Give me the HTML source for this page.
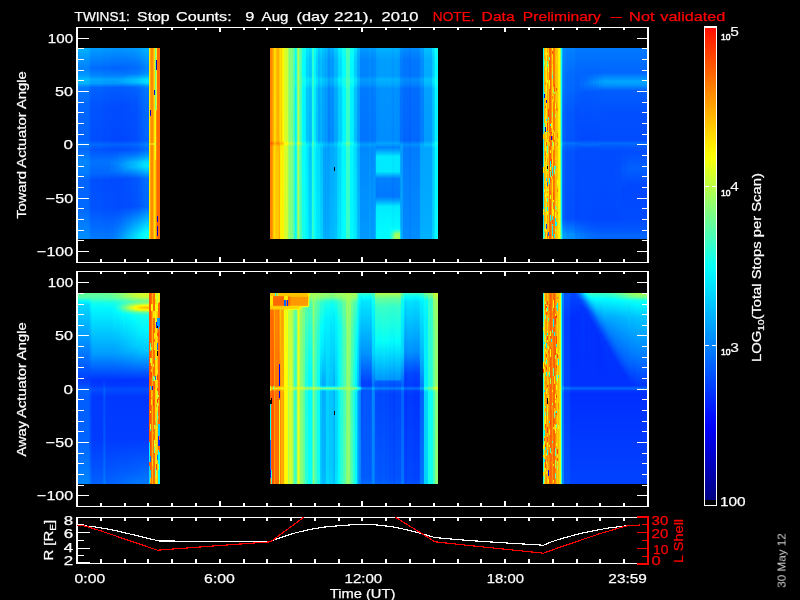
<!DOCTYPE html>
<html><head><meta charset="utf-8"><title>TWINS1 Stop Counts</title>
<style>
html,body{margin:0;padding:0;background:#000;}
body{width:800px;height:600px;position:relative;overflow:hidden;font-family:"Liberation Sans",sans-serif;}
svg{position:absolute;left:0;top:0;display:block;}
text{font-family:"Liberation Sans",sans-serif;font-weight:400;white-space:pre;stroke-width:.25px;}
</style></head><body>
<svg width="800" height="600" viewBox="0 0 800 600" shape-rendering="crispEdges">
<rect width="800" height="600" fill="#000"/>
<defs><linearGradient id="a0" gradientUnits="userSpaceOnUse" x1="0" y1="48" x2="0" y2="239"><stop offset="0.002618" stop-color="#00b1ff"/><stop offset="0.1073" stop-color="#007fff"/><stop offset="0.144" stop-color="#009aff"/><stop offset="0.1649" stop-color="#0bf"/><stop offset="0.1859" stop-color="#00b1ff"/><stop offset="0.2068" stop-color="#07f"/><stop offset="0.3063" stop-color="#0067ff"/><stop offset="0.4843" stop-color="#0062ff"/><stop offset="0.5052" stop-color="#007dff"/><stop offset="0.5314" stop-color="#0068ff"/><stop offset="0.5942" stop-color="#0086ff"/><stop offset="0.6571" stop-color="#007bff"/><stop offset="0.6937" stop-color="#0064ff"/><stop offset="0.8403" stop-color="#0068ff"/><stop offset="0.9764" stop-color="#008aff"/><stop offset="0.9974" stop-color="#008eff"/></linearGradient>
<linearGradient id="a1" gradientUnits="userSpaceOnUse" x1="0" y1="48" x2="0" y2="239"><stop offset="0.002618" stop-color="#00a5ff"/><stop offset="0.1073" stop-color="#0074ff"/><stop offset="0.144" stop-color="#008eff"/><stop offset="0.1649" stop-color="#00b0ff"/><stop offset="0.1859" stop-color="#00a5ff"/><stop offset="0.2068" stop-color="#006bff"/><stop offset="0.3063" stop-color="#005cff"/><stop offset="0.4843" stop-color="#0057ff"/><stop offset="0.5052" stop-color="#0072ff"/><stop offset="0.5314" stop-color="#005dff"/><stop offset="0.5942" stop-color="#007bff"/><stop offset="0.6571" stop-color="#0070ff"/><stop offset="0.6937" stop-color="#0058ff"/><stop offset="0.8403" stop-color="#005cff"/><stop offset="0.9764" stop-color="#007eff"/><stop offset="0.9974" stop-color="#0083ff"/></linearGradient>
<linearGradient id="a2" gradientUnits="userSpaceOnUse" x1="0" y1="48" x2="0" y2="239"><stop offset="0.002618" stop-color="#009cff"/><stop offset="0.1073" stop-color="#006bff"/><stop offset="0.144" stop-color="#0085ff"/><stop offset="0.1649" stop-color="#00a7ff"/><stop offset="0.1859" stop-color="#009cff"/><stop offset="0.2068" stop-color="#0062ff"/><stop offset="0.3063" stop-color="#0053ff"/><stop offset="0.4843" stop-color="#004eff"/><stop offset="0.5052" stop-color="#0069ff"/><stop offset="0.5314" stop-color="#0054ff"/><stop offset="0.5942" stop-color="#0072ff"/><stop offset="0.6571" stop-color="#0067ff"/><stop offset="0.6937" stop-color="#004fff"/><stop offset="0.8403" stop-color="#0053ff"/><stop offset="0.9764" stop-color="#0075ff"/><stop offset="0.9974" stop-color="#007aff"/></linearGradient>
<linearGradient id="a3" gradientUnits="userSpaceOnUse" x1="0" y1="48" x2="0" y2="239"><stop offset="0.002618" stop-color="#0098ff"/><stop offset="0.1073" stop-color="#0067ff"/><stop offset="0.144" stop-color="#0081ff"/><stop offset="0.1649" stop-color="#00a3ff"/><stop offset="0.1859" stop-color="#0098ff"/><stop offset="0.2068" stop-color="#005eff"/><stop offset="0.3063" stop-color="#004fff"/><stop offset="0.4843" stop-color="#004aff"/><stop offset="0.5052" stop-color="#0065ff"/><stop offset="0.5314" stop-color="#0050ff"/><stop offset="0.5942" stop-color="#0073ff"/><stop offset="0.6518" stop-color="#0069ff"/><stop offset="0.6937" stop-color="#004bff"/><stop offset="0.8403" stop-color="#004fff"/><stop offset="0.9764" stop-color="#0073ff"/><stop offset="0.9974" stop-color="#07f"/></linearGradient>
<linearGradient id="a4" gradientUnits="userSpaceOnUse" x1="0" y1="48" x2="0" y2="239"><stop offset="0.002618" stop-color="#0096ff"/><stop offset="0.1073" stop-color="#0065ff"/><stop offset="0.144" stop-color="#007fff"/><stop offset="0.1649" stop-color="#00a1ff"/><stop offset="0.1859" stop-color="#0096ff"/><stop offset="0.2068" stop-color="#005cff"/><stop offset="0.3063" stop-color="#004dff"/><stop offset="0.4843" stop-color="#0048ff"/><stop offset="0.5052" stop-color="#0063ff"/><stop offset="0.5314" stop-color="#004eff"/><stop offset="0.5995" stop-color="#007aff"/><stop offset="0.6466" stop-color="#0070ff"/><stop offset="0.6885" stop-color="#004aff"/><stop offset="0.8403" stop-color="#004eff"/><stop offset="0.9974" stop-color="#007cff"/></linearGradient>
<linearGradient id="a5" gradientUnits="userSpaceOnUse" x1="0" y1="48" x2="0" y2="239"><stop offset="0.002618" stop-color="#0095ff"/><stop offset="0.1073" stop-color="#0064ff"/><stop offset="0.144" stop-color="#007fff"/><stop offset="0.1649" stop-color="#00a2ff"/><stop offset="0.1859" stop-color="#0097ff"/><stop offset="0.2068" stop-color="#005bff"/><stop offset="0.3063" stop-color="#004cff"/><stop offset="0.4843" stop-color="#0047ff"/><stop offset="0.5052" stop-color="#0062ff"/><stop offset="0.5314" stop-color="#004eff"/><stop offset="0.5995" stop-color="#0081ff"/><stop offset="0.6414" stop-color="#0079ff"/><stop offset="0.6885" stop-color="#004aff"/><stop offset="0.8403" stop-color="#004dff"/><stop offset="0.9974" stop-color="#0085ff"/></linearGradient>
<linearGradient id="a6" gradientUnits="userSpaceOnUse" x1="0" y1="48" x2="0" y2="239"><stop offset="0.002618" stop-color="#0095ff"/><stop offset="0.1073" stop-color="#0063ff"/><stop offset="0.144" stop-color="#007fff"/><stop offset="0.1649" stop-color="#00a4ff"/><stop offset="0.1859" stop-color="#0098ff"/><stop offset="0.2068" stop-color="#005bff"/><stop offset="0.3063" stop-color="#004cff"/><stop offset="0.4843" stop-color="#0047ff"/><stop offset="0.5052" stop-color="#0062ff"/><stop offset="0.5314" stop-color="#004eff"/><stop offset="0.5995" stop-color="#08f"/><stop offset="0.6414" stop-color="#007dff"/><stop offset="0.6885" stop-color="#004aff"/><stop offset="0.8351" stop-color="#004bff"/><stop offset="0.9974" stop-color="#008dff"/></linearGradient>
<linearGradient id="a7" gradientUnits="userSpaceOnUse" x1="0" y1="48" x2="0" y2="239"><stop offset="0.002618" stop-color="#0095ff"/><stop offset="0.1073" stop-color="#0064ff"/><stop offset="0.144" stop-color="#007fff"/><stop offset="0.1649" stop-color="#00a6ff"/><stop offset="0.1806" stop-color="#00a3ff"/><stop offset="0.2068" stop-color="#005cff"/><stop offset="0.3063" stop-color="#004cff"/><stop offset="0.4843" stop-color="#0047ff"/><stop offset="0.5052" stop-color="#0062ff"/><stop offset="0.5314" stop-color="#004eff"/><stop offset="0.5733" stop-color="#0079ff"/><stop offset="0.6152" stop-color="#0090ff"/><stop offset="0.6518" stop-color="#0074ff"/><stop offset="0.6885" stop-color="#004aff"/><stop offset="0.8351" stop-color="#004bff"/><stop offset="0.9974" stop-color="#0095ff"/></linearGradient>
<linearGradient id="a8" gradientUnits="userSpaceOnUse" x1="0" y1="48" x2="0" y2="239"><stop offset="0.002618" stop-color="#0095ff"/><stop offset="0.1073" stop-color="#0064ff"/><stop offset="0.144" stop-color="#0080ff"/><stop offset="0.1649" stop-color="#00a8ff"/><stop offset="0.1806" stop-color="#00a6ff"/><stop offset="0.2068" stop-color="#005cff"/><stop offset="0.301" stop-color="#004cff"/><stop offset="0.4843" stop-color="#0047ff"/><stop offset="0.5052" stop-color="#0062ff"/><stop offset="0.5314" stop-color="#004eff"/><stop offset="0.5681" stop-color="#0074ff"/><stop offset="0.6099" stop-color="#0096ff"/><stop offset="0.6466" stop-color="#007fff"/><stop offset="0.6885" stop-color="#004bff"/><stop offset="0.8351" stop-color="#004cff"/><stop offset="0.9974" stop-color="#009eff"/></linearGradient>
<linearGradient id="a9" gradientUnits="userSpaceOnUse" x1="0" y1="48" x2="0" y2="239"><stop offset="0.002618" stop-color="#0096ff"/><stop offset="0.1073" stop-color="#0065ff"/><stop offset="0.1387" stop-color="#0078ff"/><stop offset="0.1649" stop-color="#00abff"/><stop offset="0.1806" stop-color="#00a9ff"/><stop offset="0.2068" stop-color="#005dff"/><stop offset="0.301" stop-color="#004dff"/><stop offset="0.4843" stop-color="#0048ff"/><stop offset="0.5052" stop-color="#0063ff"/><stop offset="0.5314" stop-color="#004fff"/><stop offset="0.5681" stop-color="#07f"/><stop offset="0.6047" stop-color="#009cff"/><stop offset="0.6361" stop-color="#0090ff"/><stop offset="0.6832" stop-color="#004eff"/><stop offset="0.8351" stop-color="#004dff"/><stop offset="0.9921" stop-color="#00a6ff"/><stop offset="0.9974" stop-color="#00a7ff"/></linearGradient>
<linearGradient id="a10" gradientUnits="userSpaceOnUse" x1="0" y1="48" x2="0" y2="239"><stop offset="0.002618" stop-color="#0097ff"/><stop offset="0.1021" stop-color="#06f"/><stop offset="0.1387" stop-color="#0079ff"/><stop offset="0.1649" stop-color="#00afff"/><stop offset="0.1806" stop-color="#00acff"/><stop offset="0.2068" stop-color="#005eff"/><stop offset="0.301" stop-color="#004eff"/><stop offset="0.4843" stop-color="#0048ff"/><stop offset="0.5052" stop-color="#0063ff"/><stop offset="0.5314" stop-color="#0050ff"/><stop offset="0.5681" stop-color="#007aff"/><stop offset="0.6047" stop-color="#00a2ff"/><stop offset="0.6361" stop-color="#0096ff"/><stop offset="0.6832" stop-color="#004fff"/><stop offset="0.8351" stop-color="#004eff"/><stop offset="0.9921" stop-color="#00b0ff"/><stop offset="0.9974" stop-color="#00b0ff"/></linearGradient>
<linearGradient id="a11" gradientUnits="userSpaceOnUse" x1="0" y1="48" x2="0" y2="239"><stop offset="0.002618" stop-color="#0098ff"/><stop offset="0.1021" stop-color="#0067ff"/><stop offset="0.1335" stop-color="#0074ff"/><stop offset="0.1649" stop-color="#00b2ff"/><stop offset="0.1806" stop-color="#00b0ff"/><stop offset="0.2068" stop-color="#005fff"/><stop offset="0.301" stop-color="#004eff"/><stop offset="0.4843" stop-color="#0049ff"/><stop offset="0.5052" stop-color="#0064ff"/><stop offset="0.5314" stop-color="#0051ff"/><stop offset="0.5628" stop-color="#0073ff"/><stop offset="0.5995" stop-color="#00a6ff"/><stop offset="0.6257" stop-color="#00a5ff"/><stop offset="0.6832" stop-color="#0051ff"/><stop offset="0.8298" stop-color="#004cff"/><stop offset="0.9869" stop-color="#00b9ff"/><stop offset="0.9974" stop-color="#00b9ff"/></linearGradient>
<linearGradient id="a12" gradientUnits="userSpaceOnUse" x1="0" y1="48" x2="0" y2="239"><stop offset="0.002618" stop-color="#09f"/><stop offset="0.1021" stop-color="#0068ff"/><stop offset="0.1335" stop-color="#0076ff"/><stop offset="0.1649" stop-color="#00b6ff"/><stop offset="0.1806" stop-color="#00b3ff"/><stop offset="0.2068" stop-color="#0061ff"/><stop offset="0.2958" stop-color="#004fff"/><stop offset="0.4843" stop-color="#004aff"/><stop offset="0.5052" stop-color="#0065ff"/><stop offset="0.5314" stop-color="#0052ff"/><stop offset="0.5628" stop-color="#0075ff"/><stop offset="0.5995" stop-color="#00acff"/><stop offset="0.6257" stop-color="#00acff"/><stop offset="0.6832" stop-color="#0052ff"/><stop offset="0.8298" stop-color="#004dff"/><stop offset="0.9869" stop-color="#00c2ff"/><stop offset="0.9974" stop-color="#00c3ff"/></linearGradient>
<linearGradient id="a13" gradientUnits="userSpaceOnUse" x1="0" y1="48" x2="0" y2="239"><stop offset="0.002618" stop-color="#09f"/><stop offset="0.1021" stop-color="#0069ff"/><stop offset="0.1335" stop-color="#07f"/><stop offset="0.1545" stop-color="#00a6ff"/><stop offset="0.1702" stop-color="#00bdff"/><stop offset="0.1859" stop-color="#0af"/><stop offset="0.2016" stop-color="#006cff"/><stop offset="0.2225" stop-color="#005cff"/><stop offset="0.322" stop-color="#0050ff"/><stop offset="0.4843" stop-color="#004bff"/><stop offset="0.5052" stop-color="#06f"/><stop offset="0.5314" stop-color="#0054ff"/><stop offset="0.5628" stop-color="#0078ff"/><stop offset="0.5995" stop-color="#00b1ff"/><stop offset="0.6257" stop-color="#00b1ff"/><stop offset="0.6832" stop-color="#0053ff"/><stop offset="0.8298" stop-color="#004eff"/><stop offset="0.9817" stop-color="#00caff"/><stop offset="0.9974" stop-color="#0cf"/></linearGradient>
<linearGradient id="a14" gradientUnits="userSpaceOnUse" x1="0" y1="48" x2="0" y2="239"><stop offset="0.002618" stop-color="#009aff"/><stop offset="0.1021" stop-color="#006aff"/><stop offset="0.1335" stop-color="#0078ff"/><stop offset="0.1492" stop-color="#0098ff"/><stop offset="0.1649" stop-color="#00bdff"/><stop offset="0.1806" stop-color="#00baff"/><stop offset="0.2068" stop-color="#0063ff"/><stop offset="0.2958" stop-color="#0051ff"/><stop offset="0.4843" stop-color="#004cff"/><stop offset="0.5052" stop-color="#0067ff"/><stop offset="0.5314" stop-color="#05f"/><stop offset="0.5628" stop-color="#007aff"/><stop offset="0.5995" stop-color="#00b7ff"/><stop offset="0.6257" stop-color="#00b7ff"/><stop offset="0.6832" stop-color="#05f"/><stop offset="0.8298" stop-color="#0050ff"/><stop offset="0.8979" stop-color="#008dff"/><stop offset="0.9869" stop-color="#00d4ff"/><stop offset="0.9974" stop-color="#00d5ff"/></linearGradient>
<linearGradient id="a15" gradientUnits="userSpaceOnUse" x1="0" y1="48" x2="0" y2="239"><stop offset="0.002618" stop-color="#009cff"/><stop offset="0.1021" stop-color="#006bff"/><stop offset="0.1335" stop-color="#0079ff"/><stop offset="0.1492" stop-color="#009aff"/><stop offset="0.1649" stop-color="#00c0ff"/><stop offset="0.1806" stop-color="#00beff"/><stop offset="0.2068" stop-color="#0064ff"/><stop offset="0.2958" stop-color="#0052ff"/><stop offset="0.4843" stop-color="#004dff"/><stop offset="0.5052" stop-color="#0068ff"/><stop offset="0.5314" stop-color="#0056ff"/><stop offset="0.5628" stop-color="#007cff"/><stop offset="0.5995" stop-color="#00bcff"/><stop offset="0.6257" stop-color="#00bcff"/><stop offset="0.6832" stop-color="#0056ff"/><stop offset="0.8298" stop-color="#0051ff"/><stop offset="0.8979" stop-color="#0092ff"/><stop offset="0.9817" stop-color="#00dbff"/><stop offset="0.9974" stop-color="#0df"/></linearGradient>
<linearGradient id="a16" gradientUnits="userSpaceOnUse" x1="0" y1="48" x2="0" y2="239"><stop offset="0.002618" stop-color="#009fff"/><stop offset="0.1021" stop-color="#006eff"/><stop offset="0.1335" stop-color="#007cff"/><stop offset="0.1492" stop-color="#009eff"/><stop offset="0.1649" stop-color="#00c6ff"/><stop offset="0.1806" stop-color="#00c3ff"/><stop offset="0.2016" stop-color="#0073ff"/><stop offset="0.2225" stop-color="#0061ff"/><stop offset="0.322" stop-color="#05f"/><stop offset="0.4843" stop-color="#0050ff"/><stop offset="0.5052" stop-color="#006bff"/><stop offset="0.5314" stop-color="#0059ff"/><stop offset="0.5628" stop-color="#0080ff"/><stop offset="0.5995" stop-color="#00c3ff"/><stop offset="0.6257" stop-color="#00c3ff"/><stop offset="0.6832" stop-color="#005aff"/><stop offset="0.8298" stop-color="#0054ff"/><stop offset="0.8927" stop-color="#0091ff"/><stop offset="0.9764" stop-color="#00e2ff"/><stop offset="0.9974" stop-color="#00e7ff"/></linearGradient>
<linearGradient id="a17" gradientUnits="userSpaceOnUse" x1="0" y1="48" x2="0" y2="239"><stop offset="0.002618" stop-color="#00a3ff"/><stop offset="0.1021" stop-color="#0072ff"/><stop offset="0.1335" stop-color="#0081ff"/><stop offset="0.1492" stop-color="#00a3ff"/><stop offset="0.1649" stop-color="#0cf"/><stop offset="0.1806" stop-color="#00caff"/><stop offset="0.2016" stop-color="#0078ff"/><stop offset="0.2173" stop-color="#06f"/><stop offset="0.322" stop-color="#005aff"/><stop offset="0.4843" stop-color="#05f"/><stop offset="0.5052" stop-color="#0070ff"/><stop offset="0.5314" stop-color="#005eff"/><stop offset="0.5628" stop-color="#0086ff"/><stop offset="0.5995" stop-color="#00caff"/><stop offset="0.6204" stop-color="#00cfff"/><stop offset="0.6518" stop-color="#009aff"/><stop offset="0.6832" stop-color="#005eff"/><stop offset="0.8298" stop-color="#0059ff"/><stop offset="0.8927" stop-color="#0098ff"/><stop offset="0.9764" stop-color="#00ecff"/><stop offset="0.9974" stop-color="#00f1ff"/></linearGradient>
<linearGradient id="a18" gradientUnits="userSpaceOnUse" x1="0" y1="48" x2="0" y2="239"><stop offset="0.002618" stop-color="#00a9ff"/><stop offset="0.1021" stop-color="#0078ff"/><stop offset="0.1335" stop-color="#0086ff"/><stop offset="0.1492" stop-color="#00a9ff"/><stop offset="0.1649" stop-color="#00d3ff"/><stop offset="0.1806" stop-color="#00d0ff"/><stop offset="0.2016" stop-color="#007eff"/><stop offset="0.2173" stop-color="#006cff"/><stop offset="0.322" stop-color="#005fff"/><stop offset="0.4843" stop-color="#005aff"/><stop offset="0.5052" stop-color="#0075ff"/><stop offset="0.5314" stop-color="#0063ff"/><stop offset="0.5628" stop-color="#008cff"/><stop offset="0.5995" stop-color="#00d1ff"/><stop offset="0.6204" stop-color="#00d6ff"/><stop offset="0.6518" stop-color="#00a0ff"/><stop offset="0.6832" stop-color="#0064ff"/><stop offset="0.8298" stop-color="#005eff"/><stop offset="0.8927" stop-color="#00a0ff"/><stop offset="0.9764" stop-color="#00f6ff"/><stop offset="0.9974" stop-color="#00fbff"/></linearGradient>
<linearGradient id="a19" gradientUnits="userSpaceOnUse" x1="0" y1="48" x2="0" y2="239"><stop offset="0.002618" stop-color="#00aeff"/><stop offset="0.1021" stop-color="#007dff"/><stop offset="0.1335" stop-color="#008bff"/><stop offset="0.1492" stop-color="#00aeff"/><stop offset="0.1649" stop-color="#00d9ff"/><stop offset="0.1806" stop-color="#00d7ff"/><stop offset="0.2016" stop-color="#0083ff"/><stop offset="0.2173" stop-color="#0071ff"/><stop offset="0.322" stop-color="#0065ff"/><stop offset="0.4843" stop-color="#005fff"/><stop offset="0.5052" stop-color="#007bff"/><stop offset="0.5314" stop-color="#0068ff"/><stop offset="0.5628" stop-color="#0091ff"/><stop offset="0.5995" stop-color="#00d8ff"/><stop offset="0.6204" stop-color="#0df"/><stop offset="0.6518" stop-color="#00a6ff"/><stop offset="0.6832" stop-color="#0069ff"/><stop offset="0.8298" stop-color="#0064ff"/><stop offset="0.8927" stop-color="#00a6ff"/><stop offset="0.9712" stop-color="#00faff"/><stop offset="0.9974" stop-color="#06fff9"/></linearGradient>
<linearGradient id="a20" gradientUnits="userSpaceOnUse" x1="0" y1="48" x2="0" y2="239"><stop offset="0.002618" stop-color="#00b3ff"/><stop offset="0.1021" stop-color="#0083ff"/><stop offset="0.1335" stop-color="#0091ff"/><stop offset="0.1492" stop-color="#00b4ff"/><stop offset="0.1649" stop-color="#00e0ff"/><stop offset="0.1806" stop-color="#0df"/><stop offset="0.2016" stop-color="#0089ff"/><stop offset="0.2173" stop-color="#0076ff"/><stop offset="0.322" stop-color="#006aff"/><stop offset="0.4843" stop-color="#0065ff"/><stop offset="0.5052" stop-color="#0080ff"/><stop offset="0.5314" stop-color="#006eff"/><stop offset="0.5628" stop-color="#0097ff"/><stop offset="0.5995" stop-color="#00deff"/><stop offset="0.6204" stop-color="#00e3ff"/><stop offset="0.6466" stop-color="#00b8ff"/><stop offset="0.6832" stop-color="#006fff"/><stop offset="0.8298" stop-color="#0069ff"/><stop offset="0.8927" stop-color="#00adff"/><stop offset="0.966" stop-color="#01fefe"/><stop offset="0.9974" stop-color="#12ffed"/></linearGradient>
<linearGradient id="a21" gradientUnits="userSpaceOnUse" x1="0" y1="48" x2="0" y2="239"><stop offset="0.002618" stop-color="#fff200"/><stop offset="0.9974" stop-color="#fff200"/></linearGradient>
<linearGradient id="a22" gradientUnits="userSpaceOnUse" x1="0" y1="48" x2="0" y2="239"><stop offset="0.002618" stop-color="#ffa700"/><stop offset="0.322" stop-color="#ffa700"/><stop offset="0.3272" stop-color="#0000c0"/><stop offset="0.3534" stop-color="#0000c0"/><stop offset="0.3586" stop-color="#ffa700"/><stop offset="0.4948" stop-color="#ffa700"/><stop offset="0.5" stop-color="#ffdc00"/><stop offset="0.5052" stop-color="#ffdc00"/><stop offset="0.5105" stop-color="#ffa700"/><stop offset="0.9974" stop-color="#ffa700"/></linearGradient>
<linearGradient id="a23" gradientUnits="userSpaceOnUse" x1="0" y1="48" x2="0" y2="239"><stop offset="0.002618" stop-color="#ff8c00"/><stop offset="0.4948" stop-color="#ff8c00"/><stop offset="0.5" stop-color="#ffc100"/><stop offset="0.5052" stop-color="#ffc100"/><stop offset="0.5105" stop-color="#ff8c00"/><stop offset="0.9974" stop-color="#ff8c00"/></linearGradient>
<linearGradient id="a24" gradientUnits="userSpaceOnUse" x1="0" y1="48" x2="0" y2="239"><stop offset="0.002618" stop-color="#ffb300"/><stop offset="0.4948" stop-color="#ffb300"/><stop offset="0.5" stop-color="#ffe900"/><stop offset="0.5052" stop-color="#ffe900"/><stop offset="0.5105" stop-color="#ffb300"/><stop offset="0.9974" stop-color="#ffb300"/></linearGradient>
<linearGradient id="a25" gradientUnits="userSpaceOnUse" x1="0" y1="48" x2="0" y2="239"><stop offset="0.002618" stop-color="#ffe200"/><stop offset="0.2173" stop-color="#ffe200"/><stop offset="0.2225" stop-color="#0000c0"/><stop offset="0.2435" stop-color="#0000c0"/><stop offset="0.2487" stop-color="#ffe200"/><stop offset="0.4948" stop-color="#ffe200"/><stop offset="0.5" stop-color="#e2ff1d"/><stop offset="0.5052" stop-color="#e2ff1d"/><stop offset="0.5105" stop-color="#ffe200"/><stop offset="0.9974" stop-color="#ffe200"/></linearGradient>
<linearGradient id="a26" gradientUnits="userSpaceOnUse" x1="0" y1="48" x2="0" y2="239"><stop offset="0.002618" stop-color="#75ff8a"/><stop offset="0.322" stop-color="#75ff8a"/><stop offset="0.3272" stop-color="#f4ff0b"/><stop offset="0.4948" stop-color="#f4ff0b"/><stop offset="0.5" stop-color="#b5ff4a"/><stop offset="0.5052" stop-color="#b5ff4a"/><stop offset="0.5105" stop-color="#f4ff0b"/><stop offset="0.5838" stop-color="#f4ff0b"/><stop offset="0.589" stop-color="#ffc100"/><stop offset="0.9974" stop-color="#ffc100"/></linearGradient>
<linearGradient id="a27" gradientUnits="userSpaceOnUse" x1="0" y1="48" x2="0" y2="239"><stop offset="0.002618" stop-color="#dfff20"/><stop offset="0.06021" stop-color="#dfff20"/><stop offset="0.06545" stop-color="#0000c0"/><stop offset="0.1126" stop-color="#0000c0"/><stop offset="0.1178" stop-color="#dfff20"/><stop offset="0.322" stop-color="#dfff20"/><stop offset="0.3272" stop-color="#ff8b00"/><stop offset="0.9974" stop-color="#ff8b00"/></linearGradient>
<linearGradient id="a28" gradientUnits="userSpaceOnUse" x1="0" y1="48" x2="0" y2="239"><stop offset="0.002618" stop-color="#ff6900"/><stop offset="0.877" stop-color="#ff6900"/><stop offset="0.8822" stop-color="#0000c0"/><stop offset="0.9084" stop-color="#0000c0"/><stop offset="0.9136" stop-color="#ff6900"/><stop offset="0.9293" stop-color="#ff6900"/><stop offset="0.9346" stop-color="#0000c0"/><stop offset="0.9817" stop-color="#0000c0"/><stop offset="0.9869" stop-color="#ff6900"/><stop offset="0.9974" stop-color="#ff6900"/></linearGradient>
<linearGradient id="a29" gradientUnits="userSpaceOnUse" x1="0" y1="48" x2="0" y2="239"><stop offset="0.002618" stop-color="#ff6800"/><stop offset="0.9974" stop-color="#ff6800"/></linearGradient>
<linearGradient id="a30" gradientUnits="userSpaceOnUse" x1="0" y1="48" x2="0" y2="239"><stop offset="0.002618" stop-color="#ff8500"/><stop offset="0.4843" stop-color="#ff8300"/><stop offset="0.5" stop-color="#ff5800"/><stop offset="0.5157" stop-color="#ff8200"/><stop offset="0.9974" stop-color="#ff8400"/></linearGradient>
<linearGradient id="a31" gradientUnits="userSpaceOnUse" x1="0" y1="48" x2="0" y2="239"><stop offset="0.002618" stop-color="#ffa200"/><stop offset="0.4843" stop-color="#ffa100"/><stop offset="0.5" stop-color="#ff7500"/><stop offset="0.5157" stop-color="#ff9d00"/><stop offset="0.9974" stop-color="#ff9e00"/></linearGradient>
<linearGradient id="a32" gradientUnits="userSpaceOnUse" x1="0" y1="48" x2="0" y2="239"><stop offset="0.002618" stop-color="#ffae00"/><stop offset="0.4843" stop-color="#ffac00"/><stop offset="0.5" stop-color="#ff8700"/><stop offset="0.5157" stop-color="#fb0"/><stop offset="0.6152" stop-color="#ffc300"/><stop offset="0.9974" stop-color="#ffc300"/></linearGradient>
<linearGradient id="a33" gradientUnits="userSpaceOnUse" x1="0" y1="48" x2="0" y2="239"><stop offset="0.002618" stop-color="#ffe100"/><stop offset="0.4843" stop-color="#ffe000"/><stop offset="0.5" stop-color="#ffb500"/><stop offset="0.5157" stop-color="#ffdf00"/><stop offset="0.9974" stop-color="#ffe100"/></linearGradient>
<linearGradient id="a34" gradientUnits="userSpaceOnUse" x1="0" y1="48" x2="0" y2="239"><stop offset="0.002618" stop-color="#ffd500"/><stop offset="0.4843" stop-color="#ffd300"/><stop offset="0.5" stop-color="#ffa600"/><stop offset="0.5157" stop-color="#ffcd00"/><stop offset="0.9974" stop-color="#ffcd00"/></linearGradient>
<linearGradient id="a35" gradientUnits="userSpaceOnUse" x1="0" y1="48" x2="0" y2="239"><stop offset="0.002618" stop-color="#ffbf00"/><stop offset="0.4843" stop-color="#ffbd00"/><stop offset="0.5" stop-color="#ff9600"/><stop offset="0.5157" stop-color="#ffc400"/><stop offset="0.9974" stop-color="#ffca00"/></linearGradient>
<linearGradient id="a36" gradientUnits="userSpaceOnUse" x1="0" y1="48" x2="0" y2="239"><stop offset="0.002618" stop-color="#ffb000"/><stop offset="0.4843" stop-color="#ffaf00"/><stop offset="0.5" stop-color="#ff8a00"/><stop offset="0.5157" stop-color="#ffbe00"/><stop offset="0.5942" stop-color="#ffc700"/><stop offset="0.9974" stop-color="#ffc700"/></linearGradient>
<linearGradient id="a37" gradientUnits="userSpaceOnUse" x1="0" y1="48" x2="0" y2="239"><stop offset="0.002618" stop-color="#ffca00"/><stop offset="0.4843" stop-color="#ffc800"/><stop offset="0.4948" stop-color="#ffa800"/><stop offset="0.5" stop-color="#ff9500"/><stop offset="0.5157" stop-color="#ffb200"/><stop offset="0.9974" stop-color="#ffad00"/></linearGradient>
<linearGradient id="a38" gradientUnits="userSpaceOnUse" x1="0" y1="48" x2="0" y2="239"><stop offset="0.002618" stop-color="#ffe100"/><stop offset="0.4843" stop-color="#ffe000"/><stop offset="0.5" stop-color="#ffb900"/><stop offset="0.5157" stop-color="#ffe900"/><stop offset="0.9974" stop-color="#fff000"/></linearGradient>
<linearGradient id="a39" gradientUnits="userSpaceOnUse" x1="0" y1="48" x2="0" y2="239"><stop offset="0.002618" stop-color="#ffd100"/><stop offset="0.4895" stop-color="#ffca00"/><stop offset="0.5" stop-color="#ffb000"/><stop offset="0.5157" stop-color="#ffec00"/><stop offset="0.5471" stop-color="#fff900"/><stop offset="0.9974" stop-color="#fff900"/></linearGradient>
<linearGradient id="a40" gradientUnits="userSpaceOnUse" x1="0" y1="48" x2="0" y2="239"><stop offset="0.002618" stop-color="#fff000"/><stop offset="0.4843" stop-color="#fe0"/><stop offset="0.5" stop-color="#ffc300"/><stop offset="0.5157" stop-color="#ffed00"/><stop offset="0.9974" stop-color="#ffef00"/></linearGradient>
<linearGradient id="a41" gradientUnits="userSpaceOnUse" x1="0" y1="48" x2="0" y2="239"><stop offset="0.002618" stop-color="#fffa00"/><stop offset="0.4843" stop-color="#fff800"/><stop offset="0.5" stop-color="#fc0"/><stop offset="0.5157" stop-color="#fff300"/><stop offset="0.9974" stop-color="#fff400"/></linearGradient>
<linearGradient id="a42" gradientUnits="userSpaceOnUse" x1="0" y1="48" x2="0" y2="239"><stop offset="0.002618" stop-color="#d9ff26"/><stop offset="0.4843" stop-color="#dbff24"/><stop offset="0.4948" stop-color="#fbff04"/><stop offset="0.5" stop-color="#fff300"/><stop offset="0.5052" stop-color="#fffe00"/><stop offset="0.5157" stop-color="#daff25"/><stop offset="0.9974" stop-color="#d7ff28"/></linearGradient>
<linearGradient id="a43" gradientUnits="userSpaceOnUse" x1="0" y1="48" x2="0" y2="239"><stop offset="0.002618" stop-color="#d2ff2d"/><stop offset="0.4843" stop-color="#d4ff2b"/><stop offset="0.5" stop-color="#fff900"/><stop offset="0.5052" stop-color="#f9ff06"/><stop offset="0.5157" stop-color="#d3ff2c"/><stop offset="0.9974" stop-color="#cfff30"/></linearGradient>
<linearGradient id="a44" gradientUnits="userSpaceOnUse" x1="0" y1="48" x2="0" y2="239"><stop offset="0.002618" stop-color="#cbff34"/><stop offset="0.4843" stop-color="#cdff32"/><stop offset="0.4948" stop-color="#ef1"/><stop offset="0.5" stop-color="#ff0"/><stop offset="0.5157" stop-color="#cf3"/><stop offset="0.9974" stop-color="#c8ff37"/></linearGradient>
<linearGradient id="a45" gradientUnits="userSpaceOnUse" x1="0" y1="48" x2="0" y2="239"><stop offset="0.002618" stop-color="#9aff65"/><stop offset="0.4843" stop-color="#9bff64"/><stop offset="0.4948" stop-color="#bcff43"/><stop offset="0.5" stop-color="#cdff32"/><stop offset="0.5157" stop-color="#9f6"/><stop offset="0.9974" stop-color="#95ff6a"/></linearGradient>
<linearGradient id="a46" gradientUnits="userSpaceOnUse" x1="0" y1="48" x2="0" y2="239"><stop offset="0.002618" stop-color="#84ff7b"/><stop offset="0.4843" stop-color="#84ff7b"/><stop offset="0.4948" stop-color="#a4ff5b"/><stop offset="0.5" stop-color="#b6ff49"/><stop offset="0.5157" stop-color="#84ff7b"/><stop offset="0.9974" stop-color="#81ff7e"/></linearGradient>
<linearGradient id="a47" gradientUnits="userSpaceOnUse" x1="0" y1="48" x2="0" y2="239"><stop offset="0.002618" stop-color="#7fff80"/><stop offset="0.4843" stop-color="#7dff82"/><stop offset="0.4948" stop-color="#9dff62"/><stop offset="0.5" stop-color="#afff50"/><stop offset="0.5157" stop-color="#7dff82"/><stop offset="0.9974" stop-color="#7bff84"/></linearGradient>
<linearGradient id="a48" gradientUnits="userSpaceOnUse" x1="0" y1="48" x2="0" y2="239"><stop offset="0.002618" stop-color="#5bffa4"/><stop offset="0.144" stop-color="#52ffad"/><stop offset="0.1911" stop-color="#57ffa8"/><stop offset="0.3482" stop-color="#4cffb3"/><stop offset="0.4843" stop-color="#4effb1"/><stop offset="0.5" stop-color="#7cff83"/><stop offset="0.5157" stop-color="#4fffb0"/><stop offset="0.9346" stop-color="#4effb1"/><stop offset="0.9974" stop-color="#4effb1"/></linearGradient>
<linearGradient id="a49" gradientUnits="userSpaceOnUse" x1="0" y1="48" x2="0" y2="239"><stop offset="0.002618" stop-color="#4bffb4"/><stop offset="0.144" stop-color="#3fffc0"/><stop offset="0.1806" stop-color="#4affb5"/><stop offset="0.2225" stop-color="#3affc5"/><stop offset="0.4843" stop-color="#39ffc6"/><stop offset="0.5" stop-color="#67ff98"/><stop offset="0.5209" stop-color="#35ffca"/><stop offset="0.9974" stop-color="#3cffc3"/></linearGradient>
<linearGradient id="a50" gradientUnits="userSpaceOnUse" x1="0" y1="48" x2="0" y2="239"><stop offset="0.002618" stop-color="#10ffef"/><stop offset="0.04974" stop-color="#00fdff"/><stop offset="0.144" stop-color="#00faff"/><stop offset="0.1754" stop-color="#10ffef"/><stop offset="0.212" stop-color="#00f4ff"/><stop offset="0.4843" stop-color="#00f0ff"/><stop offset="0.4948" stop-color="#08fff7"/><stop offset="0.5" stop-color="#17ffe8"/><stop offset="0.5157" stop-color="#00f7ff"/><stop offset="0.9241" stop-color="#00f7ff"/><stop offset="0.9974" stop-color="#00fcff"/></linearGradient>
<linearGradient id="a51" gradientUnits="userSpaceOnUse" x1="0" y1="48" x2="0" y2="239"><stop offset="0.002618" stop-color="#3fc"/><stop offset="0.1126" stop-color="#1effe1"/><stop offset="0.1492" stop-color="#29ffd6"/><stop offset="0.1806" stop-color="#3fc"/><stop offset="0.212" stop-color="#1cffe3"/><stop offset="0.4843" stop-color="#19ffe6"/><stop offset="0.5" stop-color="#47ffb8"/><stop offset="0.5105" stop-color="#2fffd0"/><stop offset="0.5262" stop-color="#1affe5"/><stop offset="0.9346" stop-color="#24ffdb"/><stop offset="0.9974" stop-color="#25ffda"/></linearGradient>
<linearGradient id="a52" gradientUnits="userSpaceOnUse" x1="0" y1="48" x2="0" y2="239"><stop offset="0.002618" stop-color="#7fff80"/><stop offset="0.4843" stop-color="#7eff81"/><stop offset="0.5" stop-color="#afff50"/><stop offset="0.5157" stop-color="#7cff83"/><stop offset="0.9974" stop-color="#79ff86"/></linearGradient>
<linearGradient id="a53" gradientUnits="userSpaceOnUse" x1="0" y1="48" x2="0" y2="239"><stop offset="0.002618" stop-color="#aeff51"/><stop offset="0.4843" stop-color="#b0ff4f"/><stop offset="0.4948" stop-color="#d0ff2f"/><stop offset="0.5" stop-color="#e0ff1f"/><stop offset="0.5157" stop-color="#af5"/><stop offset="0.9974" stop-color="#a4ff5b"/></linearGradient>
<linearGradient id="a54" gradientUnits="userSpaceOnUse" x1="0" y1="48" x2="0" y2="239"><stop offset="0.002618" stop-color="#7eff81"/><stop offset="0.4843" stop-color="#7cff83"/><stop offset="0.5" stop-color="#acff53"/><stop offset="0.5157" stop-color="#78ff87"/><stop offset="0.9974" stop-color="#74ff8b"/></linearGradient>
<linearGradient id="a55" gradientUnits="userSpaceOnUse" x1="0" y1="48" x2="0" y2="239"><stop offset="0.002618" stop-color="#58ffa7"/><stop offset="0.144" stop-color="#4effb1"/><stop offset="0.1859" stop-color="#56ffa9"/><stop offset="0.233" stop-color="#4affb5"/><stop offset="0.4843" stop-color="#49ffb6"/><stop offset="0.5" stop-color="#7f8"/><stop offset="0.5157" stop-color="#4affb5"/><stop offset="0.7984" stop-color="#4fb"/><stop offset="0.9974" stop-color="#4affb5"/></linearGradient>
<linearGradient id="a56" gradientUnits="userSpaceOnUse" x1="0" y1="48" x2="0" y2="239"><stop offset="0.002618" stop-color="#53ffac"/><stop offset="0.144" stop-color="#47ffb8"/><stop offset="0.1859" stop-color="#51ffae"/><stop offset="0.2277" stop-color="#43ffbc"/><stop offset="0.4843" stop-color="#41ffbe"/><stop offset="0.5" stop-color="#70ff8f"/><stop offset="0.5209" stop-color="#3fffc0"/><stop offset="0.9974" stop-color="#46ffb9"/></linearGradient>
<linearGradient id="a57" gradientUnits="userSpaceOnUse" x1="0" y1="48" x2="0" y2="239"><stop offset="0.002618" stop-color="#1effe1"/><stop offset="0.07068" stop-color="#0cfff3"/><stop offset="0.144" stop-color="#0afff5"/><stop offset="0.1702" stop-color="#1effe1"/><stop offset="0.1911" stop-color="#15ffea"/><stop offset="0.212" stop-color="#03fffc"/><stop offset="0.4843" stop-color="#00feff"/><stop offset="0.4948" stop-color="#1effe1"/><stop offset="0.5" stop-color="#30ffcf"/><stop offset="0.5105" stop-color="#1effe1"/><stop offset="0.5262" stop-color="#0dfff2"/><stop offset="0.9293" stop-color="#17ffe8"/><stop offset="0.9974" stop-color="#1affe5"/></linearGradient>
<linearGradient id="a58" gradientUnits="userSpaceOnUse" x1="0" y1="48" x2="0" y2="239"><stop offset="0.002618" stop-color="#16ffe9"/><stop offset="0.06545" stop-color="#02fffd"/><stop offset="0.144" stop-color="#01fffe"/><stop offset="0.1649" stop-color="#16ffe9"/><stop offset="0.1911" stop-color="#0cfff3"/><stop offset="0.212" stop-color="#00f9ff"/><stop offset="0.4843" stop-color="#00f6ff"/><stop offset="0.4895" stop-color="#00feff"/><stop offset="0.5" stop-color="#25ffda"/><stop offset="0.5105" stop-color="#15ffea"/><stop offset="0.5262" stop-color="#05fffa"/><stop offset="0.9293" stop-color="#10ffef"/><stop offset="0.9974" stop-color="#13ffec"/></linearGradient>
<linearGradient id="a59" gradientUnits="userSpaceOnUse" x1="0" y1="48" x2="0" y2="239"><stop offset="0.002618" stop-color="#09fff6"/><stop offset="0.08115" stop-color="#00f7ff"/><stop offset="0.144" stop-color="#00f6ff"/><stop offset="0.1859" stop-color="#06fff9"/><stop offset="0.2225" stop-color="#00efff"/><stop offset="0.4843" stop-color="#00ecff"/><stop offset="0.4948" stop-color="#05fffa"/><stop offset="0.5" stop-color="#18ffe7"/><stop offset="0.5105" stop-color="#0afff5"/><stop offset="0.5262" stop-color="#00fcff"/><stop offset="0.9293" stop-color="#07fff8"/><stop offset="0.9974" stop-color="#0afff5"/></linearGradient>
<linearGradient id="a60" gradientUnits="userSpaceOnUse" x1="0" y1="48" x2="0" y2="239"><stop offset="0.002618" stop-color="#00e8ff"/><stop offset="0.06021" stop-color="#00d4ff"/><stop offset="0.144" stop-color="#00d2ff"/><stop offset="0.1649" stop-color="#00e8ff"/><stop offset="0.1911" stop-color="#00deff"/><stop offset="0.212" stop-color="#00c9ff"/><stop offset="0.4843" stop-color="#00c4ff"/><stop offset="0.5052" stop-color="#00f2ff"/><stop offset="0.5262" stop-color="#00e9ff"/><stop offset="0.9346" stop-color="#00f6ff"/><stop offset="0.9974" stop-color="#00f7ff"/></linearGradient>
<linearGradient id="a61" gradientUnits="userSpaceOnUse" x1="0" y1="48" x2="0" y2="239"><stop offset="0.002618" stop-color="#00edff"/><stop offset="0.06021" stop-color="#00d9ff"/><stop offset="0.144" stop-color="#00d7ff"/><stop offset="0.1649" stop-color="#00edff"/><stop offset="0.1911" stop-color="#00e3ff"/><stop offset="0.212" stop-color="#00ceff"/><stop offset="0.4843" stop-color="#00c8ff"/><stop offset="0.5052" stop-color="#00efff"/><stop offset="0.5262" stop-color="#00dbff"/><stop offset="0.9293" stop-color="#00e7ff"/><stop offset="0.9974" stop-color="#00eaff"/></linearGradient>
<linearGradient id="a62" gradientUnits="userSpaceOnUse" x1="0" y1="48" x2="0" y2="239"><stop offset="0.002618" stop-color="#00d9ff"/><stop offset="0.06021" stop-color="#00c5ff"/><stop offset="0.144" stop-color="#00c3ff"/><stop offset="0.1649" stop-color="#00d9ff"/><stop offset="0.1911" stop-color="#00cfff"/><stop offset="0.212" stop-color="#00baff"/><stop offset="0.4843" stop-color="#00b4ff"/><stop offset="0.5052" stop-color="#00daff"/><stop offset="0.5262" stop-color="#00c5ff"/><stop offset="0.9293" stop-color="#00d2ff"/><stop offset="0.9974" stop-color="#00d6ff"/></linearGradient>
<linearGradient id="a63" gradientUnits="userSpaceOnUse" x1="0" y1="48" x2="0" y2="239"><stop offset="0.002618" stop-color="#00e9ff"/><stop offset="0.06021" stop-color="#00d4ff"/><stop offset="0.144" stop-color="#00d2ff"/><stop offset="0.1649" stop-color="#00e8ff"/><stop offset="0.1911" stop-color="#00deff"/><stop offset="0.212" stop-color="#00c9ff"/><stop offset="0.4843" stop-color="#00c3ff"/><stop offset="0.5052" stop-color="#00e8ff"/><stop offset="0.5262" stop-color="#00d3ff"/><stop offset="0.9293" stop-color="#00dfff"/><stop offset="0.9974" stop-color="#00e2ff"/></linearGradient>
<linearGradient id="a64" gradientUnits="userSpaceOnUse" x1="0" y1="48" x2="0" y2="239"><stop offset="0.002618" stop-color="#37ffc8"/><stop offset="0.1283" stop-color="#24ffdb"/><stop offset="0.1806" stop-color="#37ffc8"/><stop offset="0.2173" stop-color="#2fd"/><stop offset="0.4843" stop-color="#1fffe0"/><stop offset="0.5" stop-color="#50ffaf"/><stop offset="0.5209" stop-color="#27ffd8"/><stop offset="0.9974" stop-color="#31ffce"/></linearGradient>
<linearGradient id="a65" gradientUnits="userSpaceOnUse" x1="0" y1="48" x2="0" y2="239"><stop offset="0.002618" stop-color="#0cfff3"/><stop offset="0.05497" stop-color="#00f9ff"/><stop offset="0.144" stop-color="#00f7ff"/><stop offset="0.1806" stop-color="#0bfff4"/><stop offset="0.212" stop-color="#00f0ff"/><stop offset="0.4843" stop-color="#00edff"/><stop offset="0.4948" stop-color="#06fff9"/><stop offset="0.5" stop-color="#17ffe8"/><stop offset="0.5105" stop-color="#08fff7"/><stop offset="0.5366" stop-color="#00f9ff"/><stop offset="0.9974" stop-color="#06fff9"/></linearGradient>
<linearGradient id="a66" gradientUnits="userSpaceOnUse" x1="0" y1="48" x2="0" y2="239"><stop offset="0.002618" stop-color="#02fffd"/><stop offset="0.123" stop-color="#00eaff"/><stop offset="0.1492" stop-color="#00f5ff"/><stop offset="0.1806" stop-color="#01fffe"/><stop offset="0.212" stop-color="#00e7ff"/><stop offset="0.4843" stop-color="#00e3ff"/><stop offset="0.5" stop-color="#0afff5"/><stop offset="0.5314" stop-color="#00f2ff"/><stop offset="0.9346" stop-color="#00fcff"/><stop offset="0.9974" stop-color="#00fdff"/></linearGradient>
<linearGradient id="a67" gradientUnits="userSpaceOnUse" x1="0" y1="48" x2="0" y2="239"><stop offset="0.002618" stop-color="#00e8ff"/><stop offset="0.06021" stop-color="#00d4ff"/><stop offset="0.144" stop-color="#00d2ff"/><stop offset="0.1649" stop-color="#00e8ff"/><stop offset="0.1911" stop-color="#0df"/><stop offset="0.212" stop-color="#00c9ff"/><stop offset="0.4843" stop-color="#00c4ff"/><stop offset="0.5052" stop-color="#00edff"/><stop offset="0.5262" stop-color="#0df"/><stop offset="0.9293" stop-color="#00e8ff"/><stop offset="0.9974" stop-color="#00ebff"/></linearGradient>
<linearGradient id="a68" gradientUnits="userSpaceOnUse" x1="0" y1="48" x2="0" y2="239"><stop offset="0.002618" stop-color="#0cf"/><stop offset="0.06021" stop-color="#00b8ff"/><stop offset="0.144" stop-color="#00b6ff"/><stop offset="0.1649" stop-color="#0cf"/><stop offset="0.1911" stop-color="#00c1ff"/><stop offset="0.212" stop-color="#00adff"/><stop offset="0.4843" stop-color="#00a7ff"/><stop offset="0.5052" stop-color="#00daff"/><stop offset="0.9293" stop-color="#00e3ff"/><stop offset="0.9974" stop-color="#00e6ff"/></linearGradient>
<linearGradient id="a69" gradientUnits="userSpaceOnUse" x1="0" y1="48" x2="0" y2="239"><stop offset="0.002618" stop-color="#00d5ff"/><stop offset="0.06021" stop-color="#00c0ff"/><stop offset="0.144" stop-color="#00beff"/><stop offset="0.1649" stop-color="#00d5ff"/><stop offset="0.1911" stop-color="#00caff"/><stop offset="0.212" stop-color="#00b5ff"/><stop offset="0.4843" stop-color="#00b0ff"/><stop offset="0.5052" stop-color="#00d6ff"/><stop offset="0.5262" stop-color="#00c4ff"/><stop offset="0.9293" stop-color="#00d0ff"/><stop offset="0.9974" stop-color="#00d4ff"/></linearGradient>
<linearGradient id="a70" gradientUnits="userSpaceOnUse" x1="0" y1="48" x2="0" y2="239"><stop offset="0.002618" stop-color="#00c6ff"/><stop offset="0.06021" stop-color="#00b2ff"/><stop offset="0.144" stop-color="#00afff"/><stop offset="0.1649" stop-color="#00c6ff"/><stop offset="0.1911" stop-color="#0bf"/><stop offset="0.212" stop-color="#00a6ff"/><stop offset="0.4843" stop-color="#00a1ff"/><stop offset="0.5052" stop-color="#0cf"/><stop offset="0.5262" stop-color="#00bfff"/><stop offset="0.9293" stop-color="#0cf"/><stop offset="0.9974" stop-color="#00cfff"/></linearGradient>
<linearGradient id="a71" gradientUnits="userSpaceOnUse" x1="0" y1="48" x2="0" y2="239"><stop offset="0.002618" stop-color="#00c4ff"/><stop offset="0.06021" stop-color="#00afff"/><stop offset="0.144" stop-color="#00adff"/><stop offset="0.1649" stop-color="#00c4ff"/><stop offset="0.1911" stop-color="#00b9ff"/><stop offset="0.212" stop-color="#00a4ff"/><stop offset="0.4843" stop-color="#009fff"/><stop offset="0.5052" stop-color="#00beff"/><stop offset="0.5262" stop-color="#00a3ff"/><stop offset="0.9241" stop-color="#00abff"/><stop offset="0.9974" stop-color="#00b3ff"/></linearGradient>
<linearGradient id="a72" gradientUnits="userSpaceOnUse" x1="0" y1="48" x2="0" y2="239"><stop offset="0.002618" stop-color="#0bf"/><stop offset="0.06021" stop-color="#00a7ff"/><stop offset="0.144" stop-color="#00a4ff"/><stop offset="0.1649" stop-color="#0bf"/><stop offset="0.1911" stop-color="#00b0ff"/><stop offset="0.212" stop-color="#009bff"/><stop offset="0.4843" stop-color="#0096ff"/><stop offset="0.5052" stop-color="#00b5ff"/><stop offset="0.5262" stop-color="#009aff"/><stop offset="0.9241" stop-color="#00a1ff"/><stop offset="0.9974" stop-color="#00a9ff"/></linearGradient>
<linearGradient id="a73" gradientUnits="userSpaceOnUse" x1="0" y1="48" x2="0" y2="239"><stop offset="0.002618" stop-color="#00beff"/><stop offset="0.06021" stop-color="#00a9ff"/><stop offset="0.144" stop-color="#00a7ff"/><stop offset="0.1649" stop-color="#00beff"/><stop offset="0.1911" stop-color="#00b3ff"/><stop offset="0.212" stop-color="#009eff"/><stop offset="0.4843" stop-color="#09f"/><stop offset="0.5052" stop-color="#0bf"/><stop offset="0.5262" stop-color="#00a4ff"/><stop offset="0.9241" stop-color="#00acff"/><stop offset="0.9974" stop-color="#00b4ff"/></linearGradient>
<linearGradient id="a74" gradientUnits="userSpaceOnUse" x1="0" y1="48" x2="0" y2="239"><stop offset="0.002618" stop-color="#00b4ff"/><stop offset="0.06021" stop-color="#009fff"/><stop offset="0.144" stop-color="#009dff"/><stop offset="0.1649" stop-color="#00b4ff"/><stop offset="0.1911" stop-color="#00a9ff"/><stop offset="0.212" stop-color="#0094ff"/><stop offset="0.4843" stop-color="#008fff"/><stop offset="0.5052" stop-color="#00b3ff"/><stop offset="0.5262" stop-color="#009dff"/><stop offset="0.9241" stop-color="#00a6ff"/><stop offset="0.9974" stop-color="#00adff"/></linearGradient>
<linearGradient id="a75" gradientUnits="userSpaceOnUse" x1="0" y1="48" x2="0" y2="239"><stop offset="0.002618" stop-color="#00a4ff"/><stop offset="0.06021" stop-color="#0090ff"/><stop offset="0.144" stop-color="#008eff"/><stop offset="0.1649" stop-color="#00a4ff"/><stop offset="0.1911" stop-color="#09f"/><stop offset="0.212" stop-color="#0085ff"/><stop offset="0.4843" stop-color="#007fff"/><stop offset="0.5052" stop-color="#0af"/><stop offset="0.5262" stop-color="#009dff"/><stop offset="0.9293" stop-color="#0af"/><stop offset="0.9974" stop-color="#00aeff"/></linearGradient>
<linearGradient id="a76" gradientUnits="userSpaceOnUse" x1="0" y1="48" x2="0" y2="239"><stop offset="0.002618" stop-color="#00b0ff"/><stop offset="0.06021" stop-color="#009bff"/><stop offset="0.144" stop-color="#09f"/><stop offset="0.1649" stop-color="#00b0ff"/><stop offset="0.1911" stop-color="#00a5ff"/><stop offset="0.212" stop-color="#0090ff"/><stop offset="0.4843" stop-color="#008bff"/><stop offset="0.5052" stop-color="#00b6ff"/><stop offset="0.5262" stop-color="#00a9ff"/><stop offset="0.9293" stop-color="#00b6ff"/><stop offset="0.9974" stop-color="#00baff"/></linearGradient>
<linearGradient id="a77" gradientUnits="userSpaceOnUse" x1="0" y1="48" x2="0" y2="239"><stop offset="0.002618" stop-color="#00c8ff"/><stop offset="0.06021" stop-color="#00b4ff"/><stop offset="0.144" stop-color="#00b1ff"/><stop offset="0.1649" stop-color="#00c8ff"/><stop offset="0.1911" stop-color="#00bdff"/><stop offset="0.212" stop-color="#00a8ff"/><stop offset="0.4843" stop-color="#00a3ff"/><stop offset="0.5052" stop-color="#00c7ff"/><stop offset="0.5262" stop-color="#00b1ff"/><stop offset="0.6204" stop-color="#00b2ff"/><stop offset="0.6257" stop-color="#000"/><stop offset="0.6414" stop-color="#000"/><stop offset="0.6466" stop-color="#00b2ff"/><stop offset="0.9293" stop-color="#00bdff"/><stop offset="0.9974" stop-color="#00c1ff"/></linearGradient>
<linearGradient id="a78" gradientUnits="userSpaceOnUse" x1="0" y1="48" x2="0" y2="239"><stop offset="0.002618" stop-color="#00cdff"/><stop offset="0.06021" stop-color="#00b8ff"/><stop offset="0.144" stop-color="#00b6ff"/><stop offset="0.1649" stop-color="#0cf"/><stop offset="0.1911" stop-color="#00c2ff"/><stop offset="0.212" stop-color="#00adff"/><stop offset="0.4843" stop-color="#00a8ff"/><stop offset="0.5052" stop-color="#00cbff"/><stop offset="0.5262" stop-color="#00b5ff"/><stop offset="0.9241" stop-color="#00bdff"/><stop offset="0.9974" stop-color="#00c5ff"/></linearGradient>
<linearGradient id="a79" gradientUnits="userSpaceOnUse" x1="0" y1="48" x2="0" y2="239"><stop offset="0.002618" stop-color="#00cdff"/><stop offset="0.06021" stop-color="#00b8ff"/><stop offset="0.144" stop-color="#00b6ff"/><stop offset="0.1649" stop-color="#00cdff"/><stop offset="0.1911" stop-color="#00c2ff"/><stop offset="0.212" stop-color="#00adff"/><stop offset="0.4843" stop-color="#00a8ff"/><stop offset="0.5052" stop-color="#00d4ff"/><stop offset="0.5262" stop-color="#00c8ff"/><stop offset="0.9293" stop-color="#00d5ff"/><stop offset="0.9974" stop-color="#00d9ff"/></linearGradient>
<linearGradient id="a80" gradientUnits="userSpaceOnUse" x1="0" y1="48" x2="0" y2="239"><stop offset="0.002618" stop-color="#0ef"/><stop offset="0.06021" stop-color="#00daff"/><stop offset="0.144" stop-color="#00d8ff"/><stop offset="0.1649" stop-color="#0ef"/><stop offset="0.1911" stop-color="#00e3ff"/><stop offset="0.212" stop-color="#00cfff"/><stop offset="0.4843" stop-color="#00c9ff"/><stop offset="0.5052" stop-color="#00ebff"/><stop offset="0.5262" stop-color="#00d3ff"/><stop offset="0.9293" stop-color="#00deff"/><stop offset="0.9974" stop-color="#00e2ff"/></linearGradient>
<linearGradient id="a81" gradientUnits="userSpaceOnUse" x1="0" y1="48" x2="0" y2="239"><stop offset="0.002618" stop-color="#00f6ff"/><stop offset="0.06545" stop-color="#00e2ff"/><stop offset="0.144" stop-color="#00e0ff"/><stop offset="0.1649" stop-color="#00f6ff"/><stop offset="0.1911" stop-color="#00ebff"/><stop offset="0.212" stop-color="#00d7ff"/><stop offset="0.4843" stop-color="#00d2ff"/><stop offset="0.5" stop-color="#00f1ff"/><stop offset="0.5105" stop-color="#00e9ff"/><stop offset="0.5262" stop-color="#00d8ff"/><stop offset="0.9293" stop-color="#00e3ff"/><stop offset="0.9974" stop-color="#00e6ff"/></linearGradient>
<linearGradient id="a82" gradientUnits="userSpaceOnUse" x1="0" y1="48" x2="0" y2="239"><stop offset="0.002618" stop-color="#00edff"/><stop offset="0.06545" stop-color="#00d9ff"/><stop offset="0.144" stop-color="#00d7ff"/><stop offset="0.1649" stop-color="#00edff"/><stop offset="0.1911" stop-color="#00e3ff"/><stop offset="0.212" stop-color="#00cfff"/><stop offset="0.4843" stop-color="#00c9ff"/><stop offset="0.5" stop-color="#00eaff"/><stop offset="0.5105" stop-color="#00e2ff"/><stop offset="0.5262" stop-color="#00d3ff"/><stop offset="0.9293" stop-color="#00deff"/><stop offset="0.9974" stop-color="#00e1ff"/></linearGradient>
<linearGradient id="a83" gradientUnits="userSpaceOnUse" x1="0" y1="48" x2="0" y2="239"><stop offset="0.002618" stop-color="#00f4ff"/><stop offset="0.06545" stop-color="#00e1ff"/><stop offset="0.144" stop-color="#00dfff"/><stop offset="0.1649" stop-color="#00f4ff"/><stop offset="0.1911" stop-color="#00eaff"/><stop offset="0.212" stop-color="#00d6ff"/><stop offset="0.4843" stop-color="#00d1ff"/><stop offset="0.5052" stop-color="#00fbff"/><stop offset="0.5262" stop-color="#00edff"/><stop offset="0.9293" stop-color="#00f7ff"/><stop offset="0.9974" stop-color="#00faff"/></linearGradient>
<linearGradient id="a84" gradientUnits="userSpaceOnUse" x1="0" y1="48" x2="0" y2="239"><stop offset="0.002618" stop-color="#10ffef"/><stop offset="0.0445" stop-color="#00fdff"/><stop offset="0.144" stop-color="#00faff"/><stop offset="0.1754" stop-color="#10ffef"/><stop offset="0.212" stop-color="#00f3ff"/><stop offset="0.4843" stop-color="#00efff"/><stop offset="0.4948" stop-color="#06fff9"/><stop offset="0.5" stop-color="#16ffe9"/><stop offset="0.5157" stop-color="#00f8ff"/><stop offset="0.9241" stop-color="#00f7ff"/><stop offset="0.9974" stop-color="#00fdff"/></linearGradient>
<linearGradient id="a85" gradientUnits="userSpaceOnUse" x1="0" y1="48" x2="0" y2="239"><stop offset="0.002618" stop-color="#1affe5"/><stop offset="0.06545" stop-color="#06fff9"/><stop offset="0.144" stop-color="#04fffb"/><stop offset="0.1649" stop-color="#1affe5"/><stop offset="0.1911" stop-color="#10ffef"/><stop offset="0.212" stop-color="#00fbff"/><stop offset="0.4843" stop-color="#00f8ff"/><stop offset="0.4895" stop-color="#01fefe"/><stop offset="0.5" stop-color="#21ffde"/><stop offset="0.5105" stop-color="#0cfff3"/><stop offset="0.5209" stop-color="#00f8ff"/><stop offset="0.9974" stop-color="#03fffc"/></linearGradient>
<linearGradient id="a86" gradientUnits="userSpaceOnUse" x1="0" y1="48" x2="0" y2="239"><stop offset="0.002618" stop-color="#48ffb7"/><stop offset="0.1387" stop-color="#38ffc7"/><stop offset="0.1754" stop-color="#48ffb7"/><stop offset="0.2225" stop-color="#36ffc9"/><stop offset="0.4843" stop-color="#34ffcb"/><stop offset="0.5" stop-color="#61ff9e"/><stop offset="0.5209" stop-color="#31ffce"/><stop offset="0.9974" stop-color="#38ffc7"/></linearGradient>
<linearGradient id="a87" gradientUnits="userSpaceOnUse" x1="0" y1="48" x2="0" y2="239"><stop offset="0.002618" stop-color="#4bffb4"/><stop offset="0.144" stop-color="#40ffbf"/><stop offset="0.1806" stop-color="#4bffb4"/><stop offset="0.2225" stop-color="#3bffc4"/><stop offset="0.4843" stop-color="#39ffc6"/><stop offset="0.5" stop-color="#67ff98"/><stop offset="0.5209" stop-color="#36ffc9"/><stop offset="0.9974" stop-color="#3dffc2"/></linearGradient>
<linearGradient id="a88" gradientUnits="userSpaceOnUse" x1="0" y1="48" x2="0" y2="239"><stop offset="0.002618" stop-color="#47ffb8"/><stop offset="0.1387" stop-color="#38ffc7"/><stop offset="0.1754" stop-color="#47ffb8"/><stop offset="0.2225" stop-color="#35ffca"/><stop offset="0.4843" stop-color="#3fc"/><stop offset="0.5" stop-color="#60ff9f"/><stop offset="0.5209" stop-color="#31ffce"/><stop offset="0.9974" stop-color="#38ffc7"/></linearGradient>
<linearGradient id="a89" gradientUnits="userSpaceOnUse" x1="0" y1="48" x2="0" y2="239"><stop offset="0.002618" stop-color="#10ffef"/><stop offset="0.04974" stop-color="#00fdff"/><stop offset="0.144" stop-color="#00faff"/><stop offset="0.1754" stop-color="#10ffef"/><stop offset="0.212" stop-color="#00f4ff"/><stop offset="0.4843" stop-color="#00f0ff"/><stop offset="0.4948" stop-color="#07fff8"/><stop offset="0.5" stop-color="#17ffe8"/><stop offset="0.5157" stop-color="#00f8ff"/><stop offset="0.9241" stop-color="#00f7ff"/><stop offset="0.9974" stop-color="#00fdff"/></linearGradient>
<linearGradient id="a90" gradientUnits="userSpaceOnUse" x1="0" y1="48" x2="0" y2="239"><stop offset="0.002618" stop-color="#06fff9"/><stop offset="0.1387" stop-color="#0ef"/><stop offset="0.1649" stop-color="#06fff9"/><stop offset="0.1911" stop-color="#00fbff"/><stop offset="0.212" stop-color="#00eaff"/><stop offset="0.4843" stop-color="#00e6ff"/><stop offset="0.4948" stop-color="#00fbff"/><stop offset="0.5052" stop-color="#09fff6"/><stop offset="0.5262" stop-color="#00ebff"/><stop offset="0.9293" stop-color="#00f4ff"/><stop offset="0.9974" stop-color="#00f7ff"/></linearGradient>
<linearGradient id="a91" gradientUnits="userSpaceOnUse" x1="0" y1="48" x2="0" y2="239"><stop offset="0.002618" stop-color="#00e6ff"/><stop offset="0.06021" stop-color="#00d1ff"/><stop offset="0.144" stop-color="#00cfff"/><stop offset="0.1649" stop-color="#00e6ff"/><stop offset="0.1911" stop-color="#00dbff"/><stop offset="0.212" stop-color="#00c6ff"/><stop offset="0.4843" stop-color="#00c1ff"/><stop offset="0.5052" stop-color="#00eaff"/><stop offset="0.5262" stop-color="#00dbff"/><stop offset="0.9293" stop-color="#00e7ff"/><stop offset="0.9974" stop-color="#00eaff"/></linearGradient>
<linearGradient id="a92" gradientUnits="userSpaceOnUse" x1="0" y1="48" x2="0" y2="239"><stop offset="0.002618" stop-color="#0df"/><stop offset="0.06021" stop-color="#00c9ff"/><stop offset="0.144" stop-color="#00c7ff"/><stop offset="0.1649" stop-color="#0df"/><stop offset="0.1911" stop-color="#00d3ff"/><stop offset="0.212" stop-color="#00beff"/><stop offset="0.4843" stop-color="#00b8ff"/><stop offset="0.5052" stop-color="#00e2ff"/><stop offset="0.5262" stop-color="#00d4ff"/><stop offset="0.9293" stop-color="#00e0ff"/><stop offset="0.9974" stop-color="#00e3ff"/></linearGradient>
<linearGradient id="a93" gradientUnits="userSpaceOnUse" x1="0" y1="48" x2="0" y2="239"><stop offset="0.002618" stop-color="#00c3ff"/><stop offset="0.06021" stop-color="#00afff"/><stop offset="0.144" stop-color="#00adff"/><stop offset="0.1649" stop-color="#00c3ff"/><stop offset="0.1911" stop-color="#00b9ff"/><stop offset="0.212" stop-color="#00a4ff"/><stop offset="0.4843" stop-color="#009eff"/><stop offset="0.5052" stop-color="#00c6ff"/><stop offset="0.5262" stop-color="#00b5ff"/><stop offset="0.9293" stop-color="#00c2ff"/><stop offset="0.9974" stop-color="#00c6ff"/></linearGradient>
<linearGradient id="a94" gradientUnits="userSpaceOnUse" x1="0" y1="48" x2="0" y2="239"><stop offset="0.002618" stop-color="#00baff"/><stop offset="0.06021" stop-color="#00a6ff"/><stop offset="0.144" stop-color="#00a3ff"/><stop offset="0.1649" stop-color="#00baff"/><stop offset="0.1911" stop-color="#00afff"/><stop offset="0.212" stop-color="#009aff"/><stop offset="0.4843" stop-color="#0095ff"/><stop offset="0.5052" stop-color="#00bdff"/><stop offset="0.5262" stop-color="#00abff"/><stop offset="0.9293" stop-color="#00b8ff"/><stop offset="0.9974" stop-color="#00bcff"/></linearGradient>
<linearGradient id="a95" gradientUnits="userSpaceOnUse" x1="0" y1="48" x2="0" y2="239"><stop offset="0.002618" stop-color="#09f"/><stop offset="0.06021" stop-color="#0085ff"/><stop offset="0.144" stop-color="#0083ff"/><stop offset="0.1649" stop-color="#09f"/><stop offset="0.1911" stop-color="#008fff"/><stop offset="0.212" stop-color="#007aff"/><stop offset="0.4843" stop-color="#0074ff"/><stop offset="0.5052" stop-color="#009bff"/><stop offset="0.5262" stop-color="#0089ff"/><stop offset="0.9293" stop-color="#0095ff"/><stop offset="0.9974" stop-color="#09f"/></linearGradient>
<linearGradient id="a96" gradientUnits="userSpaceOnUse" x1="0" y1="48" x2="0" y2="239"><stop offset="0.002618" stop-color="#00a1ff"/><stop offset="0.06021" stop-color="#008dff"/><stop offset="0.144" stop-color="#008bff"/><stop offset="0.1649" stop-color="#00a1ff"/><stop offset="0.1911" stop-color="#0097ff"/><stop offset="0.212" stop-color="#0082ff"/><stop offset="0.4843" stop-color="#007cff"/><stop offset="0.5052" stop-color="#00a3ff"/><stop offset="0.5262" stop-color="#0091ff"/><stop offset="0.9293" stop-color="#009eff"/><stop offset="0.9974" stop-color="#00a1ff"/></linearGradient>
<linearGradient id="a97" gradientUnits="userSpaceOnUse" x1="0" y1="48" x2="0" y2="239"><stop offset="0.002618" stop-color="#0098ff"/><stop offset="0.06021" stop-color="#0083ff"/><stop offset="0.144" stop-color="#0081ff"/><stop offset="0.1649" stop-color="#0098ff"/><stop offset="0.1911" stop-color="#008dff"/><stop offset="0.212" stop-color="#0078ff"/><stop offset="0.4843" stop-color="#0073ff"/><stop offset="0.5052" stop-color="#009aff"/><stop offset="0.5262" stop-color="#0087ff"/><stop offset="0.9293" stop-color="#0094ff"/><stop offset="0.9974" stop-color="#0098ff"/></linearGradient>
<linearGradient id="a98" gradientUnits="userSpaceOnUse" x1="0" y1="48" x2="0" y2="239"><stop offset="0.002618" stop-color="#009fff"/><stop offset="0.06021" stop-color="#008bff"/><stop offset="0.144" stop-color="#0089ff"/><stop offset="0.1649" stop-color="#009fff"/><stop offset="0.1911" stop-color="#0094ff"/><stop offset="0.212" stop-color="#0080ff"/><stop offset="0.4843" stop-color="#007aff"/><stop offset="0.5052" stop-color="#00a1ff"/><stop offset="0.5262" stop-color="#008fff"/><stop offset="0.9293" stop-color="#009bff"/><stop offset="0.9974" stop-color="#009fff"/></linearGradient>
<linearGradient id="a99" gradientUnits="userSpaceOnUse" x1="0" y1="48" x2="0" y2="239"><stop offset="0.002618" stop-color="#009eff"/><stop offset="0.06021" stop-color="#008aff"/><stop offset="0.144" stop-color="#08f"/><stop offset="0.1649" stop-color="#009eff"/><stop offset="0.1911" stop-color="#0094ff"/><stop offset="0.212" stop-color="#007fff"/><stop offset="0.4843" stop-color="#0079ff"/><stop offset="0.5052" stop-color="#009eff"/><stop offset="0.5209" stop-color="#008bff"/><stop offset="0.5838" stop-color="#00a6ff"/><stop offset="0.6571" stop-color="#009eff"/><stop offset="0.699" stop-color="#008aff"/><stop offset="0.7932" stop-color="#0091ff"/><stop offset="0.8455" stop-color="#00a9ff"/><stop offset="0.9293" stop-color="#00b1ff"/><stop offset="0.9974" stop-color="#00b5ff"/></linearGradient>
<linearGradient id="a100" gradientUnits="userSpaceOnUse" x1="0" y1="48" x2="0" y2="239"><stop offset="0.002618" stop-color="#00aeff"/><stop offset="0.06021" stop-color="#09f"/><stop offset="0.144" stop-color="#0097ff"/><stop offset="0.1649" stop-color="#00adff"/><stop offset="0.1911" stop-color="#00a3ff"/><stop offset="0.212" stop-color="#008eff"/><stop offset="0.4843" stop-color="#08f"/><stop offset="0.5" stop-color="#00a1ff"/><stop offset="0.5105" stop-color="#0092ff"/><stop offset="0.5209" stop-color="#0080ff"/><stop offset="0.5419" stop-color="#0af"/><stop offset="0.5681" stop-color="#00e8ff"/><stop offset="0.6466" stop-color="#00e6ff"/><stop offset="0.6832" stop-color="#007dff"/><stop offset="0.7775" stop-color="#07f"/><stop offset="0.7984" stop-color="#009dff"/><stop offset="0.8298" stop-color="#00e8ff"/><stop offset="0.9293" stop-color="#00f5ff"/><stop offset="0.9974" stop-color="#00f9ff"/></linearGradient>
<linearGradient id="a101" gradientUnits="userSpaceOnUse" x1="0" y1="48" x2="0" y2="239"><stop offset="0.002618" stop-color="#00b2ff"/><stop offset="0.06021" stop-color="#009eff"/><stop offset="0.144" stop-color="#009cff"/><stop offset="0.1649" stop-color="#00b2ff"/><stop offset="0.1911" stop-color="#00a7ff"/><stop offset="0.212" stop-color="#0093ff"/><stop offset="0.4843" stop-color="#008dff"/><stop offset="0.5" stop-color="#00a5ff"/><stop offset="0.5105" stop-color="#0095ff"/><stop offset="0.5209" stop-color="#0083ff"/><stop offset="0.5419" stop-color="#00adff"/><stop offset="0.5681" stop-color="#00ebff"/><stop offset="0.6466" stop-color="#00e9ff"/><stop offset="0.6832" stop-color="#0080ff"/><stop offset="0.7775" stop-color="#0079ff"/><stop offset="0.7984" stop-color="#00a0ff"/><stop offset="0.8298" stop-color="#00ebff"/><stop offset="0.9293" stop-color="#00f8ff"/><stop offset="0.9974" stop-color="#00fcff"/></linearGradient>
<linearGradient id="a102" gradientUnits="userSpaceOnUse" x1="0" y1="48" x2="0" y2="239"><stop offset="0.002618" stop-color="#00b6ff"/><stop offset="0.06021" stop-color="#00a1ff"/><stop offset="0.144" stop-color="#009fff"/><stop offset="0.1649" stop-color="#00b6ff"/><stop offset="0.1911" stop-color="#00abff"/><stop offset="0.212" stop-color="#0096ff"/><stop offset="0.4843" stop-color="#0090ff"/><stop offset="0.5" stop-color="#00a8ff"/><stop offset="0.5105" stop-color="#09f"/><stop offset="0.5209" stop-color="#0086ff"/><stop offset="0.5419" stop-color="#00b0ff"/><stop offset="0.5681" stop-color="#0ef"/><stop offset="0.6466" stop-color="#00ecff"/><stop offset="0.6832" stop-color="#0083ff"/><stop offset="0.7775" stop-color="#007cff"/><stop offset="0.7984" stop-color="#00a3ff"/><stop offset="0.8298" stop-color="#00efff"/><stop offset="0.9293" stop-color="#00fbff"/><stop offset="0.9974" stop-color="#0dfff2"/></linearGradient>
<linearGradient id="a103" gradientUnits="userSpaceOnUse" x1="0" y1="48" x2="0" y2="239"><stop offset="0.002618" stop-color="#00b1ff"/><stop offset="0.06021" stop-color="#009cff"/><stop offset="0.144" stop-color="#009aff"/><stop offset="0.1649" stop-color="#00b1ff"/><stop offset="0.1911" stop-color="#00a6ff"/><stop offset="0.212" stop-color="#0091ff"/><stop offset="0.4843" stop-color="#008bff"/><stop offset="0.5" stop-color="#00a3ff"/><stop offset="0.5105" stop-color="#0094ff"/><stop offset="0.5209" stop-color="#0082ff"/><stop offset="0.5419" stop-color="#00abff"/><stop offset="0.5681" stop-color="#00e9ff"/><stop offset="0.6466" stop-color="#00e7ff"/><stop offset="0.6832" stop-color="#007eff"/><stop offset="0.7775" stop-color="#07f"/><stop offset="0.7984" stop-color="#009eff"/><stop offset="0.8298" stop-color="#00eaff"/><stop offset="0.9293" stop-color="#00f6ff"/><stop offset="0.9607" stop-color="#09fff6"/><stop offset="0.9869" stop-color="#19ffe6"/><stop offset="0.9974" stop-color="#19ffe6"/></linearGradient>
<linearGradient id="a104" gradientUnits="userSpaceOnUse" x1="0" y1="48" x2="0" y2="239"><stop offset="0.002618" stop-color="#00b2ff"/><stop offset="0.06021" stop-color="#009dff"/><stop offset="0.144" stop-color="#009bff"/><stop offset="0.1649" stop-color="#00b2ff"/><stop offset="0.1911" stop-color="#00a7ff"/><stop offset="0.212" stop-color="#0092ff"/><stop offset="0.4843" stop-color="#008dff"/><stop offset="0.5" stop-color="#00a4ff"/><stop offset="0.5105" stop-color="#0095ff"/><stop offset="0.5209" stop-color="#0083ff"/><stop offset="0.5419" stop-color="#00acff"/><stop offset="0.5681" stop-color="#00ebff"/><stop offset="0.6466" stop-color="#00e9ff"/><stop offset="0.6832" stop-color="#007fff"/><stop offset="0.7775" stop-color="#0079ff"/><stop offset="0.7984" stop-color="#009fff"/><stop offset="0.8298" stop-color="#00ebff"/><stop offset="0.9293" stop-color="#00f7ff"/><stop offset="0.9503" stop-color="#02fffd"/><stop offset="0.9764" stop-color="#3fc"/><stop offset="0.9974" stop-color="#34ffcb"/></linearGradient>
<linearGradient id="a105" gradientUnits="userSpaceOnUse" x1="0" y1="48" x2="0" y2="239"><stop offset="0.002618" stop-color="#00adff"/><stop offset="0.06021" stop-color="#09f"/><stop offset="0.144" stop-color="#0097ff"/><stop offset="0.1649" stop-color="#00adff"/><stop offset="0.1911" stop-color="#00a2ff"/><stop offset="0.212" stop-color="#008eff"/><stop offset="0.4843" stop-color="#08f"/><stop offset="0.5" stop-color="#00a0ff"/><stop offset="0.5105" stop-color="#0090ff"/><stop offset="0.5209" stop-color="#007eff"/><stop offset="0.5419" stop-color="#00a8ff"/><stop offset="0.5681" stop-color="#00e6ff"/><stop offset="0.6466" stop-color="#00e4ff"/><stop offset="0.6832" stop-color="#007bff"/><stop offset="0.7775" stop-color="#0074ff"/><stop offset="0.7984" stop-color="#009bff"/><stop offset="0.8298" stop-color="#00e6ff"/><stop offset="0.9293" stop-color="#00f3ff"/><stop offset="0.9503" stop-color="#00feff"/><stop offset="0.9764" stop-color="#48ffb7"/><stop offset="0.9974" stop-color="#4affb5"/></linearGradient>
<linearGradient id="a106" gradientUnits="userSpaceOnUse" x1="0" y1="48" x2="0" y2="239"><stop offset="0.002618" stop-color="#0af"/><stop offset="0.06021" stop-color="#0096ff"/><stop offset="0.144" stop-color="#0093ff"/><stop offset="0.1649" stop-color="#0af"/><stop offset="0.1911" stop-color="#009fff"/><stop offset="0.212" stop-color="#008aff"/><stop offset="0.4843" stop-color="#0085ff"/><stop offset="0.5" stop-color="#009cff"/><stop offset="0.5105" stop-color="#008dff"/><stop offset="0.5209" stop-color="#007bff"/><stop offset="0.5419" stop-color="#00a5ff"/><stop offset="0.5681" stop-color="#00e3ff"/><stop offset="0.6466" stop-color="#00e1ff"/><stop offset="0.6832" stop-color="#07f"/><stop offset="0.7775" stop-color="#0071ff"/><stop offset="0.7984" stop-color="#0097ff"/><stop offset="0.8298" stop-color="#00e3ff"/><stop offset="0.9293" stop-color="#00efff"/><stop offset="0.9503" stop-color="#00fdff"/><stop offset="0.9712" stop-color="#54ffab"/><stop offset="0.9817" stop-color="#61ff9e"/><stop offset="0.9974" stop-color="#61ff9e"/></linearGradient>
<linearGradient id="a107" gradientUnits="userSpaceOnUse" x1="0" y1="48" x2="0" y2="239"><stop offset="0.002618" stop-color="#00b1ff"/><stop offset="0.06021" stop-color="#009dff"/><stop offset="0.144" stop-color="#009aff"/><stop offset="0.1649" stop-color="#00b1ff"/><stop offset="0.1911" stop-color="#00a6ff"/><stop offset="0.212" stop-color="#0092ff"/><stop offset="0.4843" stop-color="#008cff"/><stop offset="0.5" stop-color="#00a4ff"/><stop offset="0.5105" stop-color="#0094ff"/><stop offset="0.5209" stop-color="#0082ff"/><stop offset="0.5419" stop-color="#00acff"/><stop offset="0.5681" stop-color="#00eaff"/><stop offset="0.6466" stop-color="#00e8ff"/><stop offset="0.6832" stop-color="#007eff"/><stop offset="0.7775" stop-color="#0078ff"/><stop offset="0.7984" stop-color="#009eff"/><stop offset="0.8298" stop-color="#00eaff"/><stop offset="0.9293" stop-color="#00f7ff"/><stop offset="0.945" stop-color="#00fcff"/><stop offset="0.9555" stop-color="#2fd"/><stop offset="0.9712" stop-color="#74ff8b"/><stop offset="0.9817" stop-color="#84ff7b"/><stop offset="0.9974" stop-color="#84ff7b"/></linearGradient>
<linearGradient id="a108" gradientUnits="userSpaceOnUse" x1="0" y1="48" x2="0" y2="239"><stop offset="0.002618" stop-color="#00b3ff"/><stop offset="0.06021" stop-color="#009fff"/><stop offset="0.144" stop-color="#009cff"/><stop offset="0.1649" stop-color="#00b3ff"/><stop offset="0.1911" stop-color="#00a8ff"/><stop offset="0.212" stop-color="#0093ff"/><stop offset="0.4843" stop-color="#008eff"/><stop offset="0.5" stop-color="#00a5ff"/><stop offset="0.5105" stop-color="#0096ff"/><stop offset="0.5209" stop-color="#0084ff"/><stop offset="0.5419" stop-color="#00adff"/><stop offset="0.5681" stop-color="#00ecff"/><stop offset="0.6466" stop-color="#00eaff"/><stop offset="0.6832" stop-color="#0080ff"/><stop offset="0.7775" stop-color="#007aff"/><stop offset="0.7984" stop-color="#00a0ff"/><stop offset="0.8298" stop-color="#00ecff"/><stop offset="0.9293" stop-color="#00f8ff"/><stop offset="0.945" stop-color="#00feff"/><stop offset="0.9555" stop-color="#2affd5"/><stop offset="0.9712" stop-color="#87ff78"/><stop offset="0.9817" stop-color="#9aff65"/><stop offset="0.9974" stop-color="#9aff65"/></linearGradient>
<linearGradient id="a109" gradientUnits="userSpaceOnUse" x1="0" y1="48" x2="0" y2="239"><stop offset="0.002618" stop-color="#00b1ff"/><stop offset="0.06021" stop-color="#009cff"/><stop offset="0.144" stop-color="#009aff"/><stop offset="0.1649" stop-color="#00b1ff"/><stop offset="0.1911" stop-color="#00a6ff"/><stop offset="0.212" stop-color="#0091ff"/><stop offset="0.4843" stop-color="#008cff"/><stop offset="0.5" stop-color="#00a3ff"/><stop offset="0.5105" stop-color="#0094ff"/><stop offset="0.5209" stop-color="#0082ff"/><stop offset="0.5419" stop-color="#00abff"/><stop offset="0.5681" stop-color="#00eaff"/><stop offset="0.6466" stop-color="#00e7ff"/><stop offset="0.6832" stop-color="#007eff"/><stop offset="0.7775" stop-color="#0078ff"/><stop offset="0.7984" stop-color="#009eff"/><stop offset="0.8298" stop-color="#00eaff"/><stop offset="0.9293" stop-color="#00f6ff"/><stop offset="0.945" stop-color="#00fcff"/><stop offset="0.9503" stop-color="#0efff1"/><stop offset="0.9712" stop-color="#8fff70"/><stop offset="0.9764" stop-color="#a1ff5e"/><stop offset="0.9974" stop-color="#a3ff5c"/></linearGradient>
<linearGradient id="a110" gradientUnits="userSpaceOnUse" x1="0" y1="48" x2="0" y2="239"><stop offset="0.002618" stop-color="#0af"/><stop offset="0.06021" stop-color="#0095ff"/><stop offset="0.144" stop-color="#0093ff"/><stop offset="0.1649" stop-color="#0af"/><stop offset="0.1911" stop-color="#009fff"/><stop offset="0.212" stop-color="#008aff"/><stop offset="0.4843" stop-color="#0085ff"/><stop offset="0.5" stop-color="#009eff"/><stop offset="0.5105" stop-color="#0091ff"/><stop offset="0.5209" stop-color="#0081ff"/><stop offset="0.5419" stop-color="#00abff"/><stop offset="0.5681" stop-color="#00e9ff"/><stop offset="0.6466" stop-color="#00e7ff"/><stop offset="0.6832" stop-color="#007fff"/><stop offset="0.7827" stop-color="#007cff"/><stop offset="0.8298" stop-color="#00e9ff"/><stop offset="0.9293" stop-color="#00f5ff"/><stop offset="0.945" stop-color="#00fbff"/><stop offset="0.9503" stop-color="#0cfff3"/><stop offset="0.9712" stop-color="#8dff72"/><stop offset="0.9764" stop-color="#9eff61"/><stop offset="0.9974" stop-color="#a0ff5f"/></linearGradient>
<linearGradient id="a111" gradientUnits="userSpaceOnUse" x1="0" y1="48" x2="0" y2="239"><stop offset="0.002618" stop-color="#0093ff"/><stop offset="0.06021" stop-color="#007fff"/><stop offset="0.144" stop-color="#007dff"/><stop offset="0.1649" stop-color="#0093ff"/><stop offset="0.1911" stop-color="#0089ff"/><stop offset="0.212" stop-color="#0074ff"/><stop offset="0.4843" stop-color="#006eff"/><stop offset="0.5052" stop-color="#009cff"/><stop offset="0.5262" stop-color="#0094ff"/><stop offset="0.5838" stop-color="#00afff"/><stop offset="0.6571" stop-color="#00a7ff"/><stop offset="0.699" stop-color="#0093ff"/><stop offset="0.7932" stop-color="#009aff"/><stop offset="0.8455" stop-color="#00b2ff"/><stop offset="0.9293" stop-color="#00b9ff"/><stop offset="0.966" stop-color="#00d2ff"/><stop offset="0.9974" stop-color="#00daff"/></linearGradient>
<linearGradient id="a112" gradientUnits="userSpaceOnUse" x1="0" y1="48" x2="0" y2="239"><stop offset="0.002618" stop-color="#0094ff"/><stop offset="0.06021" stop-color="#007fff"/><stop offset="0.144" stop-color="#007dff"/><stop offset="0.1649" stop-color="#0093ff"/><stop offset="0.1911" stop-color="#0089ff"/><stop offset="0.212" stop-color="#0074ff"/><stop offset="0.4843" stop-color="#006fff"/><stop offset="0.5052" stop-color="#009fff"/><stop offset="0.5366" stop-color="#009bff"/><stop offset="0.9241" stop-color="#00a3ff"/><stop offset="0.9974" stop-color="#00abff"/></linearGradient>
<linearGradient id="a113" gradientUnits="userSpaceOnUse" x1="0" y1="48" x2="0" y2="239"><stop offset="0.002618" stop-color="#008bff"/><stop offset="0.06021" stop-color="#0076ff"/><stop offset="0.144" stop-color="#0074ff"/><stop offset="0.1649" stop-color="#008aff"/><stop offset="0.1911" stop-color="#0080ff"/><stop offset="0.212" stop-color="#006bff"/><stop offset="0.4843" stop-color="#0065ff"/><stop offset="0.5052" stop-color="#008dff"/><stop offset="0.5262" stop-color="#007bff"/><stop offset="0.9293" stop-color="#0087ff"/><stop offset="0.9974" stop-color="#008bff"/></linearGradient>
<linearGradient id="a114" gradientUnits="userSpaceOnUse" x1="0" y1="48" x2="0" y2="239"><stop offset="0.002618" stop-color="#0084ff"/><stop offset="0.06021" stop-color="#0070ff"/><stop offset="0.144" stop-color="#006eff"/><stop offset="0.1649" stop-color="#0084ff"/><stop offset="0.1911" stop-color="#0079ff"/><stop offset="0.212" stop-color="#0065ff"/><stop offset="0.4843" stop-color="#005fff"/><stop offset="0.5052" stop-color="#0086ff"/><stop offset="0.5262" stop-color="#0074ff"/><stop offset="0.9293" stop-color="#0080ff"/><stop offset="0.9974" stop-color="#0084ff"/></linearGradient>
<linearGradient id="a115" gradientUnits="userSpaceOnUse" x1="0" y1="48" x2="0" y2="239"><stop offset="0.002618" stop-color="#008dff"/><stop offset="0.06021" stop-color="#0078ff"/><stop offset="0.144" stop-color="#0076ff"/><stop offset="0.1649" stop-color="#008dff"/><stop offset="0.1911" stop-color="#0082ff"/><stop offset="0.212" stop-color="#006dff"/><stop offset="0.4843" stop-color="#0068ff"/><stop offset="0.5052" stop-color="#008fff"/><stop offset="0.5262" stop-color="#007dff"/><stop offset="0.9293" stop-color="#0089ff"/><stop offset="0.9974" stop-color="#008dff"/></linearGradient>
<linearGradient id="a116" gradientUnits="userSpaceOnUse" x1="0" y1="48" x2="0" y2="239"><stop offset="0.002618" stop-color="#0090ff"/><stop offset="0.06021" stop-color="#007bff"/><stop offset="0.144" stop-color="#0079ff"/><stop offset="0.1649" stop-color="#0090ff"/><stop offset="0.1911" stop-color="#0085ff"/><stop offset="0.212" stop-color="#0070ff"/><stop offset="0.4843" stop-color="#006bff"/><stop offset="0.5052" stop-color="#0092ff"/><stop offset="0.5262" stop-color="#0081ff"/><stop offset="0.9293" stop-color="#008eff"/><stop offset="0.9974" stop-color="#0092ff"/></linearGradient>
<linearGradient id="a117" gradientUnits="userSpaceOnUse" x1="0" y1="48" x2="0" y2="239"><stop offset="0.002618" stop-color="#009eff"/><stop offset="0.06021" stop-color="#0089ff"/><stop offset="0.144" stop-color="#0087ff"/><stop offset="0.1649" stop-color="#009eff"/><stop offset="0.1911" stop-color="#0093ff"/><stop offset="0.212" stop-color="#007eff"/><stop offset="0.4843" stop-color="#0079ff"/><stop offset="0.5052" stop-color="#00a6ff"/><stop offset="0.5314" stop-color="#009eff"/><stop offset="0.9241" stop-color="#00a6ff"/><stop offset="0.9974" stop-color="#00adff"/></linearGradient>
<linearGradient id="a118" gradientUnits="userSpaceOnUse" x1="0" y1="48" x2="0" y2="239"><stop offset="0.002618" stop-color="#00a3ff"/><stop offset="0.06021" stop-color="#008eff"/><stop offset="0.144" stop-color="#008cff"/><stop offset="0.1649" stop-color="#00a2ff"/><stop offset="0.1911" stop-color="#0098ff"/><stop offset="0.212" stop-color="#0083ff"/><stop offset="0.4843" stop-color="#007eff"/><stop offset="0.5052" stop-color="#00acff"/><stop offset="0.5314" stop-color="#00a3ff"/><stop offset="0.9241" stop-color="#00acff"/><stop offset="0.9974" stop-color="#00b3ff"/></linearGradient>
<linearGradient id="a119" gradientUnits="userSpaceOnUse" x1="0" y1="48" x2="0" y2="239"><stop offset="0.002618" stop-color="#00c1ff"/><stop offset="0.06021" stop-color="#00adff"/><stop offset="0.144" stop-color="#0af"/><stop offset="0.1649" stop-color="#00c1ff"/><stop offset="0.1911" stop-color="#00b6ff"/><stop offset="0.212" stop-color="#00a1ff"/><stop offset="0.4843" stop-color="#009cff"/><stop offset="0.5052" stop-color="#00beff"/><stop offset="0.5262" stop-color="#00a5ff"/><stop offset="0.9241" stop-color="#00adff"/><stop offset="0.9974" stop-color="#00b4ff"/></linearGradient>
<linearGradient id="a120" gradientUnits="userSpaceOnUse" x1="0" y1="48" x2="0" y2="239"><stop offset="0.002618" stop-color="#00dfff"/><stop offset="0.06021" stop-color="#00cbff"/><stop offset="0.144" stop-color="#00c9ff"/><stop offset="0.1649" stop-color="#00dfff"/><stop offset="0.1911" stop-color="#00d5ff"/><stop offset="0.212" stop-color="#00c0ff"/><stop offset="0.4843" stop-color="#00baff"/><stop offset="0.5052" stop-color="#00dcff"/><stop offset="0.5262" stop-color="#00c4ff"/><stop offset="0.9241" stop-color="#0cf"/><stop offset="0.9974" stop-color="#00d4ff"/></linearGradient>
<linearGradient id="a121" gradientUnits="userSpaceOnUse" x1="0" y1="48" x2="0" y2="239"><stop offset="0.002618" stop-color="#00f3ff"/><stop offset="0.06021" stop-color="#00dfff"/><stop offset="0.144" stop-color="#00dcff"/><stop offset="0.1649" stop-color="#00f3ff"/><stop offset="0.1911" stop-color="#00e8ff"/><stop offset="0.212" stop-color="#00d4ff"/><stop offset="0.4843" stop-color="#00ceff"/><stop offset="0.5052" stop-color="#00f0ff"/><stop offset="0.5262" stop-color="#00d7ff"/><stop offset="0.9293" stop-color="#00e2ff"/><stop offset="0.9974" stop-color="#00e6ff"/></linearGradient>
<linearGradient id="a122" gradientUnits="userSpaceOnUse" x1="0" y1="48" x2="0" y2="239"><stop offset="0.002618" stop-color="#0efff1"/><stop offset="0.05497" stop-color="#00faff"/><stop offset="0.144" stop-color="#00f8ff"/><stop offset="0.1806" stop-color="#0dfff2"/><stop offset="0.212" stop-color="#00f2ff"/><stop offset="0.4843" stop-color="#0ef"/><stop offset="0.4948" stop-color="#05fffa"/><stop offset="0.5" stop-color="#15ffea"/><stop offset="0.5157" stop-color="#00f7ff"/><stop offset="0.9241" stop-color="#00f7ff"/><stop offset="0.9974" stop-color="#00fcff"/></linearGradient>
<linearGradient id="a123" gradientUnits="userSpaceOnUse" x1="0" y1="48" x2="0" y2="239"><stop offset="0.002618" stop-color="#18ffe7"/><stop offset="0.06021" stop-color="#04fffb"/><stop offset="0.144" stop-color="#02fffd"/><stop offset="0.1649" stop-color="#18ffe7"/><stop offset="0.1911" stop-color="#0efff1"/><stop offset="0.212" stop-color="#00faff"/><stop offset="0.4843" stop-color="#00f6ff"/><stop offset="0.4895" stop-color="#00fdff"/><stop offset="0.5" stop-color="#21ffde"/><stop offset="0.5105" stop-color="#0efff1"/><stop offset="0.5157" stop-color="#0ff"/><stop offset="0.9974" stop-color="#07fff8"/></linearGradient>
<linearGradient id="a124" gradientUnits="userSpaceOnUse" x1="0" y1="48" x2="0" y2="239"><stop offset="0.002618" stop-color="#06fff9"/><stop offset="0.1597" stop-color="#00f3ff"/><stop offset="0.3586" stop-color="#00dfff"/><stop offset="0.4843" stop-color="#0df"/><stop offset="0.5052" stop-color="#00f8ff"/><stop offset="0.5262" stop-color="#0df"/><stop offset="0.8927" stop-color="#00d9ff"/><stop offset="0.9555" stop-color="#08fff7"/><stop offset="0.9869" stop-color="#1cffe3"/><stop offset="0.9974" stop-color="#1dffe2"/></linearGradient>
<linearGradient id="a125" gradientUnits="userSpaceOnUse" x1="0" y1="48" x2="0" y2="239"><stop offset="0.002618" stop-color="#ffb700"/><stop offset="0.9974" stop-color="#ffb700"/></linearGradient>
<linearGradient id="a126" gradientUnits="userSpaceOnUse" x1="0" y1="48" x2="0" y2="239"><stop offset="0.002618" stop-color="#ffca00"/><stop offset="0.9974" stop-color="#ffca00"/></linearGradient>
<linearGradient id="a127" gradientUnits="userSpaceOnUse" x1="0" y1="48" x2="0" y2="239"><stop offset="0.002618" stop-color="#ffeb00"/><stop offset="0.9974" stop-color="#ffeb00"/></linearGradient>
<linearGradient id="a128" gradientUnits="userSpaceOnUse" x1="0" y1="48" x2="0" y2="239"><stop offset="0.002618" stop-color="#ffa000"/><stop offset="0.9974" stop-color="#ffa000"/></linearGradient>
<linearGradient id="a129" gradientUnits="userSpaceOnUse" x1="0" y1="48" x2="0" y2="239"><stop offset="0.002618" stop-color="#ffc600"/><stop offset="0.9974" stop-color="#ffc600"/></linearGradient>
<linearGradient id="a130" gradientUnits="userSpaceOnUse" x1="0" y1="48" x2="0" y2="239"><stop offset="0.002618" stop-color="#ff6a00"/><stop offset="0.9974" stop-color="#ff6a00"/></linearGradient>
<linearGradient id="a131" gradientUnits="userSpaceOnUse" x1="0" y1="48" x2="0" y2="239"><stop offset="0.002618" stop-color="#ff6000"/><stop offset="0.9974" stop-color="#ff6000"/></linearGradient>
<linearGradient id="a132" gradientUnits="userSpaceOnUse" x1="0" y1="48" x2="0" y2="239"><stop offset="0.002618" stop-color="#ff9500"/><stop offset="0.9974" stop-color="#ff9500"/></linearGradient>
<linearGradient id="a133" gradientUnits="userSpaceOnUse" x1="0" y1="48" x2="0" y2="239"><stop offset="0.002618" stop-color="#ffdc00"/><stop offset="0.9974" stop-color="#ffdc00"/></linearGradient>
<linearGradient id="a134" gradientUnits="userSpaceOnUse" x1="0" y1="48" x2="0" y2="239"><stop offset="0.002618" stop-color="#ff7400"/><stop offset="0.9974" stop-color="#ff7400"/></linearGradient>
<linearGradient id="a135" gradientUnits="userSpaceOnUse" x1="0" y1="48" x2="0" y2="239"><stop offset="0.002618" stop-color="#ff7b00"/><stop offset="0.9974" stop-color="#ff7b00"/></linearGradient>
<linearGradient id="a136" gradientUnits="userSpaceOnUse" x1="0" y1="48" x2="0" y2="239"><stop offset="0.002618" stop-color="#ffb700"/><stop offset="0.9974" stop-color="#ffb700"/></linearGradient>
<linearGradient id="a137" gradientUnits="userSpaceOnUse" x1="0" y1="48" x2="0" y2="239"><stop offset="0.002618" stop-color="#ffc100"/><stop offset="0.9974" stop-color="#ffc100"/></linearGradient>
<linearGradient id="a138" gradientUnits="userSpaceOnUse" x1="0" y1="48" x2="0" y2="239"><stop offset="0.002618" stop-color="#ffca00"/><stop offset="0.9974" stop-color="#ffca00"/></linearGradient>
<linearGradient id="a139" gradientUnits="userSpaceOnUse" x1="0" y1="48" x2="0" y2="239"><stop offset="0.002618" stop-color="#fff100"/><stop offset="0.9974" stop-color="#fff100"/></linearGradient>
<linearGradient id="a140" gradientUnits="userSpaceOnUse" x1="0" y1="48" x2="0" y2="239"><stop offset="0.002618" stop-color="#fffc00"/><stop offset="0.9974" stop-color="#fffc00"/></linearGradient>
<linearGradient id="a141" gradientUnits="userSpaceOnUse" x1="0" y1="48" x2="0" y2="239"><stop offset="0.002618" stop-color="#9eff61"/><stop offset="0.9974" stop-color="#9eff61"/></linearGradient>
<linearGradient id="a142" gradientUnits="userSpaceOnUse" x1="0" y1="48" x2="0" y2="239"><stop offset="0.002618" stop-color="#17ffe8"/><stop offset="0.144" stop-color="#01fffe"/><stop offset="0.4791" stop-color="#00ebff"/><stop offset="0.5052" stop-color="#09fff6"/><stop offset="0.5314" stop-color="#00edff"/><stop offset="0.8979" stop-color="#0ef"/><stop offset="0.945" stop-color="#08fff7"/><stop offset="0.9712" stop-color="#27ffd8"/><stop offset="0.9974" stop-color="#2bffd4"/></linearGradient>
<linearGradient id="a143" gradientUnits="userSpaceOnUse" x1="0" y1="48" x2="0" y2="239"><stop offset="0.002618" stop-color="#00b0ff"/><stop offset="0.144" stop-color="#009aff"/><stop offset="0.2068" stop-color="#0097ff"/><stop offset="0.3429" stop-color="#0085ff"/><stop offset="0.4843" stop-color="#0082ff"/><stop offset="0.5" stop-color="#00a1ff"/><stop offset="0.5157" stop-color="#008eff"/><stop offset="0.5419" stop-color="#0081ff"/><stop offset="0.8927" stop-color="#007eff"/><stop offset="0.9503" stop-color="#00a8ff"/><stop offset="0.9764" stop-color="#00c0ff"/><stop offset="0.9974" stop-color="#00c3ff"/></linearGradient>
<linearGradient id="a144" gradientUnits="userSpaceOnUse" x1="0" y1="48" x2="0" y2="239"><stop offset="0.002618" stop-color="#008bff"/><stop offset="0.144" stop-color="#0076ff"/><stop offset="0.2068" stop-color="#0072ff"/><stop offset="0.3429" stop-color="#0061ff"/><stop offset="0.4843" stop-color="#005eff"/><stop offset="0.5" stop-color="#007dff"/><stop offset="0.5157" stop-color="#006aff"/><stop offset="0.5419" stop-color="#005dff"/><stop offset="0.8927" stop-color="#0059ff"/><stop offset="0.9503" stop-color="#0084ff"/><stop offset="0.9764" stop-color="#009cff"/><stop offset="0.9974" stop-color="#009fff"/></linearGradient>
<linearGradient id="a145" gradientUnits="userSpaceOnUse" x1="0" y1="48" x2="0" y2="239"><stop offset="0.002618" stop-color="#0081ff"/><stop offset="0.144" stop-color="#006bff"/><stop offset="0.2068" stop-color="#0068ff"/><stop offset="0.3429" stop-color="#0057ff"/><stop offset="0.4843" stop-color="#0054ff"/><stop offset="0.5" stop-color="#0072ff"/><stop offset="0.5157" stop-color="#005fff"/><stop offset="0.5419" stop-color="#0053ff"/><stop offset="0.8927" stop-color="#004fff"/><stop offset="0.9503" stop-color="#0078ff"/><stop offset="0.9764" stop-color="#0090ff"/><stop offset="0.9974" stop-color="#0092ff"/></linearGradient>
<linearGradient id="a146" gradientUnits="userSpaceOnUse" x1="0" y1="48" x2="0" y2="239"><stop offset="0.002618" stop-color="#0081ff"/><stop offset="0.144" stop-color="#006bff"/><stop offset="0.2068" stop-color="#0068ff"/><stop offset="0.3429" stop-color="#0056ff"/><stop offset="0.4843" stop-color="#0054ff"/><stop offset="0.5" stop-color="#0072ff"/><stop offset="0.5157" stop-color="#005fff"/><stop offset="0.5419" stop-color="#0053ff"/><stop offset="0.8927" stop-color="#004fff"/><stop offset="0.9503" stop-color="#0075ff"/><stop offset="0.9817" stop-color="#008cff"/><stop offset="0.9974" stop-color="#008dff"/></linearGradient>
<linearGradient id="a147" gradientUnits="userSpaceOnUse" x1="0" y1="48" x2="0" y2="239"><stop offset="0.002618" stop-color="#0079ff"/><stop offset="0.144" stop-color="#0064ff"/><stop offset="0.2068" stop-color="#0061ff"/><stop offset="0.3272" stop-color="#004fff"/><stop offset="0.4843" stop-color="#004cff"/><stop offset="0.5" stop-color="#006bff"/><stop offset="0.5157" stop-color="#0058ff"/><stop offset="0.5419" stop-color="#004bff"/><stop offset="0.8927" stop-color="#0047ff"/><stop offset="0.9503" stop-color="#006aff"/><stop offset="0.9817" stop-color="#0080ff"/><stop offset="0.9974" stop-color="#0081ff"/></linearGradient>
<linearGradient id="a148" gradientUnits="userSpaceOnUse" x1="0" y1="48" x2="0" y2="239"><stop offset="0.002618" stop-color="#0079ff"/><stop offset="0.1387" stop-color="#0064ff"/><stop offset="0.1963" stop-color="#006aff"/><stop offset="0.2382" stop-color="#0057ff"/><stop offset="0.4791" stop-color="#0048ff"/><stop offset="0.5052" stop-color="#006bff"/><stop offset="0.5262" stop-color="#004cff"/><stop offset="0.8979" stop-color="#004aff"/><stop offset="0.9503" stop-color="#0065ff"/><stop offset="0.9817" stop-color="#0079ff"/><stop offset="0.9974" stop-color="#007aff"/></linearGradient>
<linearGradient id="a149" gradientUnits="userSpaceOnUse" x1="0" y1="48" x2="0" y2="239"><stop offset="0.002618" stop-color="#0079ff"/><stop offset="0.1335" stop-color="#0064ff"/><stop offset="0.1911" stop-color="#0072ff"/><stop offset="0.233" stop-color="#0057ff"/><stop offset="0.4791" stop-color="#0048ff"/><stop offset="0.5052" stop-color="#006bff"/><stop offset="0.5262" stop-color="#004cff"/><stop offset="0.8979" stop-color="#0049ff"/><stop offset="0.9503" stop-color="#0061ff"/><stop offset="0.9817" stop-color="#0074ff"/><stop offset="0.9974" stop-color="#0074ff"/></linearGradient>
<linearGradient id="a150" gradientUnits="userSpaceOnUse" x1="0" y1="48" x2="0" y2="239"><stop offset="0.002618" stop-color="#0079ff"/><stop offset="0.1335" stop-color="#0065ff"/><stop offset="0.1859" stop-color="#007aff"/><stop offset="0.233" stop-color="#0057ff"/><stop offset="0.4791" stop-color="#0048ff"/><stop offset="0.5052" stop-color="#006bff"/><stop offset="0.5262" stop-color="#004cff"/><stop offset="0.8979" stop-color="#0049ff"/><stop offset="0.9503" stop-color="#005eff"/><stop offset="0.9817" stop-color="#006fff"/><stop offset="0.9974" stop-color="#0070ff"/></linearGradient>
<linearGradient id="a151" gradientUnits="userSpaceOnUse" x1="0" y1="48" x2="0" y2="239"><stop offset="0.002618" stop-color="#0079ff"/><stop offset="0.1335" stop-color="#0065ff"/><stop offset="0.1806" stop-color="#0084ff"/><stop offset="0.233" stop-color="#0058ff"/><stop offset="0.4791" stop-color="#0048ff"/><stop offset="0.5052" stop-color="#006bff"/><stop offset="0.5262" stop-color="#004cff"/><stop offset="0.8979" stop-color="#0048ff"/><stop offset="0.9503" stop-color="#005bff"/><stop offset="0.9817" stop-color="#006cff"/><stop offset="0.9974" stop-color="#006cff"/></linearGradient>
<linearGradient id="a152" gradientUnits="userSpaceOnUse" x1="0" y1="48" x2="0" y2="239"><stop offset="0.002618" stop-color="#0079ff"/><stop offset="0.1283" stop-color="#0064ff"/><stop offset="0.1806" stop-color="#008cff"/><stop offset="0.2277" stop-color="#0059ff"/><stop offset="0.4791" stop-color="#0048ff"/><stop offset="0.5052" stop-color="#006bff"/><stop offset="0.5262" stop-color="#004cff"/><stop offset="0.8979" stop-color="#0048ff"/><stop offset="0.9503" stop-color="#0059ff"/><stop offset="0.9817" stop-color="#0069ff"/><stop offset="0.9974" stop-color="#0069ff"/></linearGradient>
<linearGradient id="a153" gradientUnits="userSpaceOnUse" x1="0" y1="48" x2="0" y2="239"><stop offset="0.002618" stop-color="#0079ff"/><stop offset="0.1283" stop-color="#0065ff"/><stop offset="0.1806" stop-color="#0094ff"/><stop offset="0.2277" stop-color="#0059ff"/><stop offset="0.4791" stop-color="#0048ff"/><stop offset="0.5052" stop-color="#006bff"/><stop offset="0.5262" stop-color="#004cff"/><stop offset="0.8979" stop-color="#0048ff"/><stop offset="0.9503" stop-color="#0058ff"/><stop offset="0.9817" stop-color="#0067ff"/><stop offset="0.9974" stop-color="#0067ff"/></linearGradient>
<linearGradient id="a154" gradientUnits="userSpaceOnUse" x1="0" y1="48" x2="0" y2="239"><stop offset="0.002618" stop-color="#0079ff"/><stop offset="0.1283" stop-color="#0065ff"/><stop offset="0.1754" stop-color="#009cff"/><stop offset="0.1963" stop-color="#008bff"/><stop offset="0.2225" stop-color="#005dff"/><stop offset="0.3482" stop-color="#004fff"/><stop offset="0.4843" stop-color="#004cff"/><stop offset="0.5" stop-color="#006bff"/><stop offset="0.5157" stop-color="#0058ff"/><stop offset="0.5419" stop-color="#004bff"/><stop offset="0.8979" stop-color="#0048ff"/><stop offset="0.9503" stop-color="#0057ff"/><stop offset="0.9817" stop-color="#06f"/><stop offset="0.9974" stop-color="#06f"/></linearGradient>
<linearGradient id="a155" gradientUnits="userSpaceOnUse" x1="0" y1="48" x2="0" y2="239"><stop offset="0.002618" stop-color="#0079ff"/><stop offset="0.1283" stop-color="#06f"/><stop offset="0.1545" stop-color="#08f"/><stop offset="0.1754" stop-color="#00a6ff"/><stop offset="0.1963" stop-color="#0091ff"/><stop offset="0.2225" stop-color="#005eff"/><stop offset="0.3429" stop-color="#004fff"/><stop offset="0.4843" stop-color="#004cff"/><stop offset="0.5" stop-color="#006bff"/><stop offset="0.5157" stop-color="#0058ff"/><stop offset="0.5419" stop-color="#004bff"/><stop offset="0.8979" stop-color="#0048ff"/><stop offset="0.9503" stop-color="#0057ff"/><stop offset="0.9817" stop-color="#06f"/><stop offset="0.9974" stop-color="#06f"/></linearGradient>
<linearGradient id="a156" gradientUnits="userSpaceOnUse" x1="0" y1="48" x2="0" y2="239"><stop offset="0.002618" stop-color="#0079ff"/><stop offset="0.1283" stop-color="#06f"/><stop offset="0.1545" stop-color="#08f"/><stop offset="0.1754" stop-color="#00a7ff"/><stop offset="0.1963" stop-color="#0092ff"/><stop offset="0.2225" stop-color="#005eff"/><stop offset="0.3429" stop-color="#004fff"/><stop offset="0.4843" stop-color="#004cff"/><stop offset="0.5" stop-color="#006bff"/><stop offset="0.5157" stop-color="#0058ff"/><stop offset="0.5419" stop-color="#004bff"/><stop offset="0.6518" stop-color="#004eff"/><stop offset="0.8979" stop-color="#0048ff"/><stop offset="0.9503" stop-color="#0057ff"/><stop offset="0.9817" stop-color="#06f"/><stop offset="0.9974" stop-color="#06f"/></linearGradient>
<linearGradient id="a157" gradientUnits="userSpaceOnUse" x1="0" y1="48" x2="0" y2="239"><stop offset="0.002618" stop-color="#0079ff"/><stop offset="0.1283" stop-color="#06f"/><stop offset="0.1545" stop-color="#08f"/><stop offset="0.1754" stop-color="#00a7ff"/><stop offset="0.1963" stop-color="#0092ff"/><stop offset="0.2225" stop-color="#005eff"/><stop offset="0.3429" stop-color="#004fff"/><stop offset="0.4843" stop-color="#004cff"/><stop offset="0.5" stop-color="#006bff"/><stop offset="0.5157" stop-color="#0058ff"/><stop offset="0.5419" stop-color="#004cff"/><stop offset="0.6361" stop-color="#0058ff"/><stop offset="0.7461" stop-color="#0047ff"/><stop offset="0.9031" stop-color="#004bff"/><stop offset="0.9503" stop-color="#0057ff"/><stop offset="0.9817" stop-color="#06f"/><stop offset="0.9974" stop-color="#06f"/></linearGradient>
<linearGradient id="a158" gradientUnits="userSpaceOnUse" x1="0" y1="48" x2="0" y2="239"><stop offset="0.002618" stop-color="#0079ff"/><stop offset="0.1283" stop-color="#06f"/><stop offset="0.1545" stop-color="#08f"/><stop offset="0.1754" stop-color="#00a7ff"/><stop offset="0.1963" stop-color="#0092ff"/><stop offset="0.2225" stop-color="#005eff"/><stop offset="0.3429" stop-color="#004fff"/><stop offset="0.4843" stop-color="#004cff"/><stop offset="0.5" stop-color="#006bff"/><stop offset="0.5157" stop-color="#0058ff"/><stop offset="0.5419" stop-color="#004cff"/><stop offset="0.6309" stop-color="#0060ff"/><stop offset="0.7199" stop-color="#0047ff"/><stop offset="0.9031" stop-color="#004bff"/><stop offset="0.9503" stop-color="#0057ff"/><stop offset="0.9817" stop-color="#06f"/><stop offset="0.9974" stop-color="#06f"/></linearGradient>
<linearGradient id="a159" gradientUnits="userSpaceOnUse" x1="0" y1="48" x2="0" y2="239"><stop offset="0.002618" stop-color="#0079ff"/><stop offset="0.1283" stop-color="#06f"/><stop offset="0.1545" stop-color="#08f"/><stop offset="0.1754" stop-color="#00a7ff"/><stop offset="0.1963" stop-color="#0092ff"/><stop offset="0.2225" stop-color="#005eff"/><stop offset="0.3429" stop-color="#004fff"/><stop offset="0.4843" stop-color="#004cff"/><stop offset="0.5" stop-color="#006bff"/><stop offset="0.5157" stop-color="#0058ff"/><stop offset="0.5419" stop-color="#004cff"/><stop offset="0.6309" stop-color="#0061ff"/><stop offset="0.7199" stop-color="#0047ff"/><stop offset="0.9031" stop-color="#004bff"/><stop offset="0.9503" stop-color="#0057ff"/><stop offset="0.9817" stop-color="#06f"/><stop offset="0.9974" stop-color="#06f"/></linearGradient></defs>
<rect x="78" y="48" width="11" height="191" fill="url(#a0)"/>
<rect x="89" y="48" width="2" height="191" fill="url(#a1)"/>
<rect x="91" y="48" width="12" height="191" fill="url(#a2)"/>
<rect x="103" y="48" width="7" height="191" fill="url(#a3)"/>
<rect x="110" y="48" width="4" height="191" fill="url(#a4)"/>
<rect x="114" y="48" width="3" height="191" fill="url(#a5)"/>
<rect x="117" y="48" width="2" height="191" fill="url(#a6)"/>
<rect x="119" y="48" width="2" height="191" fill="url(#a7)"/>
<rect x="121" y="48" width="2" height="191" fill="url(#a8)"/>
<rect x="123" y="48" width="2" height="191" fill="url(#a9)"/>
<rect x="125" y="48" width="2" height="191" fill="url(#a10)"/>
<rect x="127" y="48" width="2" height="191" fill="url(#a11)"/>
<rect x="129" y="48" width="2" height="191" fill="url(#a12)"/>
<rect x="131" y="48" width="2" height="191" fill="url(#a13)"/>
<rect x="133" y="48" width="2" height="191" fill="url(#a14)"/>
<rect x="135" y="48" width="2" height="191" fill="url(#a15)"/>
<rect x="137" y="48" width="2" height="191" fill="url(#a16)"/>
<rect x="139" y="48" width="2" height="191" fill="url(#a17)"/>
<rect x="141" y="48" width="2" height="191" fill="url(#a18)"/>
<rect x="143" y="48" width="2" height="191" fill="url(#a19)"/>
<rect x="145" y="48" width="4" height="191" fill="url(#a20)"/>
<rect x="149" y="48" width="1" height="191" fill="url(#a21)"/>
<rect x="150" y="48" width="1" height="191" fill="url(#a22)"/>
<rect x="151" y="48" width="2" height="191" fill="url(#a23)"/>
<rect x="153" y="48" width="1" height="191" fill="url(#a24)"/>
<rect x="154" y="48" width="1" height="191" fill="url(#a25)"/>
<rect x="155" y="48" width="1" height="191" fill="url(#a26)"/>
<rect x="156" y="48" width="1" height="191" fill="url(#a27)"/>
<rect x="157" y="48" width="1" height="191" fill="url(#a28)"/>
<rect x="158" y="48" width="2" height="191" fill="url(#a29)"/>
<rect x="270" y="48" width="2" height="191" fill="url(#a30)"/>
<rect x="272" y="48" width="1" height="191" fill="url(#a31)"/>
<rect x="273" y="48" width="1" height="191" fill="url(#a32)"/>
<rect x="274" y="48" width="1" height="191" fill="url(#a33)"/>
<rect x="275" y="48" width="1" height="191" fill="url(#a34)"/>
<rect x="276" y="48" width="1" height="191" fill="url(#a35)"/>
<rect x="277" y="48" width="2" height="191" fill="url(#a36)"/>
<rect x="279" y="48" width="1" height="191" fill="url(#a37)"/>
<rect x="280" y="48" width="1" height="191" fill="url(#a38)"/>
<rect x="281" y="48" width="1" height="191" fill="url(#a39)"/>
<rect x="282" y="48" width="1" height="191" fill="url(#a40)"/>
<rect x="283" y="48" width="1" height="191" fill="url(#a41)"/>
<rect x="284" y="48" width="1" height="191" fill="url(#a42)"/>
<rect x="285" y="48" width="2" height="191" fill="url(#a43)"/>
<rect x="287" y="48" width="1" height="191" fill="url(#a44)"/>
<rect x="288" y="48" width="1" height="191" fill="url(#a45)"/>
<rect x="289" y="48" width="3" height="191" fill="url(#a46)"/>
<rect x="292" y="48" width="1" height="191" fill="url(#a47)"/>
<rect x="293" y="48" width="1" height="191" fill="url(#a48)"/>
<rect x="294" y="48" width="1" height="191" fill="url(#a49)"/>
<rect x="295" y="48" width="1" height="191" fill="url(#a50)"/>
<rect x="296" y="48" width="1" height="191" fill="url(#a51)"/>
<rect x="297" y="48" width="1" height="191" fill="url(#a52)"/>
<rect x="298" y="48" width="1" height="191" fill="url(#a53)"/>
<rect x="299" y="48" width="1" height="191" fill="url(#a54)"/>
<rect x="300" y="48" width="1" height="191" fill="url(#a55)"/>
<rect x="301" y="48" width="1" height="191" fill="url(#a56)"/>
<rect x="302" y="48" width="1" height="191" fill="url(#a57)"/>
<rect x="303" y="48" width="2" height="191" fill="url(#a58)"/>
<rect x="305" y="48" width="1" height="191" fill="url(#a59)"/>
<rect x="306" y="48" width="2" height="191" fill="url(#a60)"/>
<rect x="308" y="48" width="1" height="191" fill="url(#a61)"/>
<rect x="309" y="48" width="2" height="191" fill="url(#a62)"/>
<rect x="311" y="48" width="1" height="191" fill="url(#a63)"/>
<rect x="312" y="48" width="2" height="191" fill="url(#a64)"/>
<rect x="314" y="48" width="1" height="191" fill="url(#a65)"/>
<rect x="315" y="48" width="1" height="191" fill="url(#a66)"/>
<rect x="316" y="48" width="2" height="191" fill="url(#a67)"/>
<rect x="318" y="48" width="2" height="191" fill="url(#a68)"/>
<rect x="320" y="48" width="2" height="191" fill="url(#a69)"/>
<rect x="322" y="48" width="1" height="191" fill="url(#a70)"/>
<rect x="323" y="48" width="2" height="191" fill="url(#a71)"/>
<rect x="325" y="48" width="1" height="191" fill="url(#a72)"/>
<rect x="326" y="48" width="1" height="191" fill="url(#a73)"/>
<rect x="327" y="48" width="1" height="191" fill="url(#a74)"/>
<rect x="328" y="48" width="2" height="191" fill="url(#a75)"/>
<rect x="330" y="48" width="4" height="191" fill="url(#a76)"/>
<rect x="334" y="48" width="1" height="191" fill="url(#a77)"/>
<rect x="335" y="48" width="2" height="191" fill="url(#a78)"/>
<rect x="337" y="48" width="1" height="191" fill="url(#a79)"/>
<rect x="338" y="48" width="1" height="191" fill="url(#a80)"/>
<rect x="339" y="48" width="1" height="191" fill="url(#a81)"/>
<rect x="340" y="48" width="1" height="191" fill="url(#a82)"/>
<rect x="341" y="48" width="1" height="191" fill="url(#a83)"/>
<rect x="342" y="48" width="1" height="191" fill="url(#a84)"/>
<rect x="343" y="48" width="3" height="191" fill="url(#a85)"/>
<rect x="346" y="48" width="1" height="191" fill="url(#a86)"/>
<rect x="347" y="48" width="2" height="191" fill="url(#a87)"/>
<rect x="349" y="48" width="1" height="191" fill="url(#a88)"/>
<rect x="350" y="48" width="3" height="191" fill="url(#a89)"/>
<rect x="353" y="48" width="1" height="191" fill="url(#a90)"/>
<rect x="354" y="48" width="2" height="191" fill="url(#a91)"/>
<rect x="356" y="48" width="1" height="191" fill="url(#a92)"/>
<rect x="357" y="48" width="1" height="191" fill="url(#a93)"/>
<rect x="358" y="48" width="2" height="191" fill="url(#a94)"/>
<rect x="360" y="48" width="9" height="191" fill="url(#a95)"/>
<rect x="369" y="48" width="2" height="191" fill="url(#a96)"/>
<rect x="371" y="48" width="2" height="191" fill="url(#a97)"/>
<rect x="373" y="48" width="2" height="191" fill="url(#a98)"/>
<rect x="375" y="48" width="1" height="191" fill="url(#a99)"/>
<rect x="376" y="48" width="2" height="191" fill="url(#a100)"/>
<rect x="378" y="48" width="11" height="191" fill="url(#a101)"/>
<rect x="389" y="48" width="1" height="191" fill="url(#a102)"/>
<rect x="390" y="48" width="1" height="191" fill="url(#a103)"/>
<rect x="391" y="48" width="1" height="191" fill="url(#a104)"/>
<rect x="392" y="48" width="1" height="191" fill="url(#a105)"/>
<rect x="393" y="48" width="1" height="191" fill="url(#a106)"/>
<rect x="394" y="48" width="1" height="191" fill="url(#a107)"/>
<rect x="395" y="48" width="1" height="191" fill="url(#a108)"/>
<rect x="396" y="48" width="3" height="191" fill="url(#a109)"/>
<rect x="399" y="48" width="1" height="191" fill="url(#a110)"/>
<rect x="400" y="48" width="1" height="191" fill="url(#a111)"/>
<rect x="401" y="48" width="2" height="191" fill="url(#a112)"/>
<rect x="403" y="48" width="6" height="191" fill="url(#a113)"/>
<rect x="409" y="48" width="2" height="191" fill="url(#a114)"/>
<rect x="411" y="48" width="8" height="191" fill="url(#a115)"/>
<rect x="419" y="48" width="1" height="191" fill="url(#a116)"/>
<rect x="420" y="48" width="1" height="191" fill="url(#a117)"/>
<rect x="421" y="48" width="3" height="191" fill="url(#a118)"/>
<rect x="424" y="48" width="8" height="191" fill="url(#a119)"/>
<rect x="432" y="48" width="2" height="191" fill="url(#a120)"/>
<rect x="434" y="48" width="1" height="191" fill="url(#a121)"/>
<rect x="435" y="48" width="2" height="191" fill="url(#a122)"/>
<rect x="437" y="48" width="1" height="191" fill="url(#a123)"/>
<rect x="543" y="48" width="1" height="191" fill="url(#a124)"/>
<rect x="544" y="48" width="1" height="191" fill="url(#a125)"/>
<rect x="545" y="48" width="1" height="191" fill="url(#a126)"/>
<rect x="546" y="48" width="1" height="191" fill="url(#a127)"/>
<rect x="547" y="48" width="1" height="191" fill="url(#a128)"/>
<rect x="548" y="48" width="1" height="191" fill="url(#a129)"/>
<rect x="549" y="48" width="1" height="191" fill="url(#a130)"/>
<rect x="550" y="48" width="1" height="191" fill="url(#a131)"/>
<rect x="551" y="48" width="1" height="191" fill="url(#a132)"/>
<rect x="552" y="48" width="1" height="191" fill="url(#a133)"/>
<rect x="553" y="48" width="1" height="191" fill="url(#a134)"/>
<rect x="554" y="48" width="1" height="191" fill="url(#a135)"/>
<rect x="555" y="48" width="1" height="191" fill="url(#a136)"/>
<rect x="556" y="48" width="1" height="191" fill="url(#a137)"/>
<rect x="557" y="48" width="1" height="191" fill="url(#a138)"/>
<rect x="558" y="48" width="1" height="191" fill="url(#a139)"/>
<rect x="559" y="48" width="1" height="191" fill="url(#a140)"/>
<rect x="560" y="48" width="1" height="191" fill="url(#a141)"/>
<rect x="561" y="48" width="1" height="191" fill="url(#a142)"/>
<rect x="562" y="48" width="1" height="191" fill="url(#a143)"/>
<rect x="563" y="48" width="3" height="191" fill="url(#a144)"/>
<rect x="566" y="48" width="8" height="191" fill="url(#a145)"/>
<rect x="574" y="48" width="1" height="191" fill="url(#a146)"/>
<rect x="575" y="48" width="5" height="191" fill="url(#a147)"/>
<rect x="580" y="48" width="4" height="191" fill="url(#a148)"/>
<rect x="584" y="48" width="3" height="191" fill="url(#a149)"/>
<rect x="587" y="48" width="3" height="191" fill="url(#a150)"/>
<rect x="590" y="48" width="3" height="191" fill="url(#a151)"/>
<rect x="593" y="48" width="3" height="191" fill="url(#a152)"/>
<rect x="596" y="48" width="3" height="191" fill="url(#a153)"/>
<rect x="599" y="48" width="4" height="191" fill="url(#a154)"/>
<rect x="603" y="48" width="12" height="191" fill="url(#a155)"/>
<rect x="615" y="48" width="6" height="191" fill="url(#a156)"/>
<rect x="621" y="48" width="6" height="191" fill="url(#a157)"/>
<rect x="627" y="48" width="12" height="191" fill="url(#a158)"/>
<rect x="639" y="48" width="8" height="191" fill="url(#a159)"/>
<defs><linearGradient id="b0" gradientUnits="userSpaceOnUse" x1="0" y1="293" x2="0" y2="484"><stop offset="0.002618" stop-color="#65ff9a"/><stop offset="0.02356" stop-color="#54ffab"/><stop offset="0.0445" stop-color="#00f8ff"/><stop offset="0.06021" stop-color="#00daff"/><stop offset="0.2592" stop-color="#008fff"/><stop offset="0.3848" stop-color="#005cff"/><stop offset="0.4581" stop-color="#003dff"/><stop offset="0.4843" stop-color="#004dff"/><stop offset="0.5052" stop-color="#0067ff"/><stop offset="0.5524" stop-color="#005dff"/><stop offset="0.7723" stop-color="#0064ff"/><stop offset="0.945" stop-color="#007cff"/><stop offset="0.9974" stop-color="#0087ff"/></linearGradient>
<linearGradient id="b1" gradientUnits="userSpaceOnUse" x1="0" y1="293" x2="0" y2="484"><stop offset="0.002618" stop-color="#65ff9a"/><stop offset="0.02356" stop-color="#54ffab"/><stop offset="0.0445" stop-color="#0ff"/><stop offset="0.06545" stop-color="#00dfff"/><stop offset="0.3534" stop-color="#0071ff"/><stop offset="0.4529" stop-color="#003bff"/><stop offset="0.4843" stop-color="#0049ff"/><stop offset="0.5052" stop-color="#0061ff"/><stop offset="0.5471" stop-color="#05f"/><stop offset="0.7723" stop-color="#005bff"/><stop offset="0.945" stop-color="#0073ff"/><stop offset="0.9974" stop-color="#007fff"/></linearGradient>
<linearGradient id="b2" gradientUnits="userSpaceOnUse" x1="0" y1="293" x2="0" y2="484"><stop offset="0.002618" stop-color="#65ff9a"/><stop offset="0.02356" stop-color="#5fa"/><stop offset="0.04974" stop-color="#00fcff"/><stop offset="0.09686" stop-color="#0df"/><stop offset="0.3429" stop-color="#007eff"/><stop offset="0.4581" stop-color="#0037ff"/><stop offset="0.4843" stop-color="#0043ff"/><stop offset="0.5052" stop-color="#005aff"/><stop offset="0.5471" stop-color="#004aff"/><stop offset="0.767" stop-color="#004eff"/><stop offset="0.945" stop-color="#0068ff"/><stop offset="0.9974" stop-color="#0074ff"/></linearGradient>
<linearGradient id="b3" gradientUnits="userSpaceOnUse" x1="0" y1="293" x2="0" y2="484"><stop offset="0.002618" stop-color="#65ff9a"/><stop offset="0.02356" stop-color="#5fa"/><stop offset="0.05497" stop-color="#01fffe"/><stop offset="0.1702" stop-color="#00cfff"/><stop offset="0.3325" stop-color="#008bff"/><stop offset="0.4581" stop-color="#0034ff"/><stop offset="0.4843" stop-color="#003dff"/><stop offset="0.5052" stop-color="#0052ff"/><stop offset="0.5419" stop-color="#003fff"/><stop offset="0.767" stop-color="#0043ff"/><stop offset="0.945" stop-color="#005dff"/><stop offset="0.9974" stop-color="#0069ff"/></linearGradient>
<linearGradient id="b4" gradientUnits="userSpaceOnUse" x1="0" y1="293" x2="0" y2="484"><stop offset="0.002618" stop-color="#65ff9a"/><stop offset="0.02356" stop-color="#5fa"/><stop offset="0.05497" stop-color="#0dfff2"/><stop offset="0.08115" stop-color="#00f8ff"/><stop offset="0.3168" stop-color="#009dff"/><stop offset="0.4581" stop-color="#0032ff"/><stop offset="0.4843" stop-color="#0039ff"/><stop offset="0.5052" stop-color="#004cff"/><stop offset="0.5419" stop-color="#0038ff"/><stop offset="0.767" stop-color="#003bff"/><stop offset="0.945" stop-color="#0056ff"/><stop offset="0.9974" stop-color="#0061ff"/></linearGradient>
<linearGradient id="b5" gradientUnits="userSpaceOnUse" x1="0" y1="293" x2="0" y2="484"><stop offset="0.002618" stop-color="#6f9"/><stop offset="0.02356" stop-color="#56ffa9"/><stop offset="0.05497" stop-color="#0dfff2"/><stop offset="0.08115" stop-color="#00f8ff"/><stop offset="0.3168" stop-color="#009dff"/><stop offset="0.4529" stop-color="#0036ff"/><stop offset="0.4843" stop-color="#0043ff"/><stop offset="0.5052" stop-color="#005aff"/><stop offset="0.5524" stop-color="#0049ff"/><stop offset="0.7723" stop-color="#004fff"/><stop offset="0.945" stop-color="#0068ff"/><stop offset="0.9974" stop-color="#0073ff"/></linearGradient>
<linearGradient id="b6" gradientUnits="userSpaceOnUse" x1="0" y1="293" x2="0" y2="484"><stop offset="0.002618" stop-color="#67ff98"/><stop offset="0.02356" stop-color="#57ffa8"/><stop offset="0.05497" stop-color="#0dfff2"/><stop offset="0.08115" stop-color="#00f8ff"/><stop offset="0.3168" stop-color="#009dff"/><stop offset="0.4476" stop-color="#0039ff"/><stop offset="0.4791" stop-color="#0040ff"/><stop offset="0.5052" stop-color="#0061ff"/><stop offset="0.5681" stop-color="#004eff"/><stop offset="0.7723" stop-color="#0057ff"/><stop offset="0.945" stop-color="#0070ff"/><stop offset="0.9974" stop-color="#007cff"/></linearGradient>
<linearGradient id="b7" gradientUnits="userSpaceOnUse" x1="0" y1="293" x2="0" y2="484"><stop offset="0.002618" stop-color="#67ff98"/><stop offset="0.02356" stop-color="#57ffa8"/><stop offset="0.05497" stop-color="#0dfff2"/><stop offset="0.08115" stop-color="#00f8ff"/><stop offset="0.3168" stop-color="#009dff"/><stop offset="0.4529" stop-color="#0035ff"/><stop offset="0.4843" stop-color="#003fff"/><stop offset="0.5052" stop-color="#05f"/><stop offset="0.5471" stop-color="#0042ff"/><stop offset="0.767" stop-color="#0046ff"/><stop offset="0.945" stop-color="#0061ff"/><stop offset="0.9974" stop-color="#006dff"/></linearGradient>
<linearGradient id="b8" gradientUnits="userSpaceOnUse" x1="0" y1="293" x2="0" y2="484"><stop offset="0.002618" stop-color="#6bff94"/><stop offset="0.02356" stop-color="#5bffa4"/><stop offset="0.05497" stop-color="#0efff1"/><stop offset="0.08115" stop-color="#00f8ff"/><stop offset="0.3168" stop-color="#009dff"/><stop offset="0.4581" stop-color="#0032ff"/><stop offset="0.4843" stop-color="#0039ff"/><stop offset="0.5052" stop-color="#004cff"/><stop offset="0.5419" stop-color="#0038ff"/><stop offset="0.767" stop-color="#003bff"/><stop offset="0.945" stop-color="#0057ff"/><stop offset="0.9974" stop-color="#0063ff"/></linearGradient>
<linearGradient id="b9" gradientUnits="userSpaceOnUse" x1="0" y1="293" x2="0" y2="484"><stop offset="0.002618" stop-color="#72ff8d"/><stop offset="0.02356" stop-color="#61ff9e"/><stop offset="0.04974" stop-color="#18ffe7"/><stop offset="0.08639" stop-color="#00faff"/><stop offset="0.3168" stop-color="#009dff"/><stop offset="0.4581" stop-color="#0032ff"/><stop offset="0.4843" stop-color="#0039ff"/><stop offset="0.5052" stop-color="#004cff"/><stop offset="0.5419" stop-color="#0037ff"/><stop offset="0.767" stop-color="#003bff"/><stop offset="0.945" stop-color="#0059ff"/><stop offset="0.9974" stop-color="#0065ff"/></linearGradient>
<linearGradient id="b10" gradientUnits="userSpaceOnUse" x1="0" y1="293" x2="0" y2="484"><stop offset="0.002618" stop-color="#7f8"/><stop offset="0.02356" stop-color="#6f9"/><stop offset="0.04974" stop-color="#1bffe4"/><stop offset="0.09686" stop-color="#00f9ff"/><stop offset="0.1754" stop-color="#00daff"/><stop offset="0.322" stop-color="#009aff"/><stop offset="0.4581" stop-color="#0032ff"/><stop offset="0.4843" stop-color="#0039ff"/><stop offset="0.5052" stop-color="#004cff"/><stop offset="0.5419" stop-color="#0037ff"/><stop offset="0.767" stop-color="#003bff"/><stop offset="0.945" stop-color="#005aff"/><stop offset="0.9974" stop-color="#06f"/></linearGradient>
<linearGradient id="b11" gradientUnits="userSpaceOnUse" x1="0" y1="293" x2="0" y2="484"><stop offset="0.002618" stop-color="#7cff83"/><stop offset="0.02356" stop-color="#6aff95"/><stop offset="0.04974" stop-color="#1fffe0"/><stop offset="0.08639" stop-color="#0dfff2"/><stop offset="0.1073" stop-color="#00f3ff"/><stop offset="0.3168" stop-color="#009fff"/><stop offset="0.4581" stop-color="#0032ff"/><stop offset="0.4843" stop-color="#0039ff"/><stop offset="0.5052" stop-color="#004cff"/><stop offset="0.5419" stop-color="#0037ff"/><stop offset="0.767" stop-color="#003bff"/><stop offset="0.945" stop-color="#005aff"/><stop offset="0.9974" stop-color="#0067ff"/></linearGradient>
<linearGradient id="b12" gradientUnits="userSpaceOnUse" x1="0" y1="293" x2="0" y2="484"><stop offset="0.002618" stop-color="#7fff80"/><stop offset="0.02356" stop-color="#6dff92"/><stop offset="0.04974" stop-color="#21ffde"/><stop offset="0.08115" stop-color="#1cffe3"/><stop offset="0.1021" stop-color="#00faff"/><stop offset="0.1649" stop-color="#00deff"/><stop offset="0.3168" stop-color="#00a0ff"/><stop offset="0.4581" stop-color="#0032ff"/><stop offset="0.4843" stop-color="#0039ff"/><stop offset="0.5052" stop-color="#004cff"/><stop offset="0.5419" stop-color="#0037ff"/><stop offset="0.767" stop-color="#003bff"/><stop offset="0.945" stop-color="#005bff"/><stop offset="0.9974" stop-color="#0068ff"/></linearGradient>
<linearGradient id="b13" gradientUnits="userSpaceOnUse" x1="0" y1="293" x2="0" y2="484"><stop offset="0.002618" stop-color="#83ff7c"/><stop offset="0.02356" stop-color="#70ff8f"/><stop offset="0.0445" stop-color="#2dffd2"/><stop offset="0.06021" stop-color="#2fd"/><stop offset="0.08115" stop-color="#25ffda"/><stop offset="0.1021" stop-color="#00fcff"/><stop offset="0.144" stop-color="#00e6ff"/><stop offset="0.3168" stop-color="#00a1ff"/><stop offset="0.4581" stop-color="#0032ff"/><stop offset="0.4843" stop-color="#0039ff"/><stop offset="0.5052" stop-color="#004cff"/><stop offset="0.5419" stop-color="#0037ff"/><stop offset="0.767" stop-color="#003bff"/><stop offset="0.945" stop-color="#005cff"/><stop offset="0.9974" stop-color="#0068ff"/></linearGradient>
<linearGradient id="b14" gradientUnits="userSpaceOnUse" x1="0" y1="293" x2="0" y2="484"><stop offset="0.002618" stop-color="#86ff79"/><stop offset="0.02356" stop-color="#74ff8b"/><stop offset="0.0445" stop-color="#30ffcf"/><stop offset="0.06021" stop-color="#28ffd7"/><stop offset="0.07592" stop-color="#34ffcb"/><stop offset="0.1021" stop-color="#0ff"/><stop offset="0.1387" stop-color="#00e9ff"/><stop offset="0.3168" stop-color="#00a2ff"/><stop offset="0.4581" stop-color="#0032ff"/><stop offset="0.4843" stop-color="#0039ff"/><stop offset="0.5052" stop-color="#004cff"/><stop offset="0.5419" stop-color="#0037ff"/><stop offset="0.767" stop-color="#003bff"/><stop offset="0.945" stop-color="#005cff"/><stop offset="0.9974" stop-color="#0069ff"/></linearGradient>
<linearGradient id="b15" gradientUnits="userSpaceOnUse" x1="0" y1="293" x2="0" y2="484"><stop offset="0.002618" stop-color="#8aff75"/><stop offset="0.02356" stop-color="#7f8"/><stop offset="0.0445" stop-color="#32ffcd"/><stop offset="0.06021" stop-color="#2fffd0"/><stop offset="0.07592" stop-color="#40ffbf"/><stop offset="0.09686" stop-color="#12ffed"/><stop offset="0.1073" stop-color="#00faff"/><stop offset="0.3168" stop-color="#00a3ff"/><stop offset="0.4581" stop-color="#0032ff"/><stop offset="0.4843" stop-color="#0039ff"/><stop offset="0.5052" stop-color="#004cff"/><stop offset="0.5419" stop-color="#0037ff"/><stop offset="0.767" stop-color="#003bff"/><stop offset="0.945" stop-color="#005dff"/><stop offset="0.9974" stop-color="#006aff"/></linearGradient>
<linearGradient id="b16" gradientUnits="userSpaceOnUse" x1="0" y1="293" x2="0" y2="484"><stop offset="0.002618" stop-color="#8eff71"/><stop offset="0.02356" stop-color="#7bff84"/><stop offset="0.0445" stop-color="#35ffca"/><stop offset="0.05497" stop-color="#2fffd0"/><stop offset="0.07592" stop-color="#4cffb3"/><stop offset="0.09162" stop-color="#29ffd6"/><stop offset="0.1073" stop-color="#00fcff"/><stop offset="0.1702" stop-color="#00e2ff"/><stop offset="0.3168" stop-color="#00a4ff"/><stop offset="0.4581" stop-color="#0032ff"/><stop offset="0.4843" stop-color="#0039ff"/><stop offset="0.5052" stop-color="#004cff"/><stop offset="0.5419" stop-color="#0037ff"/><stop offset="0.767" stop-color="#003bff"/><stop offset="0.945" stop-color="#005dff"/><stop offset="0.9974" stop-color="#006aff"/></linearGradient>
<linearGradient id="b17" gradientUnits="userSpaceOnUse" x1="0" y1="293" x2="0" y2="484"><stop offset="0.002618" stop-color="#92ff6d"/><stop offset="0.02356" stop-color="#7eff81"/><stop offset="0.0445" stop-color="#38ffc7"/><stop offset="0.05497" stop-color="#34ffcb"/><stop offset="0.07592" stop-color="#58ffa7"/><stop offset="0.08639" stop-color="#45ffba"/><stop offset="0.1073" stop-color="#0ff"/><stop offset="0.1597" stop-color="#00e5ff"/><stop offset="0.3115" stop-color="#00a9ff"/><stop offset="0.4581" stop-color="#0032ff"/><stop offset="0.4843" stop-color="#0039ff"/><stop offset="0.5052" stop-color="#004cff"/><stop offset="0.5419" stop-color="#0037ff"/><stop offset="0.767" stop-color="#003bff"/><stop offset="0.945" stop-color="#005eff"/><stop offset="0.9974" stop-color="#006bff"/></linearGradient>
<linearGradient id="b18" gradientUnits="userSpaceOnUse" x1="0" y1="293" x2="0" y2="484"><stop offset="0.002618" stop-color="#96ff69"/><stop offset="0.01832" stop-color="#8eff71"/><stop offset="0.0445" stop-color="#3bffc4"/><stop offset="0.05497" stop-color="#3affc5"/><stop offset="0.07592" stop-color="#65ff9a"/><stop offset="0.08639" stop-color="#50ffaf"/><stop offset="0.1073" stop-color="#03fffc"/><stop offset="0.1754" stop-color="#00e4ff"/><stop offset="0.3168" stop-color="#00a6ff"/><stop offset="0.4581" stop-color="#0032ff"/><stop offset="0.4843" stop-color="#0039ff"/><stop offset="0.5052" stop-color="#004cff"/><stop offset="0.5419" stop-color="#0037ff"/><stop offset="0.767" stop-color="#003bff"/><stop offset="0.945" stop-color="#005fff"/><stop offset="0.9974" stop-color="#006cff"/></linearGradient>
<linearGradient id="b19" gradientUnits="userSpaceOnUse" x1="0" y1="293" x2="0" y2="484"><stop offset="0.002618" stop-color="#9aff65"/><stop offset="0.01832" stop-color="#92ff6d"/><stop offset="0.0445" stop-color="#3effc1"/><stop offset="0.05497" stop-color="#3fffc0"/><stop offset="0.07592" stop-color="#72ff8d"/><stop offset="0.08639" stop-color="#5bffa4"/><stop offset="0.1073" stop-color="#07fff8"/><stop offset="0.3115" stop-color="#00acff"/><stop offset="0.4581" stop-color="#0032ff"/><stop offset="0.4843" stop-color="#0039ff"/><stop offset="0.5052" stop-color="#004cff"/><stop offset="0.5419" stop-color="#0037ff"/><stop offset="0.767" stop-color="#003bff"/><stop offset="0.9398" stop-color="#005cff"/><stop offset="0.9869" stop-color="#006cff"/><stop offset="0.9974" stop-color="#006dff"/></linearGradient>
<linearGradient id="b20" gradientUnits="userSpaceOnUse" x1="0" y1="293" x2="0" y2="484"><stop offset="0.002618" stop-color="#9eff61"/><stop offset="0.01832" stop-color="#96ff69"/><stop offset="0.0445" stop-color="#42ffbd"/><stop offset="0.05497" stop-color="#45ffba"/><stop offset="0.07068" stop-color="#79ff86"/><stop offset="0.08115" stop-color="#7aff85"/><stop offset="0.1073" stop-color="#0afff5"/><stop offset="0.123" stop-color="#00f5ff"/><stop offset="0.3063" stop-color="#00b0ff"/><stop offset="0.4581" stop-color="#0032ff"/><stop offset="0.4843" stop-color="#0039ff"/><stop offset="0.5052" stop-color="#004cff"/><stop offset="0.5419" stop-color="#0037ff"/><stop offset="0.767" stop-color="#003bff"/><stop offset="0.9398" stop-color="#005cff"/><stop offset="0.9869" stop-color="#006dff"/><stop offset="0.9974" stop-color="#006dff"/></linearGradient>
<linearGradient id="b21" gradientUnits="userSpaceOnUse" x1="0" y1="293" x2="0" y2="484"><stop offset="0.002618" stop-color="#a2ff5d"/><stop offset="0.01832" stop-color="#9aff65"/><stop offset="0.0445" stop-color="#45ffba"/><stop offset="0.05497" stop-color="#4bffb4"/><stop offset="0.07068" stop-color="#85ff7a"/><stop offset="0.07592" stop-color="#8eff71"/><stop offset="0.08639" stop-color="#73ff8c"/><stop offset="0.1073" stop-color="#0efff1"/><stop offset="0.1178" stop-color="#00faff"/><stop offset="0.3115" stop-color="#00aeff"/><stop offset="0.4581" stop-color="#0032ff"/><stop offset="0.4843" stop-color="#0039ff"/><stop offset="0.5052" stop-color="#004cff"/><stop offset="0.5419" stop-color="#0037ff"/><stop offset="0.767" stop-color="#003bff"/><stop offset="0.9398" stop-color="#005dff"/><stop offset="0.9869" stop-color="#006eff"/><stop offset="0.9974" stop-color="#006eff"/></linearGradient>
<linearGradient id="b22" gradientUnits="userSpaceOnUse" x1="0" y1="293" x2="0" y2="484"><stop offset="0.002618" stop-color="#a6ff59"/><stop offset="0.01832" stop-color="#9fff60"/><stop offset="0.0445" stop-color="#48ffb7"/><stop offset="0.05497" stop-color="#50ffaf"/><stop offset="0.07068" stop-color="#92ff6d"/><stop offset="0.07592" stop-color="#9cff63"/><stop offset="0.08115" stop-color="#95ff6a"/><stop offset="0.1073" stop-color="#1fe"/><stop offset="0.1178" stop-color="#00fcff"/><stop offset="0.3063" stop-color="#00b3ff"/><stop offset="0.4581" stop-color="#0032ff"/><stop offset="0.4843" stop-color="#0039ff"/><stop offset="0.5052" stop-color="#004cff"/><stop offset="0.5419" stop-color="#0037ff"/><stop offset="0.767" stop-color="#003bff"/><stop offset="0.9398" stop-color="#005dff"/><stop offset="0.9869" stop-color="#006fff"/><stop offset="0.9974" stop-color="#006fff"/></linearGradient>
<linearGradient id="b23" gradientUnits="userSpaceOnUse" x1="0" y1="293" x2="0" y2="484"><stop offset="0.002618" stop-color="#af5"/><stop offset="0.01832" stop-color="#a3ff5c"/><stop offset="0.0445" stop-color="#4cffb3"/><stop offset="0.05497" stop-color="#56ffa9"/><stop offset="0.07068" stop-color="#9fff60"/><stop offset="0.07592" stop-color="#af5"/><stop offset="0.08115" stop-color="#a2ff5d"/><stop offset="0.1073" stop-color="#15ffea"/><stop offset="0.1178" stop-color="#00fdff"/><stop offset="0.3063" stop-color="#00b4ff"/><stop offset="0.4581" stop-color="#0032ff"/><stop offset="0.4843" stop-color="#0039ff"/><stop offset="0.5052" stop-color="#004cff"/><stop offset="0.5419" stop-color="#0037ff"/><stop offset="0.767" stop-color="#003bff"/><stop offset="0.9398" stop-color="#005eff"/><stop offset="0.9869" stop-color="#006fff"/><stop offset="0.9974" stop-color="#006fff"/></linearGradient>
<linearGradient id="b24" gradientUnits="userSpaceOnUse" x1="0" y1="293" x2="0" y2="484"><stop offset="0.002618" stop-color="#afff50"/><stop offset="0.01832" stop-color="#a7ff58"/><stop offset="0.0445" stop-color="#4fffb0"/><stop offset="0.04974" stop-color="#4effb1"/><stop offset="0.06021" stop-color="#74ff8b"/><stop offset="0.07068" stop-color="#acff53"/><stop offset="0.07592" stop-color="#b7ff48"/><stop offset="0.08115" stop-color="#b0ff4f"/><stop offset="0.09162" stop-color="#73ff8c"/><stop offset="0.1021" stop-color="#30ffcf"/><stop offset="0.1126" stop-color="#09fff6"/><stop offset="0.1335" stop-color="#00f9ff"/><stop offset="0.3063" stop-color="#00b5ff"/><stop offset="0.4581" stop-color="#0032ff"/><stop offset="0.4843" stop-color="#0039ff"/><stop offset="0.5052" stop-color="#004cff"/><stop offset="0.5419" stop-color="#0037ff"/><stop offset="0.767" stop-color="#003bff"/><stop offset="0.9398" stop-color="#005fff"/><stop offset="0.9869" stop-color="#0070ff"/><stop offset="0.9974" stop-color="#0070ff"/></linearGradient>
<linearGradient id="b25" gradientUnits="userSpaceOnUse" x1="0" y1="293" x2="0" y2="484"><stop offset="0.002618" stop-color="#b3ff4c"/><stop offset="0.01832" stop-color="#abff54"/><stop offset="0.0445" stop-color="#52ffad"/><stop offset="0.04974" stop-color="#52ffad"/><stop offset="0.06021" stop-color="#7cff83"/><stop offset="0.07068" stop-color="#b8ff47"/><stop offset="0.07592" stop-color="#c5ff3a"/><stop offset="0.08115" stop-color="#bdff42"/><stop offset="0.09162" stop-color="#7dff82"/><stop offset="0.1021" stop-color="#35ffca"/><stop offset="0.1126" stop-color="#0cfff3"/><stop offset="0.1335" stop-color="#00faff"/><stop offset="0.3063" stop-color="#00b6ff"/><stop offset="0.4529" stop-color="#0035ff"/><stop offset="0.4843" stop-color="#0039ff"/><stop offset="0.5052" stop-color="#004cff"/><stop offset="0.5419" stop-color="#0037ff"/><stop offset="0.767" stop-color="#003bff"/><stop offset="0.9398" stop-color="#005fff"/><stop offset="0.9869" stop-color="#0071ff"/><stop offset="0.9974" stop-color="#0071ff"/></linearGradient>
<linearGradient id="b26" gradientUnits="userSpaceOnUse" x1="0" y1="293" x2="0" y2="484"><stop offset="0.002618" stop-color="#b6ff49"/><stop offset="0.01832" stop-color="#afff50"/><stop offset="0.0445" stop-color="#5fa"/><stop offset="0.04974" stop-color="#56ffa9"/><stop offset="0.06021" stop-color="#84ff7b"/><stop offset="0.07068" stop-color="#c4ff3b"/><stop offset="0.07592" stop-color="#d3ff2c"/><stop offset="0.08115" stop-color="#caff35"/><stop offset="0.09162" stop-color="#86ff79"/><stop offset="0.1021" stop-color="#3affc5"/><stop offset="0.1126" stop-color="#0ffff0"/><stop offset="0.1283" stop-color="#00fdff"/><stop offset="0.2853" stop-color="#00c1ff"/><stop offset="0.3534" stop-color="#008fff"/><stop offset="0.4529" stop-color="#0035ff"/><stop offset="0.4843" stop-color="#0039ff"/><stop offset="0.5052" stop-color="#004cff"/><stop offset="0.5419" stop-color="#0037ff"/><stop offset="0.767" stop-color="#003bff"/><stop offset="0.9398" stop-color="#0060ff"/><stop offset="0.9869" stop-color="#0071ff"/><stop offset="0.9974" stop-color="#0071ff"/></linearGradient>
<linearGradient id="b27" gradientUnits="userSpaceOnUse" x1="0" y1="293" x2="0" y2="484"><stop offset="0.002618" stop-color="#baff45"/><stop offset="0.01832" stop-color="#b2ff4d"/><stop offset="0.0445" stop-color="#59ffa6"/><stop offset="0.04974" stop-color="#5affa5"/><stop offset="0.06021" stop-color="#8cff73"/><stop offset="0.07068" stop-color="#d0ff2f"/><stop offset="0.07592" stop-color="#e0ff1f"/><stop offset="0.08115" stop-color="#d7ff28"/><stop offset="0.09162" stop-color="#8fff70"/><stop offset="0.1021" stop-color="#3effc1"/><stop offset="0.1126" stop-color="#12ffed"/><stop offset="0.1283" stop-color="#00feff"/><stop offset="0.2853" stop-color="#00c2ff"/><stop offset="0.3534" stop-color="#008fff"/><stop offset="0.4529" stop-color="#0035ff"/><stop offset="0.4843" stop-color="#0039ff"/><stop offset="0.5052" stop-color="#004cff"/><stop offset="0.5419" stop-color="#0037ff"/><stop offset="0.767" stop-color="#003bff"/><stop offset="0.9398" stop-color="#0060ff"/><stop offset="0.9869" stop-color="#0072ff"/><stop offset="0.9974" stop-color="#0072ff"/></linearGradient>
<linearGradient id="b28" gradientUnits="userSpaceOnUse" x1="0" y1="293" x2="0" y2="484"><stop offset="0.002618" stop-color="#beff41"/><stop offset="0.01832" stop-color="#b6ff49"/><stop offset="0.0445" stop-color="#5cffa3"/><stop offset="0.04974" stop-color="#5effa1"/><stop offset="0.06021" stop-color="#93ff6c"/><stop offset="0.07068" stop-color="#dcff23"/><stop offset="0.07592" stop-color="#ecff13"/><stop offset="0.08115" stop-color="#e4ff1b"/><stop offset="0.09162" stop-color="#98ff67"/><stop offset="0.1021" stop-color="#43ffbc"/><stop offset="0.1126" stop-color="#14ffeb"/><stop offset="0.1335" stop-color="#0ff"/><stop offset="0.301" stop-color="#00bdff"/><stop offset="0.4581" stop-color="#03f"/><stop offset="0.4843" stop-color="#0039ff"/><stop offset="0.5052" stop-color="#004cff"/><stop offset="0.5419" stop-color="#0037ff"/><stop offset="0.767" stop-color="#003bff"/><stop offset="0.9398" stop-color="#0061ff"/><stop offset="0.9869" stop-color="#0073ff"/><stop offset="0.9974" stop-color="#0073ff"/></linearGradient>
<linearGradient id="b29" gradientUnits="userSpaceOnUse" x1="0" y1="293" x2="0" y2="484"><stop offset="0.002618" stop-color="#c2ff3d"/><stop offset="0.01832" stop-color="#baff45"/><stop offset="0.0445" stop-color="#5fffa0"/><stop offset="0.04974" stop-color="#62ff9d"/><stop offset="0.06021" stop-color="#9aff65"/><stop offset="0.07068" stop-color="#e7ff18"/><stop offset="0.07592" stop-color="#f8ff07"/><stop offset="0.08115" stop-color="#efff10"/><stop offset="0.09162" stop-color="#a0ff5f"/><stop offset="0.1021" stop-color="#47ffb8"/><stop offset="0.1126" stop-color="#17ffe8"/><stop offset="0.1335" stop-color="#02fffd"/><stop offset="0.2853" stop-color="#00c5ff"/><stop offset="0.3534" stop-color="#0091ff"/><stop offset="0.4529" stop-color="#0035ff"/><stop offset="0.4843" stop-color="#0039ff"/><stop offset="0.5052" stop-color="#004cff"/><stop offset="0.5419" stop-color="#0037ff"/><stop offset="0.767" stop-color="#003bff"/><stop offset="0.9398" stop-color="#0061ff"/><stop offset="0.9869" stop-color="#0073ff"/><stop offset="0.9974" stop-color="#0073ff"/></linearGradient>
<linearGradient id="b30" gradientUnits="userSpaceOnUse" x1="0" y1="293" x2="0" y2="484"><stop offset="0.002618" stop-color="#c5ff3a"/><stop offset="0.01832" stop-color="#bdff42"/><stop offset="0.0445" stop-color="#61ff9e"/><stop offset="0.04974" stop-color="#65ff9a"/><stop offset="0.05497" stop-color="#7cff83"/><stop offset="0.07068" stop-color="#f2ff0d"/><stop offset="0.07592" stop-color="#fffb00"/><stop offset="0.08115" stop-color="#fbff04"/><stop offset="0.08639" stop-color="#d9ff26"/><stop offset="0.1021" stop-color="#4cffb3"/><stop offset="0.1126" stop-color="#19ffe6"/><stop offset="0.1335" stop-color="#03fffc"/><stop offset="0.2801" stop-color="#00caff"/><stop offset="0.3482" stop-color="#0098ff"/><stop offset="0.4529" stop-color="#0035ff"/><stop offset="0.4843" stop-color="#0039ff"/><stop offset="0.5052" stop-color="#004cff"/><stop offset="0.5419" stop-color="#0037ff"/><stop offset="0.767" stop-color="#003bff"/><stop offset="0.9398" stop-color="#0062ff"/><stop offset="0.9869" stop-color="#0074ff"/><stop offset="0.9974" stop-color="#0074ff"/></linearGradient>
<linearGradient id="b31" gradientUnits="userSpaceOnUse" x1="0" y1="293" x2="0" y2="484"><stop offset="0.002618" stop-color="#c8ff37"/><stop offset="0.01832" stop-color="#c0ff3f"/><stop offset="0.03927" stop-color="#6fff90"/><stop offset="0.0445" stop-color="#64ff9b"/><stop offset="0.04974" stop-color="#69ff96"/><stop offset="0.05497" stop-color="#81ff7e"/><stop offset="0.07068" stop-color="#fcff03"/><stop offset="0.07592" stop-color="#fff200"/><stop offset="0.08115" stop-color="#fffa00"/><stop offset="0.08639" stop-color="#e2ff1d"/><stop offset="0.1021" stop-color="#50ffaf"/><stop offset="0.1126" stop-color="#1cffe3"/><stop offset="0.1335" stop-color="#05fffa"/><stop offset="0.2749" stop-color="#00cfff"/><stop offset="0.3534" stop-color="#0093ff"/><stop offset="0.4529" stop-color="#0035ff"/><stop offset="0.4843" stop-color="#0039ff"/><stop offset="0.5052" stop-color="#004cff"/><stop offset="0.5419" stop-color="#0037ff"/><stop offset="0.767" stop-color="#003bff"/><stop offset="0.9398" stop-color="#0062ff"/><stop offset="0.9869" stop-color="#0074ff"/><stop offset="0.9974" stop-color="#0074ff"/></linearGradient>
<linearGradient id="b32" gradientUnits="userSpaceOnUse" x1="0" y1="293" x2="0" y2="484"><stop offset="0.002618" stop-color="#cbff34"/><stop offset="0.01832" stop-color="#c3ff3c"/><stop offset="0.03927" stop-color="#72ff8d"/><stop offset="0.0445" stop-color="#67ff98"/><stop offset="0.04974" stop-color="#6cff93"/><stop offset="0.05497" stop-color="#85ff7a"/><stop offset="0.07068" stop-color="#fffa00"/><stop offset="0.07592" stop-color="#ffea00"/><stop offset="0.08115" stop-color="#fff200"/><stop offset="0.08639" stop-color="#eaff15"/><stop offset="0.1021" stop-color="#53ffac"/><stop offset="0.1126" stop-color="#1effe1"/><stop offset="0.1335" stop-color="#07fff8"/><stop offset="0.2696" stop-color="#00d4ff"/><stop offset="0.3482" stop-color="#09f"/><stop offset="0.4529" stop-color="#0035ff"/><stop offset="0.4843" stop-color="#0039ff"/><stop offset="0.5052" stop-color="#004cff"/><stop offset="0.5419" stop-color="#0037ff"/><stop offset="0.767" stop-color="#003bff"/><stop offset="0.9398" stop-color="#0063ff"/><stop offset="0.9869" stop-color="#0075ff"/><stop offset="0.9974" stop-color="#0075ff"/></linearGradient>
<linearGradient id="b33" gradientUnits="userSpaceOnUse" x1="0" y1="293" x2="0" y2="484"><stop offset="0.002618" stop-color="#ceff31"/><stop offset="0.01832" stop-color="#c6ff39"/><stop offset="0.03927" stop-color="#74ff8b"/><stop offset="0.0445" stop-color="#69ff96"/><stop offset="0.04974" stop-color="#6fff90"/><stop offset="0.05497" stop-color="#89ff76"/><stop offset="0.06545" stop-color="#e3ff1c"/><stop offset="0.07068" stop-color="#fff300"/><stop offset="0.07592" stop-color="#ffe200"/><stop offset="0.08639" stop-color="#f2ff0d"/><stop offset="0.1021" stop-color="#57ffa8"/><stop offset="0.1126" stop-color="#20ffdf"/><stop offset="0.1283" stop-color="#0afff5"/><stop offset="0.212" stop-color="#00ebff"/><stop offset="0.3115" stop-color="#00bcff"/><stop offset="0.4529" stop-color="#0035ff"/><stop offset="0.4843" stop-color="#0039ff"/><stop offset="0.5052" stop-color="#004cff"/><stop offset="0.5419" stop-color="#0037ff"/><stop offset="0.767" stop-color="#003bff"/><stop offset="0.9398" stop-color="#0063ff"/><stop offset="0.9869" stop-color="#0075ff"/><stop offset="0.9974" stop-color="#0075ff"/></linearGradient>
<linearGradient id="b34" gradientUnits="userSpaceOnUse" x1="0" y1="293" x2="0" y2="484"><stop offset="0.002618" stop-color="#d2ff2d"/><stop offset="0.01832" stop-color="#caff35"/><stop offset="0.03927" stop-color="#7f8"/><stop offset="0.0445" stop-color="#6cff93"/><stop offset="0.04974" stop-color="#72ff8d"/><stop offset="0.05497" stop-color="#8eff71"/><stop offset="0.06545" stop-color="#ecff13"/><stop offset="0.07068" stop-color="#ffea00"/><stop offset="0.07592" stop-color="#ffd800"/><stop offset="0.08115" stop-color="#ffe100"/><stop offset="0.08639" stop-color="#fcff03"/><stop offset="0.1021" stop-color="#5bffa4"/><stop offset="0.1126" stop-color="#2fd"/><stop offset="0.1283" stop-color="#0cfff3"/><stop offset="0.1963" stop-color="#00f2ff"/><stop offset="0.3115" stop-color="#00bdff"/><stop offset="0.4529" stop-color="#0035ff"/><stop offset="0.4843" stop-color="#0039ff"/><stop offset="0.5052" stop-color="#004cff"/><stop offset="0.5419" stop-color="#0037ff"/><stop offset="0.767" stop-color="#003bff"/><stop offset="0.9398" stop-color="#0064ff"/><stop offset="0.9869" stop-color="#0076ff"/><stop offset="0.9974" stop-color="#0076ff"/></linearGradient>
<linearGradient id="b35" gradientUnits="userSpaceOnUse" x1="0" y1="293" x2="0" y2="484"><stop offset="0.002618" stop-color="#d6ff29"/><stop offset="0.01832" stop-color="#ceff31"/><stop offset="0.03927" stop-color="#7aff85"/><stop offset="0.0445" stop-color="#70ff8f"/><stop offset="0.04974" stop-color="#7f8"/><stop offset="0.05497" stop-color="#94ff6b"/><stop offset="0.06545" stop-color="#f7ff08"/><stop offset="0.07592" stop-color="#ffcd00"/><stop offset="0.08115" stop-color="#ffd500"/><stop offset="0.08639" stop-color="#fff700"/><stop offset="0.1021" stop-color="#61ff9e"/><stop offset="0.1126" stop-color="#26ffd9"/><stop offset="0.1283" stop-color="#0ffff0"/><stop offset="0.1963" stop-color="#00f4ff"/><stop offset="0.3063" stop-color="#00c3ff"/><stop offset="0.4529" stop-color="#0035ff"/><stop offset="0.4843" stop-color="#0039ff"/><stop offset="0.5052" stop-color="#004cff"/><stop offset="0.5419" stop-color="#0037ff"/><stop offset="0.767" stop-color="#003bff"/><stop offset="0.8874" stop-color="#0058ff"/><stop offset="0.9503" stop-color="#006cff"/><stop offset="0.9974" stop-color="#07f"/></linearGradient>
<linearGradient id="b36" gradientUnits="userSpaceOnUse" x1="0" y1="293" x2="0" y2="484"><stop offset="0.002618" stop-color="#d9ff26"/><stop offset="0.01832" stop-color="#d1ff2e"/><stop offset="0.03927" stop-color="#7dff82"/><stop offset="0.0445" stop-color="#72ff8d"/><stop offset="0.04974" stop-color="#7aff85"/><stop offset="0.05497" stop-color="#97ff68"/><stop offset="0.06545" stop-color="#fcff03"/><stop offset="0.07068" stop-color="#ffdb00"/><stop offset="0.07592" stop-color="#ffc700"/><stop offset="0.08115" stop-color="#ffd000"/><stop offset="0.08639" stop-color="#fff200"/><stop offset="0.09162" stop-color="#d3ff2c"/><stop offset="0.1021" stop-color="#64ff9b"/><stop offset="0.1126" stop-color="#28ffd7"/><stop offset="0.1283" stop-color="#1fe"/><stop offset="0.1963" stop-color="#00f6ff"/><stop offset="0.3063" stop-color="#00c4ff"/><stop offset="0.4529" stop-color="#0036ff"/><stop offset="0.4843" stop-color="#0039ff"/><stop offset="0.5052" stop-color="#004cff"/><stop offset="0.5419" stop-color="#0037ff"/><stop offset="0.767" stop-color="#003bff"/><stop offset="0.8874" stop-color="#0058ff"/><stop offset="0.9503" stop-color="#006dff"/><stop offset="0.9974" stop-color="#0078ff"/></linearGradient>
<linearGradient id="b37" gradientUnits="userSpaceOnUse" x1="0" y1="293" x2="0" y2="484"><stop offset="0.002618" stop-color="#ff5600"/><stop offset="0.9974" stop-color="#ff5600"/></linearGradient>
<linearGradient id="b38" gradientUnits="userSpaceOnUse" x1="0" y1="293" x2="0" y2="484"><stop offset="0.002618" stop-color="#ff7400"/><stop offset="0.05497" stop-color="#ff7400"/><stop offset="0.06021" stop-color="#fff600"/><stop offset="0.09162" stop-color="#fff600"/><stop offset="0.09686" stop-color="#ff7400"/><stop offset="0.9974" stop-color="#ff7400"/></linearGradient>
<linearGradient id="b39" gradientUnits="userSpaceOnUse" x1="0" y1="293" x2="0" y2="484"><stop offset="0.002618" stop-color="#ffb300"/><stop offset="0.05497" stop-color="#ffb300"/><stop offset="0.06021" stop-color="#fff600"/><stop offset="0.09162" stop-color="#fff600"/><stop offset="0.09686" stop-color="#ffb300"/><stop offset="0.9974" stop-color="#ffb300"/></linearGradient>
<linearGradient id="b40" gradientUnits="userSpaceOnUse" x1="0" y1="293" x2="0" y2="484"><stop offset="0.002618" stop-color="#ff6c00"/><stop offset="0.09162" stop-color="#ff6c00"/><stop offset="0.09686" stop-color="#ffe400"/><stop offset="0.1283" stop-color="#ffe400"/><stop offset="0.1335" stop-color="#ff6c00"/><stop offset="0.9974" stop-color="#ff6c00"/></linearGradient>
<linearGradient id="b41" gradientUnits="userSpaceOnUse" x1="0" y1="293" x2="0" y2="484"><stop offset="0.002618" stop-color="#ffd500"/><stop offset="0.05497" stop-color="#ffd500"/><stop offset="0.06021" stop-color="#f4ff0b"/><stop offset="0.09162" stop-color="#f4ff0b"/><stop offset="0.09686" stop-color="#ffe400"/><stop offset="0.1283" stop-color="#ffe400"/><stop offset="0.1335" stop-color="#ffd500"/><stop offset="0.9974" stop-color="#ffd500"/></linearGradient>
<linearGradient id="b42" gradientUnits="userSpaceOnUse" x1="0" y1="293" x2="0" y2="484"><stop offset="0.002618" stop-color="#ffe400"/><stop offset="0.05497" stop-color="#ffe400"/><stop offset="0.06021" stop-color="#f4ff0b"/><stop offset="0.09162" stop-color="#f4ff0b"/><stop offset="0.09686" stop-color="#ffe400"/><stop offset="0.9974" stop-color="#ffe400"/></linearGradient>
<linearGradient id="b43" gradientUnits="userSpaceOnUse" x1="0" y1="293" x2="0" y2="484"><stop offset="0.002618" stop-color="#ffc200"/><stop offset="0.05497" stop-color="#ffc200"/><stop offset="0.06021" stop-color="#f4ff0b"/><stop offset="0.09162" stop-color="#f4ff0b"/><stop offset="0.09686" stop-color="#ffc200"/><stop offset="0.9974" stop-color="#ffc200"/></linearGradient>
<linearGradient id="b44" gradientUnits="userSpaceOnUse" x1="0" y1="293" x2="0" y2="484"><stop offset="0.002618" stop-color="#ff6a00"/><stop offset="0.9974" stop-color="#ff6a00"/></linearGradient>
<linearGradient id="b45" gradientUnits="userSpaceOnUse" x1="0" y1="293" x2="0" y2="484"><stop offset="0.002618" stop-color="#ffc500"/><stop offset="0.01309" stop-color="#ffc500"/><stop offset="0.01832" stop-color="#ffe400"/><stop offset="0.06545" stop-color="#ffe400"/><stop offset="0.07068" stop-color="#ffc200"/><stop offset="0.07592" stop-color="#ffd300"/><stop offset="0.08115" stop-color="#ffcb00"/><stop offset="0.09162" stop-color="#ff7000"/><stop offset="0.1335" stop-color="#ff6800"/><stop offset="0.4843" stop-color="#ff6b00"/><stop offset="0.4895" stop-color="#ff8500"/><stop offset="0.4948" stop-color="#ffbe00"/><stop offset="0.5" stop-color="#fd0"/><stop offset="0.5105" stop-color="#ff7d00"/><stop offset="0.5157" stop-color="#ff6a00"/><stop offset="0.9974" stop-color="#f60"/></linearGradient>
<linearGradient id="b46" gradientUnits="userSpaceOnUse" x1="0" y1="293" x2="0" y2="484"><stop offset="0.002618" stop-color="#ffc500"/><stop offset="0.01309" stop-color="#ffc500"/><stop offset="0.01832" stop-color="#ffe400"/><stop offset="0.06545" stop-color="#ffe400"/><stop offset="0.07068" stop-color="#ffc200"/><stop offset="0.07592" stop-color="#ffd300"/><stop offset="0.08115" stop-color="#ffcb00"/><stop offset="0.09162" stop-color="#ff7000"/><stop offset="0.1335" stop-color="#ff6800"/><stop offset="0.4843" stop-color="#ff5600"/><stop offset="0.4895" stop-color="#ff7300"/><stop offset="0.4948" stop-color="#ffb300"/><stop offset="0.5" stop-color="#ffd700"/><stop offset="0.5105" stop-color="#ff6a00"/><stop offset="0.5157" stop-color="#ff5400"/><stop offset="0.9974" stop-color="#ff5000"/></linearGradient>
<linearGradient id="b47" gradientUnits="userSpaceOnUse" x1="0" y1="293" x2="0" y2="484"><stop offset="0.002618" stop-color="#ffc500"/><stop offset="0.01309" stop-color="#ffc500"/><stop offset="0.01832" stop-color="#ff8600"/><stop offset="0.02356" stop-color="#ff6f00"/><stop offset="0.06021" stop-color="#ff6f00"/><stop offset="0.06545" stop-color="#ff7f00"/><stop offset="0.07068" stop-color="#ffc300"/><stop offset="0.07592" stop-color="#ffd300"/><stop offset="0.08115" stop-color="#ffcb00"/><stop offset="0.09162" stop-color="#f70"/><stop offset="0.2016" stop-color="#ff6f00"/><stop offset="0.4843" stop-color="#ff5d00"/><stop offset="0.4895" stop-color="#ff7800"/><stop offset="0.4948" stop-color="#ffb700"/><stop offset="0.5" stop-color="#ffd900"/><stop offset="0.5105" stop-color="#ff7000"/><stop offset="0.5157" stop-color="#ff5b00"/><stop offset="0.9974" stop-color="#ff5700"/></linearGradient>
<linearGradient id="b48" gradientUnits="userSpaceOnUse" x1="0" y1="293" x2="0" y2="484"><stop offset="0.002618" stop-color="#ffc500"/><stop offset="0.01309" stop-color="#ffc500"/><stop offset="0.01832" stop-color="#ff7900"/><stop offset="0.02356" stop-color="#ff6800"/><stop offset="0.06021" stop-color="#ff6800"/><stop offset="0.06545" stop-color="#ff7c00"/><stop offset="0.07068" stop-color="#ffc600"/><stop offset="0.07592" stop-color="#ffd300"/><stop offset="0.08115" stop-color="#ffcf00"/><stop offset="0.09162" stop-color="#ffa200"/><stop offset="0.4843" stop-color="#f90"/><stop offset="0.4895" stop-color="#ffac00"/><stop offset="0.4948" stop-color="#ffd500"/><stop offset="0.5" stop-color="#ffec00"/><stop offset="0.5105" stop-color="#ffa600"/><stop offset="0.5209" stop-color="#ff9600"/><stop offset="0.9974" stop-color="#ff9600"/></linearGradient>
<linearGradient id="b49" gradientUnits="userSpaceOnUse" x1="0" y1="293" x2="0" y2="484"><stop offset="0.002618" stop-color="#ffc500"/><stop offset="0.01309" stop-color="#ffc500"/><stop offset="0.01832" stop-color="#ff7300"/><stop offset="0.0288" stop-color="#ff6800"/><stop offset="0.06021" stop-color="#ff6800"/><stop offset="0.06545" stop-color="#ff7a00"/><stop offset="0.07068" stop-color="#ffc400"/><stop offset="0.07592" stop-color="#ffd300"/><stop offset="0.08115" stop-color="#fc0"/><stop offset="0.09162" stop-color="#ff8600"/><stop offset="0.4843" stop-color="#ff7300"/><stop offset="0.4895" stop-color="#ff8c00"/><stop offset="0.4948" stop-color="#ffc200"/><stop offset="0.5" stop-color="#ffe000"/><stop offset="0.5105" stop-color="#ff8400"/><stop offset="0.5157" stop-color="#ff7200"/><stop offset="0.9974" stop-color="#ff6e00"/></linearGradient>
<linearGradient id="b50" gradientUnits="userSpaceOnUse" x1="0" y1="293" x2="0" y2="484"><stop offset="0.002618" stop-color="#ffc500"/><stop offset="0.01309" stop-color="#ffc500"/><stop offset="0.01832" stop-color="#ff7000"/><stop offset="0.0445" stop-color="#ff6800"/><stop offset="0.06021" stop-color="#ff6800"/><stop offset="0.06545" stop-color="#ff7900"/><stop offset="0.07068" stop-color="#ffc300"/><stop offset="0.07592" stop-color="#ffd300"/><stop offset="0.08115" stop-color="#fc0"/><stop offset="0.09162" stop-color="#ff7a00"/><stop offset="0.4843" stop-color="#ff7100"/><stop offset="0.4895" stop-color="#ff8a00"/><stop offset="0.4948" stop-color="#ffc100"/><stop offset="0.5" stop-color="#ffdf00"/><stop offset="0.5105" stop-color="#ff8200"/><stop offset="0.5157" stop-color="#ff6f00"/><stop offset="0.9974" stop-color="#ff6c00"/></linearGradient>
<linearGradient id="b51" gradientUnits="userSpaceOnUse" x1="0" y1="293" x2="0" y2="484"><stop offset="0.002618" stop-color="#ffc500"/><stop offset="0.01309" stop-color="#ffc500"/><stop offset="0.01832" stop-color="#ff7800"/><stop offset="0.02356" stop-color="#ff6800"/><stop offset="0.06021" stop-color="#ff6800"/><stop offset="0.06545" stop-color="#ff7c00"/><stop offset="0.07068" stop-color="#ffc600"/><stop offset="0.07592" stop-color="#ffd300"/><stop offset="0.08115" stop-color="#ffce00"/><stop offset="0.09162" stop-color="#ff9d00"/><stop offset="0.3272" stop-color="#ff8700"/><stop offset="0.4791" stop-color="#ff7000"/><stop offset="0.4843" stop-color="#ff7500"/><stop offset="0.4895" stop-color="#ff8d00"/><stop offset="0.4948" stop-color="#ffc300"/><stop offset="0.5" stop-color="#ffe000"/><stop offset="0.5105" stop-color="#ff8500"/><stop offset="0.5157" stop-color="#ff7300"/><stop offset="0.9974" stop-color="#ff7000"/></linearGradient>
<linearGradient id="b52" gradientUnits="userSpaceOnUse" x1="0" y1="293" x2="0" y2="484"><stop offset="0.002618" stop-color="#ffc500"/><stop offset="0.01309" stop-color="#ffc500"/><stop offset="0.01832" stop-color="#ff8000"/><stop offset="0.02356" stop-color="#ff6800"/><stop offset="0.06021" stop-color="#ff6800"/><stop offset="0.06545" stop-color="#ff7e00"/><stop offset="0.07068" stop-color="#ffc900"/><stop offset="0.08115" stop-color="#ffd100"/><stop offset="0.1073" stop-color="#ffc400"/><stop offset="0.2801" stop-color="#ffb800"/><stop offset="0.4791" stop-color="#ff8900"/><stop offset="0.4843" stop-color="#ff8c00"/><stop offset="0.4895" stop-color="#ffa100"/><stop offset="0.4948" stop-color="#ffcf00"/><stop offset="0.5" stop-color="#ffe700"/><stop offset="0.5105" stop-color="#ff9a00"/><stop offset="0.5209" stop-color="#f80"/><stop offset="0.9974" stop-color="#f80"/></linearGradient>
<linearGradient id="b53" gradientUnits="userSpaceOnUse" x1="0" y1="293" x2="0" y2="484"><stop offset="0.002618" stop-color="#ffc500"/><stop offset="0.01309" stop-color="#ffc500"/><stop offset="0.01832" stop-color="#ff7900"/><stop offset="0.02356" stop-color="#ff6800"/><stop offset="0.06021" stop-color="#ff6800"/><stop offset="0.06545" stop-color="#ff7c00"/><stop offset="0.07068" stop-color="#ffc600"/><stop offset="0.07592" stop-color="#ffd300"/><stop offset="0.08115" stop-color="#ffcf00"/><stop offset="0.09162" stop-color="#ffa300"/><stop offset="0.4791" stop-color="#ffae00"/><stop offset="0.4895" stop-color="#ffbf00"/><stop offset="0.4948" stop-color="#ffe100"/><stop offset="0.5" stop-color="#fff300"/><stop offset="0.5105" stop-color="#fb0"/><stop offset="0.5262" stop-color="#ffae00"/><stop offset="0.9974" stop-color="#ffae00"/></linearGradient>
<linearGradient id="b54" gradientUnits="userSpaceOnUse" x1="0" y1="293" x2="0" y2="484"><stop offset="0.002618" stop-color="#ffc500"/><stop offset="0.01309" stop-color="#ffc500"/><stop offset="0.01832" stop-color="#ff7b00"/><stop offset="0.02356" stop-color="#ff6800"/><stop offset="0.06021" stop-color="#ff6800"/><stop offset="0.06545" stop-color="#ff7d00"/><stop offset="0.07068" stop-color="#ffc700"/><stop offset="0.07592" stop-color="#ffd300"/><stop offset="0.08115" stop-color="#ffd000"/><stop offset="0.09162" stop-color="#ffae00"/><stop offset="0.4843" stop-color="#ffa700"/><stop offset="0.4895" stop-color="#ffb700"/><stop offset="0.4948" stop-color="#ffdc00"/><stop offset="0.5" stop-color="#fff000"/><stop offset="0.5105" stop-color="#ffb200"/><stop offset="0.5209" stop-color="#ffa400"/><stop offset="0.9974" stop-color="#ffa400"/></linearGradient>
<linearGradient id="b55" gradientUnits="userSpaceOnUse" x1="0" y1="293" x2="0" y2="484"><stop offset="0.002618" stop-color="#ffc500"/><stop offset="0.01309" stop-color="#ffc500"/><stop offset="0.01832" stop-color="#ffed00"/><stop offset="0.03403" stop-color="#ffed00"/><stop offset="0.03927" stop-color="#ff6800"/><stop offset="0.06021" stop-color="#ff6800"/><stop offset="0.06545" stop-color="#ff8300"/><stop offset="0.07068" stop-color="#ffce00"/><stop offset="0.08115" stop-color="#ffd600"/><stop offset="0.09162" stop-color="#f9ff06"/><stop offset="0.301" stop-color="#fdff02"/><stop offset="0.4895" stop-color="#fff600"/><stop offset="0.5" stop-color="#f6ff09"/><stop offset="0.5209" stop-color="#fff000"/><stop offset="0.9974" stop-color="#fff000"/></linearGradient>
<linearGradient id="b56" gradientUnits="userSpaceOnUse" x1="0" y1="293" x2="0" y2="484"><stop offset="0.002618" stop-color="#ffc500"/><stop offset="0.01309" stop-color="#ffc500"/><stop offset="0.01832" stop-color="#ffed00"/><stop offset="0.03403" stop-color="#ffed00"/><stop offset="0.03927" stop-color="#ff6800"/><stop offset="0.06021" stop-color="#ff6800"/><stop offset="0.06545" stop-color="#ff8300"/><stop offset="0.07068" stop-color="#ffcf00"/><stop offset="0.08115" stop-color="#ffd700"/><stop offset="0.08639" stop-color="#fff300"/><stop offset="0.09686" stop-color="#e6ff19"/><stop offset="0.3377" stop-color="#f5ff0a"/><stop offset="0.4895" stop-color="#ff0"/><stop offset="0.5" stop-color="#f2ff0d"/><stop offset="0.5209" stop-color="#fffb00"/><stop offset="0.9974" stop-color="#fffb00"/></linearGradient>
<linearGradient id="b57" gradientUnits="userSpaceOnUse" x1="0" y1="293" x2="0" y2="484"><stop offset="0.002618" stop-color="#ffc500"/><stop offset="0.01309" stop-color="#ffc500"/><stop offset="0.01832" stop-color="#ffed00"/><stop offset="0.03403" stop-color="#ffed00"/><stop offset="0.03927" stop-color="#ff6800"/><stop offset="0.06021" stop-color="#ff6800"/><stop offset="0.06545" stop-color="#ff8200"/><stop offset="0.07068" stop-color="#ffce00"/><stop offset="0.08115" stop-color="#ffd600"/><stop offset="0.09162" stop-color="#fcff03"/><stop offset="0.4895" stop-color="#f6ff09"/><stop offset="0.5052" stop-color="#f2ff0d"/><stop offset="0.9974" stop-color="#f9ff06"/></linearGradient>
<linearGradient id="b58" gradientUnits="userSpaceOnUse" x1="0" y1="293" x2="0" y2="484"><stop offset="0.002618" stop-color="#ffc500"/><stop offset="0.01309" stop-color="#ffc500"/><stop offset="0.02356" stop-color="#ff6a00"/><stop offset="0.06021" stop-color="#ff6a00"/><stop offset="0.06545" stop-color="#ff8700"/><stop offset="0.07068" stop-color="#ffd200"/><stop offset="0.08115" stop-color="#ffda00"/><stop offset="0.08639" stop-color="#f7ff08"/><stop offset="0.09162" stop-color="#c4ff3b"/><stop offset="0.1126" stop-color="#bf4"/><stop offset="0.4843" stop-color="#b2ff4d"/><stop offset="0.5" stop-color="#d9ff26"/><stop offset="0.5157" stop-color="#b2ff4d"/><stop offset="0.9974" stop-color="#b1ff4e"/></linearGradient>
<linearGradient id="b59" gradientUnits="userSpaceOnUse" x1="0" y1="293" x2="0" y2="484"><stop offset="0.002618" stop-color="#ffc500"/><stop offset="0.01309" stop-color="#ffc500"/><stop offset="0.02356" stop-color="#f70"/><stop offset="0.06021" stop-color="#f70"/><stop offset="0.06545" stop-color="#ff9200"/><stop offset="0.07068" stop-color="#ffd300"/><stop offset="0.08115" stop-color="#ffda00"/><stop offset="0.08639" stop-color="#f9ff06"/><stop offset="0.09162" stop-color="#c6ff39"/><stop offset="0.1126" stop-color="#bdff42"/><stop offset="0.4895" stop-color="#d3ff2c"/><stop offset="0.5" stop-color="#e2ff1d"/><stop offset="0.5209" stop-color="#cfff30"/><stop offset="0.9974" stop-color="#cfff30"/></linearGradient>
<linearGradient id="b60" gradientUnits="userSpaceOnUse" x1="0" y1="293" x2="0" y2="484"><stop offset="0.002618" stop-color="#ffc500"/><stop offset="0.01309" stop-color="#ffc500"/><stop offset="0.02356" stop-color="#ff8900"/><stop offset="0.06021" stop-color="#ff8900"/><stop offset="0.06545" stop-color="#ff9f00"/><stop offset="0.07068" stop-color="#ffd400"/><stop offset="0.08115" stop-color="#ffda00"/><stop offset="0.08639" stop-color="#faff05"/><stop offset="0.09162" stop-color="#c8ff37"/><stop offset="0.1178" stop-color="#bfff40"/><stop offset="0.4895" stop-color="#d8ff27"/><stop offset="0.5" stop-color="#e3ff1c"/><stop offset="0.5262" stop-color="#d5ff2a"/><stop offset="0.9974" stop-color="#d4ff2b"/></linearGradient>
<linearGradient id="b61" gradientUnits="userSpaceOnUse" x1="0" y1="293" x2="0" y2="484"><stop offset="0.002618" stop-color="#ffc500"/><stop offset="0.01309" stop-color="#ffc500"/><stop offset="0.01832" stop-color="#ffb800"/><stop offset="0.02356" stop-color="#ff9700"/><stop offset="0.06021" stop-color="#ff9700"/><stop offset="0.06545" stop-color="#fa0"/><stop offset="0.07068" stop-color="#ffd600"/><stop offset="0.08115" stop-color="#ffda00"/><stop offset="0.08639" stop-color="#faff05"/><stop offset="0.09162" stop-color="#c8ff37"/><stop offset="0.1178" stop-color="#bfff40"/><stop offset="0.4895" stop-color="#d8ff27"/><stop offset="0.5" stop-color="#e3ff1c"/><stop offset="0.5262" stop-color="#d4ff2b"/><stop offset="0.9974" stop-color="#d4ff2b"/></linearGradient>
<linearGradient id="b62" gradientUnits="userSpaceOnUse" x1="0" y1="293" x2="0" y2="484"><stop offset="0.002618" stop-color="#ffc500"/><stop offset="0.01832" stop-color="#ffbc00"/><stop offset="0.02356" stop-color="#f90"/><stop offset="0.06021" stop-color="#f90"/><stop offset="0.06545" stop-color="#ffad00"/><stop offset="0.07068" stop-color="#ffd700"/><stop offset="0.08115" stop-color="#ffdc00"/><stop offset="0.08639" stop-color="#ecff13"/><stop offset="0.09162" stop-color="#aeff51"/><stop offset="0.1021" stop-color="#a3ff5c"/><stop offset="0.4843" stop-color="#b1ff4e"/><stop offset="0.5" stop-color="#d8ff27"/><stop offset="0.5157" stop-color="#b0ff4f"/><stop offset="0.9974" stop-color="#b0ff4f"/></linearGradient>
<linearGradient id="b63" gradientUnits="userSpaceOnUse" x1="0" y1="293" x2="0" y2="484"><stop offset="0.002618" stop-color="#ffc500"/><stop offset="0.01832" stop-color="#ffbd00"/><stop offset="0.02356" stop-color="#f90"/><stop offset="0.06021" stop-color="#ff9800"/><stop offset="0.06545" stop-color="#ffae00"/><stop offset="0.07068" stop-color="#ffd900"/><stop offset="0.07592" stop-color="#ffd200"/><stop offset="0.08115" stop-color="#fd0"/><stop offset="0.08639" stop-color="#e0ff1f"/><stop offset="0.09162" stop-color="#97ff68"/><stop offset="0.1021" stop-color="#89ff76"/><stop offset="0.4843" stop-color="#83ff7c"/><stop offset="0.4895" stop-color="#93ff6c"/><stop offset="0.4948" stop-color="#b7ff48"/><stop offset="0.5" stop-color="#caff35"/><stop offset="0.5105" stop-color="#8eff71"/><stop offset="0.5209" stop-color="#80ff7f"/><stop offset="0.9974" stop-color="#85ff7a"/></linearGradient>
<linearGradient id="b64" gradientUnits="userSpaceOnUse" x1="0" y1="293" x2="0" y2="484"><stop offset="0.002618" stop-color="#ffc500"/><stop offset="0.01832" stop-color="#ffbe00"/><stop offset="0.02356" stop-color="#ff9800"/><stop offset="0.06021" stop-color="#ff9800"/><stop offset="0.06545" stop-color="#ffaf00"/><stop offset="0.07068" stop-color="#ffda00"/><stop offset="0.07592" stop-color="#ffd100"/><stop offset="0.08115" stop-color="#ffde00"/><stop offset="0.08639" stop-color="#d2ff2d"/><stop offset="0.09162" stop-color="#7cff83"/><stop offset="0.09686" stop-color="#6cff93"/><stop offset="0.4791" stop-color="#38ffc7"/><stop offset="0.4843" stop-color="#3dffc2"/><stop offset="0.4895" stop-color="#58ffa7"/><stop offset="0.4948" stop-color="#95ff6a"/><stop offset="0.5" stop-color="#b5ff4a"/><stop offset="0.5105" stop-color="#4fffb0"/><stop offset="0.5157" stop-color="#3bffc4"/><stop offset="0.9241" stop-color="#3fffc0"/><stop offset="0.9974" stop-color="#4fb"/></linearGradient>
<linearGradient id="b65" gradientUnits="userSpaceOnUse" x1="0" y1="293" x2="0" y2="484"><stop offset="0.002618" stop-color="#ffc500"/><stop offset="0.01832" stop-color="#ffbf00"/><stop offset="0.02356" stop-color="#ff9800"/><stop offset="0.06021" stop-color="#ff9600"/><stop offset="0.06545" stop-color="#ffae00"/><stop offset="0.07068" stop-color="#ffda00"/><stop offset="0.07592" stop-color="#ffd000"/><stop offset="0.08115" stop-color="#ffde00"/><stop offset="0.08639" stop-color="#c6ff39"/><stop offset="0.09162" stop-color="#63ff9c"/><stop offset="0.09686" stop-color="#50ffaf"/><stop offset="0.2068" stop-color="#3fffc0"/><stop offset="0.4843" stop-color="#35ffca"/><stop offset="0.4895" stop-color="#52ffad"/><stop offset="0.4948" stop-color="#92ff6d"/><stop offset="0.5" stop-color="#b5ff4a"/><stop offset="0.5105" stop-color="#49ffb6"/><stop offset="0.5157" stop-color="#3fc"/><stop offset="0.9188" stop-color="#37ffc8"/><stop offset="0.9974" stop-color="#3dffc2"/></linearGradient>
<linearGradient id="b66" gradientUnits="userSpaceOnUse" x1="0" y1="293" x2="0" y2="484"><stop offset="0.002618" stop-color="#ffc500"/><stop offset="0.01832" stop-color="#ffbe00"/><stop offset="0.02356" stop-color="#f90"/><stop offset="0.06021" stop-color="#f90"/><stop offset="0.06545" stop-color="#ffb000"/><stop offset="0.07068" stop-color="#ffdc00"/><stop offset="0.07592" stop-color="#ffd400"/><stop offset="0.08115" stop-color="#ffe100"/><stop offset="0.08639" stop-color="#cdff32"/><stop offset="0.09162" stop-color="#76ff89"/><stop offset="0.09686" stop-color="#65ff9a"/><stop offset="0.2487" stop-color="#57ffa8"/><stop offset="0.4843" stop-color="#5fa"/><stop offset="0.4895" stop-color="#6cff93"/><stop offset="0.4948" stop-color="#9fff60"/><stop offset="0.5" stop-color="#bf4"/><stop offset="0.5105" stop-color="#64ff9b"/><stop offset="0.5157" stop-color="#53ffac"/><stop offset="0.9607" stop-color="#59ffa6"/><stop offset="0.9974" stop-color="#5affa5"/></linearGradient>
<linearGradient id="b67" gradientUnits="userSpaceOnUse" x1="0" y1="293" x2="0" y2="484"><stop offset="0.002618" stop-color="#ffc500"/><stop offset="0.01832" stop-color="#ffbc00"/><stop offset="0.02356" stop-color="#f90"/><stop offset="0.06021" stop-color="#f90"/><stop offset="0.06545" stop-color="#ffac00"/><stop offset="0.07068" stop-color="#ffd900"/><stop offset="0.08115" stop-color="#ffe500"/><stop offset="0.08639" stop-color="#ebff14"/><stop offset="0.09162" stop-color="#b8ff47"/><stop offset="0.1126" stop-color="#aeff51"/><stop offset="0.4843" stop-color="#b4ff4b"/><stop offset="0.5" stop-color="#d9ff26"/><stop offset="0.5157" stop-color="#b4ff4b"/><stop offset="0.9974" stop-color="#b3ff4c"/></linearGradient>
<linearGradient id="b68" gradientUnits="userSpaceOnUse" x1="0" y1="293" x2="0" y2="484"><stop offset="0.002618" stop-color="#ffc500"/><stop offset="0.01309" stop-color="#ffc500"/><stop offset="0.02356" stop-color="#f90"/><stop offset="0.06021" stop-color="#f90"/><stop offset="0.06545" stop-color="#ffa800"/><stop offset="0.07068" stop-color="#ffd400"/><stop offset="0.08115" stop-color="#ffe500"/><stop offset="0.08639" stop-color="#fffa00"/><stop offset="0.09162" stop-color="#ebff14"/><stop offset="0.9974" stop-color="#f0ff0f"/></linearGradient>
<linearGradient id="b69" gradientUnits="userSpaceOnUse" x1="0" y1="293" x2="0" y2="484"><stop offset="0.002618" stop-color="#ffc500"/><stop offset="0.01309" stop-color="#ffc500"/><stop offset="0.01832" stop-color="#ffba00"/><stop offset="0.02356" stop-color="#f90"/><stop offset="0.06021" stop-color="#f90"/><stop offset="0.06545" stop-color="#ffa900"/><stop offset="0.07068" stop-color="#fd0"/><stop offset="0.07592" stop-color="#fff700"/><stop offset="0.08115" stop-color="#feff01"/><stop offset="0.09162" stop-color="#c1ff3e"/><stop offset="0.4843" stop-color="#bfff40"/><stop offset="0.5" stop-color="#dcff23"/><stop offset="0.5157" stop-color="#beff41"/><stop offset="0.9974" stop-color="#beff41"/></linearGradient>
<linearGradient id="b70" gradientUnits="userSpaceOnUse" x1="0" y1="293" x2="0" y2="484"><stop offset="0.002618" stop-color="#ffc500"/><stop offset="0.01832" stop-color="#ffbd00"/><stop offset="0.02356" stop-color="#f90"/><stop offset="0.06021" stop-color="#f90"/><stop offset="0.06545" stop-color="#ffa900"/><stop offset="0.07068" stop-color="#ffea00"/><stop offset="0.07592" stop-color="#e1ff1e"/><stop offset="0.08639" stop-color="#b6ff49"/><stop offset="0.09162" stop-color="#9bff64"/><stop offset="0.3639" stop-color="#8dff72"/><stop offset="0.4843" stop-color="#8eff71"/><stop offset="0.4895" stop-color="#9cff63"/><stop offset="0.4948" stop-color="#bcff43"/><stop offset="0.5" stop-color="#cdff32"/><stop offset="0.5105" stop-color="#97ff68"/><stop offset="0.5262" stop-color="#8bff74"/><stop offset="0.9974" stop-color="#8fff70"/></linearGradient>
<linearGradient id="b71" gradientUnits="userSpaceOnUse" x1="0" y1="293" x2="0" y2="484"><stop offset="0.002618" stop-color="#ffc500"/><stop offset="0.01832" stop-color="#ffbc00"/><stop offset="0.02356" stop-color="#ff9800"/><stop offset="0.06021" stop-color="#ff9800"/><stop offset="0.06545" stop-color="#ffa800"/><stop offset="0.07068" stop-color="#fff000"/><stop offset="0.07592" stop-color="#c7ff38"/><stop offset="0.09162" stop-color="#96ff69"/><stop offset="0.4791" stop-color="#89ff76"/><stop offset="0.4895" stop-color="#9bff64"/><stop offset="0.4948" stop-color="#bcff43"/><stop offset="0.5" stop-color="#cdff32"/><stop offset="0.5105" stop-color="#96ff69"/><stop offset="0.5262" stop-color="#89ff76"/><stop offset="0.9974" stop-color="#8eff71"/></linearGradient>
<linearGradient id="b72" gradientUnits="userSpaceOnUse" x1="0" y1="293" x2="0" y2="484"><stop offset="0.002618" stop-color="#ffc500"/><stop offset="0.01832" stop-color="#ffbd00"/><stop offset="0.02356" stop-color="#f90"/><stop offset="0.06021" stop-color="#ff9800"/><stop offset="0.06545" stop-color="#ffa800"/><stop offset="0.07068" stop-color="#fffc00"/><stop offset="0.07592" stop-color="#a3ff5c"/><stop offset="0.08639" stop-color="#89ff76"/><stop offset="0.144" stop-color="#7f8"/><stop offset="0.4843" stop-color="#7bff84"/><stop offset="0.4895" stop-color="#8cff73"/><stop offset="0.4948" stop-color="#b3ff4c"/><stop offset="0.5" stop-color="#c7ff38"/><stop offset="0.5105" stop-color="#87ff78"/><stop offset="0.5209" stop-color="#78ff87"/><stop offset="0.9974" stop-color="#7eff81"/></linearGradient>
<linearGradient id="b73" gradientUnits="userSpaceOnUse" x1="0" y1="293" x2="0" y2="484"><stop offset="0.002618" stop-color="#ffc500"/><stop offset="0.01832" stop-color="#ffbe00"/><stop offset="0.02356" stop-color="#f90"/><stop offset="0.06021" stop-color="#f90"/><stop offset="0.06545" stop-color="#ffa900"/><stop offset="0.07068" stop-color="#fdff02"/><stop offset="0.07592" stop-color="#93ff6c"/><stop offset="0.08115" stop-color="#80ff7f"/><stop offset="0.2435" stop-color="#70ff8f"/><stop offset="0.4843" stop-color="#6bff94"/><stop offset="0.4895" stop-color="#7eff81"/><stop offset="0.4948" stop-color="#af5"/><stop offset="0.5" stop-color="#c1ff3e"/><stop offset="0.5105" stop-color="#78ff87"/><stop offset="0.5209" stop-color="#67ff98"/><stop offset="0.9974" stop-color="#6eff91"/></linearGradient>
<linearGradient id="b74" gradientUnits="userSpaceOnUse" x1="0" y1="293" x2="0" y2="484"><stop offset="0.002618" stop-color="#ffc500"/><stop offset="0.01832" stop-color="#ffbd00"/><stop offset="0.02356" stop-color="#ff9800"/><stop offset="0.06021" stop-color="#ff9800"/><stop offset="0.06545" stop-color="#ffa800"/><stop offset="0.07068" stop-color="#fbff04"/><stop offset="0.07592" stop-color="#8eff71"/><stop offset="0.08115" stop-color="#7bff84"/><stop offset="0.4843" stop-color="#5affa5"/><stop offset="0.4895" stop-color="#70ff8f"/><stop offset="0.4948" stop-color="#a2ff5d"/><stop offset="0.5" stop-color="#beff41"/><stop offset="0.5105" stop-color="#69ff96"/><stop offset="0.5157" stop-color="#58ffa7"/><stop offset="0.966" stop-color="#5effa1"/><stop offset="0.9974" stop-color="#5fffa0"/></linearGradient>
<linearGradient id="b75" gradientUnits="userSpaceOnUse" x1="0" y1="293" x2="0" y2="484"><stop offset="0.002618" stop-color="#ffc600"/><stop offset="0.01832" stop-color="#ffc000"/><stop offset="0.02356" stop-color="#ff9a00"/><stop offset="0.06021" stop-color="#ff9b00"/><stop offset="0.06545" stop-color="#ffac00"/><stop offset="0.07068" stop-color="#e8ff17"/><stop offset="0.07592" stop-color="#6cff93"/><stop offset="0.08115" stop-color="#5fa"/><stop offset="0.1963" stop-color="#3fffc0"/><stop offset="0.4791" stop-color="#23ffdc"/><stop offset="0.4843" stop-color="#28ffd7"/><stop offset="0.4895" stop-color="#45ffba"/><stop offset="0.4948" stop-color="#87ff78"/><stop offset="0.5" stop-color="#af5"/><stop offset="0.5105" stop-color="#3cffc3"/><stop offset="0.5157" stop-color="#26ffd9"/><stop offset="0.9188" stop-color="#2bffd4"/><stop offset="0.9974" stop-color="#31ffce"/></linearGradient>
<linearGradient id="b76" gradientUnits="userSpaceOnUse" x1="0" y1="293" x2="0" y2="484"><stop offset="0.002618" stop-color="#ffc600"/><stop offset="0.01832" stop-color="#ffc000"/><stop offset="0.02356" stop-color="#ff9a00"/><stop offset="0.06021" stop-color="#ff9c00"/><stop offset="0.06545" stop-color="#ffae00"/><stop offset="0.07068" stop-color="#e3ff1c"/><stop offset="0.07592" stop-color="#6f9"/><stop offset="0.08115" stop-color="#4fffb0"/><stop offset="0.1911" stop-color="#37ffc8"/><stop offset="0.4791" stop-color="#1affe5"/><stop offset="0.4843" stop-color="#1fffe0"/><stop offset="0.4895" stop-color="#3dffc2"/><stop offset="0.4948" stop-color="#80ff7f"/><stop offset="0.5" stop-color="#a5ff5a"/><stop offset="0.5105" stop-color="#3fc"/><stop offset="0.5157" stop-color="#1dffe2"/><stop offset="0.9136" stop-color="#21ffde"/><stop offset="0.9974" stop-color="#28ffd7"/></linearGradient>
<linearGradient id="b77" gradientUnits="userSpaceOnUse" x1="0" y1="293" x2="0" y2="484"><stop offset="0.002618" stop-color="#ffcb00"/><stop offset="0.01309" stop-color="#ffcb00"/><stop offset="0.01832" stop-color="#ffbf00"/><stop offset="0.02356" stop-color="#ff9800"/><stop offset="0.06021" stop-color="#ff9700"/><stop offset="0.06545" stop-color="#ffa900"/><stop offset="0.07068" stop-color="#eaff15"/><stop offset="0.07592" stop-color="#6cff93"/><stop offset="0.08115" stop-color="#54ffab"/><stop offset="0.1963" stop-color="#3effc1"/><stop offset="0.4791" stop-color="#20ffdf"/><stop offset="0.4843" stop-color="#25ffda"/><stop offset="0.4895" stop-color="#4fb"/><stop offset="0.4948" stop-color="#89ff76"/><stop offset="0.5" stop-color="#aeff51"/><stop offset="0.5105" stop-color="#3affc5"/><stop offset="0.5157" stop-color="#23ffdc"/><stop offset="0.9084" stop-color="#27ffd8"/><stop offset="0.9974" stop-color="#2fffd0"/></linearGradient>
<linearGradient id="b78" gradientUnits="userSpaceOnUse" x1="0" y1="293" x2="0" y2="484"><stop offset="0.002618" stop-color="#fff100"/><stop offset="0.01832" stop-color="#fe0"/><stop offset="0.02356" stop-color="#ffdf00"/><stop offset="0.06545" stop-color="#fdff02"/><stop offset="0.07592" stop-color="#53ffac"/><stop offset="0.08115" stop-color="#42ffbd"/><stop offset="0.1859" stop-color="#28ffd7"/><stop offset="0.3743" stop-color="#05fffa"/><stop offset="0.4843" stop-color="#00fbff"/><stop offset="0.4895" stop-color="#1effe1"/><stop offset="0.4948" stop-color="#6eff91"/><stop offset="0.5" stop-color="#9f6"/><stop offset="0.5105" stop-color="#13ffec"/><stop offset="0.5157" stop-color="#00f9ff"/><stop offset="0.9188" stop-color="#00feff"/><stop offset="0.9974" stop-color="#07fff8"/></linearGradient>
<linearGradient id="b79" gradientUnits="userSpaceOnUse" x1="0" y1="293" x2="0" y2="484"><stop offset="0.002618" stop-color="#d4ff2b"/><stop offset="0.01309" stop-color="#d3ff2c"/><stop offset="0.02356" stop-color="#a6ff59"/><stop offset="0.04974" stop-color="#6fff90"/><stop offset="0.06545" stop-color="#68ff97"/><stop offset="0.07592" stop-color="#4affb5"/><stop offset="0.1806" stop-color="#2cffd3"/><stop offset="0.3534" stop-color="#0efff1"/><stop offset="0.4686" stop-color="#00f9ff"/><stop offset="0.4843" stop-color="#00feff"/><stop offset="0.4895" stop-color="#2fd"/><stop offset="0.4948" stop-color="#74ff8b"/><stop offset="0.5" stop-color="#9fff60"/><stop offset="0.5105" stop-color="#17ffe8"/><stop offset="0.5157" stop-color="#00fcff"/><stop offset="0.9555" stop-color="#08fff7"/><stop offset="0.9974" stop-color="#0bfff4"/></linearGradient>
<linearGradient id="b80" gradientUnits="userSpaceOnUse" x1="0" y1="293" x2="0" y2="484"><stop offset="0.002618" stop-color="#a8ff57"/><stop offset="0.01309" stop-color="#a7ff58"/><stop offset="0.04974" stop-color="#52ffad"/><stop offset="0.1806" stop-color="#2fffd0"/><stop offset="0.3586" stop-color="#10ffef"/><stop offset="0.4791" stop-color="#00fcff"/><stop offset="0.4843" stop-color="#02fffd"/><stop offset="0.4895" stop-color="#26ffd9"/><stop offset="0.4948" stop-color="#7f8"/><stop offset="0.5" stop-color="#a2ff5d"/><stop offset="0.5105" stop-color="#1bffe4"/><stop offset="0.5157" stop-color="#0ff"/><stop offset="0.9293" stop-color="#08fff7"/><stop offset="0.9974" stop-color="#0efff1"/></linearGradient>
<linearGradient id="b81" gradientUnits="userSpaceOnUse" x1="0" y1="293" x2="0" y2="484"><stop offset="0.002618" stop-color="#a0ff5f"/><stop offset="0.01832" stop-color="#9f6"/><stop offset="0.04974" stop-color="#4fffb0"/><stop offset="0.1806" stop-color="#2bffd4"/><stop offset="0.3534" stop-color="#0dfff2"/><stop offset="0.4686" stop-color="#00f8ff"/><stop offset="0.4843" stop-color="#00fdff"/><stop offset="0.4895" stop-color="#20ffdf"/><stop offset="0.4948" stop-color="#71ff8e"/><stop offset="0.5" stop-color="#9cff63"/><stop offset="0.5105" stop-color="#15ffea"/><stop offset="0.5157" stop-color="#00fbff"/><stop offset="0.9764" stop-color="#08fff7"/><stop offset="0.9974" stop-color="#09fff6"/></linearGradient>
<linearGradient id="b82" gradientUnits="userSpaceOnUse" x1="0" y1="293" x2="0" y2="484"><stop offset="0.002618" stop-color="#a6ff59"/><stop offset="0.02356" stop-color="#9f6"/><stop offset="0.04974" stop-color="#6eff91"/><stop offset="0.2016" stop-color="#54ffab"/><stop offset="0.4791" stop-color="#35ffca"/><stop offset="0.4843" stop-color="#39ffc6"/><stop offset="0.4895" stop-color="#53ffac"/><stop offset="0.4948" stop-color="#8cff73"/><stop offset="0.5" stop-color="#abff54"/><stop offset="0.5105" stop-color="#4bffb4"/><stop offset="0.5157" stop-color="#37ffc8"/><stop offset="0.9293" stop-color="#3cffc3"/><stop offset="0.9974" stop-color="#41ffbe"/></linearGradient>
<linearGradient id="b83" gradientUnits="userSpaceOnUse" x1="0" y1="293" x2="0" y2="484"><stop offset="0.002618" stop-color="#adff52"/><stop offset="0.03927" stop-color="#98ff67"/><stop offset="0.2225" stop-color="#84ff7b"/><stop offset="0.4843" stop-color="#7fff80"/><stop offset="0.4895" stop-color="#8eff71"/><stop offset="0.4948" stop-color="#b1ff4e"/><stop offset="0.5" stop-color="#c4ff3b"/><stop offset="0.5105" stop-color="#89ff76"/><stop offset="0.5209" stop-color="#7cff83"/><stop offset="0.9974" stop-color="#82ff7d"/></linearGradient>
<linearGradient id="b84" gradientUnits="userSpaceOnUse" x1="0" y1="293" x2="0" y2="484"><stop offset="0.002618" stop-color="#a9ff56"/><stop offset="0.0288" stop-color="#97ff68"/><stop offset="0.05497" stop-color="#7aff85"/><stop offset="0.2277" stop-color="#67ff98"/><stop offset="0.4843" stop-color="#5cffa3"/><stop offset="0.4895" stop-color="#70ff8f"/><stop offset="0.4948" stop-color="#9dff62"/><stop offset="0.5" stop-color="#b6ff49"/><stop offset="0.5105" stop-color="#6aff95"/><stop offset="0.5209" stop-color="#58ffa7"/><stop offset="0.9974" stop-color="#61ff9e"/></linearGradient>
<linearGradient id="b85" gradientUnits="userSpaceOnUse" x1="0" y1="293" x2="0" y2="484"><stop offset="0.002618" stop-color="#a5ff5a"/><stop offset="0.02356" stop-color="#97ff68"/><stop offset="0.04974" stop-color="#6f9"/><stop offset="0.1963" stop-color="#4bffb4"/><stop offset="0.4843" stop-color="#39ffc6"/><stop offset="0.4895" stop-color="#52ffad"/><stop offset="0.4948" stop-color="#8bff74"/><stop offset="0.5" stop-color="#af5"/><stop offset="0.5105" stop-color="#4affb5"/><stop offset="0.5157" stop-color="#37ffc8"/><stop offset="0.9293" stop-color="#3cffc3"/><stop offset="0.9974" stop-color="#40ffbf"/></linearGradient>
<linearGradient id="b86" gradientUnits="userSpaceOnUse" x1="0" y1="293" x2="0" y2="484"><stop offset="0.002618" stop-color="#a1ff5e"/><stop offset="0.01832" stop-color="#9aff65"/><stop offset="0.04974" stop-color="#52ffad"/><stop offset="0.1806" stop-color="#2fffd0"/><stop offset="0.4791" stop-color="#0cfff3"/><stop offset="0.4843" stop-color="#12ffed"/><stop offset="0.4895" stop-color="#32ffcd"/><stop offset="0.4948" stop-color="#7aff85"/><stop offset="0.5" stop-color="#a1ff5e"/><stop offset="0.5105" stop-color="#28ffd7"/><stop offset="0.5157" stop-color="#10ffef"/><stop offset="0.9031" stop-color="#13ffec"/><stop offset="0.9974" stop-color="#1dffe2"/></linearGradient>
<linearGradient id="b87" gradientUnits="userSpaceOnUse" x1="0" y1="293" x2="0" y2="484"><stop offset="0.002618" stop-color="#a0ff5f"/><stop offset="0.01832" stop-color="#98ff67"/><stop offset="0.04974" stop-color="#4effb1"/><stop offset="0.1806" stop-color="#29ffd6"/><stop offset="0.4791" stop-color="#00feff"/><stop offset="0.4843" stop-color="#05fffa"/><stop offset="0.4895" stop-color="#27ffd8"/><stop offset="0.4948" stop-color="#73ff8c"/><stop offset="0.5" stop-color="#9cff63"/><stop offset="0.5105" stop-color="#1cffe3"/><stop offset="0.5157" stop-color="#03fffc"/><stop offset="0.9084" stop-color="#07fff8"/><stop offset="0.9974" stop-color="#1fe"/></linearGradient>
<linearGradient id="b88" gradientUnits="userSpaceOnUse" x1="0" y1="293" x2="0" y2="484"><stop offset="0.002618" stop-color="#9bff64"/><stop offset="0.01832" stop-color="#92ff6d"/><stop offset="0.04974" stop-color="#35ffca"/><stop offset="0.1754" stop-color="#08fff7"/><stop offset="0.2906" stop-color="#00f4ff"/><stop offset="0.4738" stop-color="#00c4ff"/><stop offset="0.4843" stop-color="#00caff"/><stop offset="0.4895" stop-color="#00ebff"/><stop offset="0.4948" stop-color="#49ffb6"/><stop offset="0.5" stop-color="#7fff80"/><stop offset="0.5052" stop-color="#3fc"/><stop offset="0.5105" stop-color="#00e1ff"/><stop offset="0.5157" stop-color="#00c8ff"/><stop offset="0.9084" stop-color="#00cbff"/><stop offset="0.9974" stop-color="#00d3ff"/></linearGradient>
<linearGradient id="b89" gradientUnits="userSpaceOnUse" x1="0" y1="293" x2="0" y2="484"><stop offset="0.002618" stop-color="#9aff65"/><stop offset="0.01832" stop-color="#90ff6f"/><stop offset="0.04974" stop-color="#31ffce"/><stop offset="0.1754" stop-color="#03fffc"/><stop offset="0.2906" stop-color="#00efff"/><stop offset="0.4738" stop-color="#0bf"/><stop offset="0.4843" stop-color="#00c1ff"/><stop offset="0.4895" stop-color="#00e3ff"/><stop offset="0.4948" stop-color="#41ffbe"/><stop offset="0.5" stop-color="#7aff85"/><stop offset="0.5052" stop-color="#2bffd4"/><stop offset="0.5105" stop-color="#00d9ff"/><stop offset="0.5157" stop-color="#00bfff"/><stop offset="0.9084" stop-color="#00c2ff"/><stop offset="0.9974" stop-color="#00caff"/></linearGradient>
<linearGradient id="b90" gradientUnits="userSpaceOnUse" x1="0" y1="293" x2="0" y2="484"><stop offset="0.002618" stop-color="#9f6"/><stop offset="0.01832" stop-color="#90ff6f"/><stop offset="0.04974" stop-color="#2fffd0"/><stop offset="0.1702" stop-color="#0ff"/><stop offset="0.2853" stop-color="#00ebff"/><stop offset="0.4686" stop-color="#00acff"/><stop offset="0.4843" stop-color="#00b2ff"/><stop offset="0.4895" stop-color="#00d6ff"/><stop offset="0.4948" stop-color="#35ffca"/><stop offset="0.5" stop-color="#71ff8e"/><stop offset="0.5052" stop-color="#1effe1"/><stop offset="0.5105" stop-color="#00cbff"/><stop offset="0.5157" stop-color="#00b0ff"/><stop offset="0.9084" stop-color="#00b3ff"/><stop offset="0.9974" stop-color="#0bf"/></linearGradient>
<linearGradient id="b91" gradientUnits="userSpaceOnUse" x1="0" y1="293" x2="0" y2="484"><stop offset="0.002618" stop-color="#96ff69"/><stop offset="0.01832" stop-color="#8bff74"/><stop offset="0.0445" stop-color="#29ffd6"/><stop offset="0.07068" stop-color="#14ffeb"/><stop offset="0.1283" stop-color="#00f7ff"/><stop offset="0.3168" stop-color="#00d5ff"/><stop offset="0.4791" stop-color="#00aeff"/><stop offset="0.4843" stop-color="#00b4ff"/><stop offset="0.4895" stop-color="#00d8ff"/><stop offset="0.4948" stop-color="#38ffc7"/><stop offset="0.5" stop-color="#74ff8b"/><stop offset="0.5052" stop-color="#20ffdf"/><stop offset="0.5105" stop-color="#0cf"/><stop offset="0.5157" stop-color="#00b1ff"/><stop offset="0.9084" stop-color="#00b4ff"/><stop offset="0.9974" stop-color="#00bcff"/></linearGradient>
<linearGradient id="b92" gradientUnits="userSpaceOnUse" x1="0" y1="293" x2="0" y2="484"><stop offset="0.002618" stop-color="#95ff6a"/><stop offset="0.01832" stop-color="#8aff75"/><stop offset="0.0445" stop-color="#26ffd9"/><stop offset="0.07068" stop-color="#10ffef"/><stop offset="0.123" stop-color="#00f5ff"/><stop offset="0.4791" stop-color="#00ceff"/><stop offset="0.4843" stop-color="#00d3ff"/><stop offset="0.4895" stop-color="#00f1ff"/><stop offset="0.4948" stop-color="#4affb5"/><stop offset="0.5" stop-color="#7dff82"/><stop offset="0.5052" stop-color="#36ffc9"/><stop offset="0.5105" stop-color="#00e8ff"/><stop offset="0.5157" stop-color="#00d1ff"/><stop offset="0.9084" stop-color="#00d5ff"/><stop offset="0.9974" stop-color="#0df"/></linearGradient>
<linearGradient id="b93" gradientUnits="userSpaceOnUse" x1="0" y1="293" x2="0" y2="484"><stop offset="0.002618" stop-color="#95ff6a"/><stop offset="0.01832" stop-color="#8aff75"/><stop offset="0.0445" stop-color="#25ffda"/><stop offset="0.06545" stop-color="#12ffed"/><stop offset="0.1178" stop-color="#00f7ff"/><stop offset="0.4791" stop-color="#00c3ff"/><stop offset="0.4843" stop-color="#00c8ff"/><stop offset="0.4895" stop-color="#00e8ff"/><stop offset="0.4948" stop-color="#42ffbd"/><stop offset="0.5" stop-color="#7f8"/><stop offset="0.5052" stop-color="#2dffd2"/><stop offset="0.5105" stop-color="#00deff"/><stop offset="0.5157" stop-color="#00c6ff"/><stop offset="0.9084" stop-color="#00caff"/><stop offset="0.9974" stop-color="#00d2ff"/></linearGradient>
<linearGradient id="b94" gradientUnits="userSpaceOnUse" x1="0" y1="293" x2="0" y2="484"><stop offset="0.002618" stop-color="#8bff74"/><stop offset="0.01832" stop-color="#80ff7f"/><stop offset="0.0445" stop-color="#1bffe4"/><stop offset="0.06545" stop-color="#08fff7"/><stop offset="0.1911" stop-color="#00e2ff"/><stop offset="0.4791" stop-color="#00c3ff"/><stop offset="0.4843" stop-color="#00c8ff"/><stop offset="0.4895" stop-color="#00e8ff"/><stop offset="0.4948" stop-color="#42ffbd"/><stop offset="0.5" stop-color="#7f8"/><stop offset="0.5052" stop-color="#2dffd2"/><stop offset="0.5105" stop-color="#00deff"/><stop offset="0.5157" stop-color="#00c6ff"/><stop offset="0.9084" stop-color="#00c9ff"/><stop offset="0.9974" stop-color="#00d2ff"/></linearGradient>
<linearGradient id="b95" gradientUnits="userSpaceOnUse" x1="0" y1="293" x2="0" y2="484"><stop offset="0.002618" stop-color="#8cff73"/><stop offset="0.01832" stop-color="#81ff7e"/><stop offset="0.0445" stop-color="#20ffdf"/><stop offset="0.07068" stop-color="#0bfff4"/><stop offset="0.123" stop-color="#00f2ff"/><stop offset="0.3691" stop-color="#00c6ff"/><stop offset="0.4791" stop-color="#00b4ff"/><stop offset="0.4843" stop-color="#00baff"/><stop offset="0.4895" stop-color="#0df"/><stop offset="0.4948" stop-color="#3bffc4"/><stop offset="0.5" stop-color="#75ff8a"/><stop offset="0.5052" stop-color="#24ffdb"/><stop offset="0.5105" stop-color="#00d2ff"/><stop offset="0.5157" stop-color="#00b8ff"/><stop offset="0.9084" stop-color="#0bf"/><stop offset="0.9974" stop-color="#00c3ff"/></linearGradient>
<linearGradient id="b96" gradientUnits="userSpaceOnUse" x1="0" y1="293" x2="0" y2="484"><stop offset="0.002618" stop-color="#8dff72"/><stop offset="0.01832" stop-color="#82ff7d"/><stop offset="0.0445" stop-color="#1cffe3"/><stop offset="0.06545" stop-color="#09fff6"/><stop offset="0.1492" stop-color="#00e6ff"/><stop offset="0.3325" stop-color="#00cbff"/><stop offset="0.4791" stop-color="#00b0ff"/><stop offset="0.4843" stop-color="#00b6ff"/><stop offset="0.4895" stop-color="#00d8ff"/><stop offset="0.4948" stop-color="#3fc"/><stop offset="0.5" stop-color="#6cff93"/><stop offset="0.5052" stop-color="#1dffe2"/><stop offset="0.5105" stop-color="#00ceff"/><stop offset="0.5157" stop-color="#00b4ff"/><stop offset="0.9084" stop-color="#00b7ff"/><stop offset="0.9974" stop-color="#00bfff"/></linearGradient>
<linearGradient id="b97" gradientUnits="userSpaceOnUse" x1="0" y1="293" x2="0" y2="484"><stop offset="0.002618" stop-color="#96ff69"/><stop offset="0.01832" stop-color="#8cff73"/><stop offset="0.0445" stop-color="#2affd5"/><stop offset="0.07068" stop-color="#16ffe9"/><stop offset="0.1283" stop-color="#00f8ff"/><stop offset="0.4791" stop-color="#00d3ff"/><stop offset="0.4843" stop-color="#00d8ff"/><stop offset="0.4895" stop-color="#00f4ff"/><stop offset="0.4948" stop-color="#47ffb8"/><stop offset="0.5" stop-color="#75ff8a"/><stop offset="0.5052" stop-color="#34ffcb"/><stop offset="0.5105" stop-color="#00ebff"/><stop offset="0.5157" stop-color="#00d6ff"/><stop offset="0.9084" stop-color="#00daff"/><stop offset="0.9974" stop-color="#00e2ff"/></linearGradient>
<linearGradient id="b98" gradientUnits="userSpaceOnUse" x1="0" y1="293" x2="0" y2="484"><stop offset="0.002618" stop-color="#98ff67"/><stop offset="0.01832" stop-color="#8dff72"/><stop offset="0.0445" stop-color="#30ffcf"/><stop offset="0.08639" stop-color="#15ffea"/><stop offset="0.144" stop-color="#00faff"/><stop offset="0.4843" stop-color="#00e0ff"/><stop offset="0.4895" stop-color="#00fbff"/><stop offset="0.4948" stop-color="#4effb1"/><stop offset="0.5" stop-color="#7aff85"/><stop offset="0.5105" stop-color="#00f3ff"/><stop offset="0.5157" stop-color="#00deff"/><stop offset="0.9136" stop-color="#00e3ff"/><stop offset="0.9974" stop-color="#00ebff"/></linearGradient>
<linearGradient id="b99" gradientUnits="userSpaceOnUse" x1="0" y1="293" x2="0" y2="484"><stop offset="0.002618" stop-color="#9cff63"/><stop offset="0.01832" stop-color="#93ff6c"/><stop offset="0.04974" stop-color="#3affc5"/><stop offset="0.1754" stop-color="#0efff1"/><stop offset="0.4843" stop-color="#00f8ff"/><stop offset="0.4895" stop-color="#16ffe9"/><stop offset="0.4948" stop-color="#5dffa2"/><stop offset="0.5" stop-color="#84ff7b"/><stop offset="0.5105" stop-color="#0cfff3"/><stop offset="0.5209" stop-color="#00f4ff"/><stop offset="0.9293" stop-color="#00fdff"/><stop offset="0.9974" stop-color="#04fffb"/></linearGradient>
<linearGradient id="b100" gradientUnits="userSpaceOnUse" x1="0" y1="293" x2="0" y2="484"><stop offset="0.002618" stop-color="#9cff63"/><stop offset="0.01832" stop-color="#93ff6c"/><stop offset="0.04974" stop-color="#3bffc4"/><stop offset="0.1754" stop-color="#10ffef"/><stop offset="0.4843" stop-color="#1fffe0"/><stop offset="0.4895" stop-color="#38ffc7"/><stop offset="0.4948" stop-color="#71ff8e"/><stop offset="0.5" stop-color="#8fff70"/><stop offset="0.5105" stop-color="#30ffcf"/><stop offset="0.5157" stop-color="#1dffe2"/><stop offset="0.9136" stop-color="#2fd"/><stop offset="0.9974" stop-color="#2affd5"/></linearGradient>
<linearGradient id="b101" gradientUnits="userSpaceOnUse" x1="0" y1="293" x2="0" y2="484"><stop offset="0.002618" stop-color="#9dff62"/><stop offset="0.01832" stop-color="#95ff6a"/><stop offset="0.04974" stop-color="#42ffbd"/><stop offset="0.1754" stop-color="#19ffe6"/><stop offset="0.4843" stop-color="#27ffd8"/><stop offset="0.4895" stop-color="#3fffc0"/><stop offset="0.4948" stop-color="#75ff8a"/><stop offset="0.5" stop-color="#93ff6c"/><stop offset="0.5105" stop-color="#38ffc7"/><stop offset="0.5157" stop-color="#25ffda"/><stop offset="0.9136" stop-color="#2affd5"/><stop offset="0.9974" stop-color="#31ffce"/></linearGradient>
<linearGradient id="b102" gradientUnits="userSpaceOnUse" x1="0" y1="293" x2="0" y2="484"><stop offset="0.002618" stop-color="#a3ff5c"/><stop offset="0.01832" stop-color="#9dff62"/><stop offset="0.04974" stop-color="#5effa1"/><stop offset="0.1859" stop-color="#3fffc0"/><stop offset="0.4843" stop-color="#28ffd7"/><stop offset="0.4895" stop-color="#40ffbf"/><stop offset="0.4948" stop-color="#74ff8b"/><stop offset="0.5" stop-color="#90ff6f"/><stop offset="0.5105" stop-color="#38ffc7"/><stop offset="0.5157" stop-color="#27ffd8"/><stop offset="0.9188" stop-color="#2cffd3"/><stop offset="0.9974" stop-color="#32ffcd"/></linearGradient>
<linearGradient id="b103" gradientUnits="userSpaceOnUse" x1="0" y1="293" x2="0" y2="484"><stop offset="0.002618" stop-color="#a4ff5b"/><stop offset="0.02356" stop-color="#95ff6a"/><stop offset="0.04974" stop-color="#62ff9d"/><stop offset="0.1911" stop-color="#4fb"/><stop offset="0.4843" stop-color="#4fb"/><stop offset="0.4895" stop-color="#56ffa9"/><stop offset="0.4948" stop-color="#81ff7e"/><stop offset="0.5" stop-color="#98ff67"/><stop offset="0.5105" stop-color="#51ffae"/><stop offset="0.5209" stop-color="#40ffbf"/><stop offset="0.9555" stop-color="#4affb5"/><stop offset="0.9974" stop-color="#4cffb3"/></linearGradient>
<linearGradient id="b104" gradientUnits="userSpaceOnUse" x1="0" y1="293" x2="0" y2="484"><stop offset="0.002618" stop-color="#a5ff5a"/><stop offset="0.02356" stop-color="#97ff68"/><stop offset="0.04974" stop-color="#67ff98"/><stop offset="0.1963" stop-color="#4bffb4"/><stop offset="0.4843" stop-color="#4effb1"/><stop offset="0.4895" stop-color="#60ff9f"/><stop offset="0.4948" stop-color="#87ff78"/><stop offset="0.5" stop-color="#9cff63"/><stop offset="0.5105" stop-color="#5affa5"/><stop offset="0.5209" stop-color="#4bffb4"/><stop offset="0.9764" stop-color="#5fa"/><stop offset="0.9974" stop-color="#56ffa9"/></linearGradient>
<linearGradient id="b105" gradientUnits="userSpaceOnUse" x1="0" y1="293" x2="0" y2="484"><stop offset="0.002618" stop-color="#adff52"/><stop offset="0.03927" stop-color="#97ff68"/><stop offset="0.2173" stop-color="#83ff7c"/><stop offset="0.4843" stop-color="#85ff7a"/><stop offset="0.5" stop-color="#abff54"/><stop offset="0.5157" stop-color="#84ff7b"/><stop offset="0.9974" stop-color="#8f7"/></linearGradient>
<linearGradient id="b106" gradientUnits="userSpaceOnUse" x1="0" y1="293" x2="0" y2="484"><stop offset="0.002618" stop-color="#aeff51"/><stop offset="0.07068" stop-color="#94ff6b"/><stop offset="0.4791" stop-color="#8bff74"/><stop offset="0.4895" stop-color="#94ff6b"/><stop offset="0.5" stop-color="#acff53"/><stop offset="0.5157" stop-color="#8cff73"/><stop offset="0.9974" stop-color="#8fff70"/></linearGradient>
<linearGradient id="b107" gradientUnits="userSpaceOnUse" x1="0" y1="293" x2="0" y2="484"><stop offset="0.002618" stop-color="#adff52"/><stop offset="0.03927" stop-color="#97ff68"/><stop offset="0.2225" stop-color="#82ff7d"/><stop offset="0.4843" stop-color="#69ff96"/><stop offset="0.4895" stop-color="#75ff8a"/><stop offset="0.5" stop-color="#9fff60"/><stop offset="0.5105" stop-color="#71ff8e"/><stop offset="0.5314" stop-color="#6f9"/><stop offset="0.9974" stop-color="#6eff91"/></linearGradient>
<linearGradient id="b108" gradientUnits="userSpaceOnUse" x1="0" y1="293" x2="0" y2="484"><stop offset="0.002618" stop-color="#a7ff58"/><stop offset="0.02356" stop-color="#9aff65"/><stop offset="0.04974" stop-color="#6fff90"/><stop offset="0.2016" stop-color="#57ffa8"/><stop offset="0.4843" stop-color="#49ffb6"/><stop offset="0.4895" stop-color="#5affa5"/><stop offset="0.4948" stop-color="#81ff7e"/><stop offset="0.5" stop-color="#95ff6a"/><stop offset="0.5105" stop-color="#5fa"/><stop offset="0.5209" stop-color="#46ffb9"/><stop offset="0.966" stop-color="#50ffaf"/><stop offset="0.9974" stop-color="#51ffae"/></linearGradient>
<linearGradient id="b109" gradientUnits="userSpaceOnUse" x1="0" y1="293" x2="0" y2="484"><stop offset="0.002618" stop-color="#a5ff5a"/><stop offset="0.02356" stop-color="#98ff67"/><stop offset="0.04974" stop-color="#69ff96"/><stop offset="0.1963" stop-color="#4effb1"/><stop offset="0.4843" stop-color="#43ffbc"/><stop offset="0.4895" stop-color="#54ffab"/><stop offset="0.4948" stop-color="#7cff83"/><stop offset="0.5" stop-color="#92ff6d"/><stop offset="0.5105" stop-color="#4fffb0"/><stop offset="0.5209" stop-color="#3fffc0"/><stop offset="0.9555" stop-color="#49ffb6"/><stop offset="0.9974" stop-color="#4bffb4"/></linearGradient>
<linearGradient id="b110" gradientUnits="userSpaceOnUse" x1="0" y1="293" x2="0" y2="484"><stop offset="0.002618" stop-color="#a4ff5b"/><stop offset="0.02356" stop-color="#95ff6a"/><stop offset="0.04974" stop-color="#63ff9c"/><stop offset="0.1911" stop-color="#46ffb9"/><stop offset="0.4843" stop-color="#2fd"/><stop offset="0.4895" stop-color="#38ffc7"/><stop offset="0.4948" stop-color="#69ff96"/><stop offset="0.5" stop-color="#84ff7b"/><stop offset="0.5105" stop-color="#31ffce"/><stop offset="0.5157" stop-color="#21ffde"/><stop offset="0.9188" stop-color="#26ffd9"/><stop offset="0.9974" stop-color="#2cffd3"/></linearGradient>
<linearGradient id="b111" gradientUnits="userSpaceOnUse" x1="0" y1="293" x2="0" y2="484"><stop offset="0.002618" stop-color="#a0ff5f"/><stop offset="0.01832" stop-color="#98ff67"/><stop offset="0.04974" stop-color="#4dffb2"/><stop offset="0.1806" stop-color="#28ffd7"/><stop offset="0.4843" stop-color="#21ffde"/><stop offset="0.4895" stop-color="#39ffc6"/><stop offset="0.4948" stop-color="#6dff92"/><stop offset="0.5" stop-color="#8aff75"/><stop offset="0.5105" stop-color="#31ffce"/><stop offset="0.5157" stop-color="#20ffdf"/><stop offset="0.9136" stop-color="#25ffda"/><stop offset="0.9974" stop-color="#2cffd3"/></linearGradient>
<linearGradient id="b112" gradientUnits="userSpaceOnUse" x1="0" y1="293" x2="0" y2="484"><stop offset="0.002618" stop-color="#9fff60"/><stop offset="0.01832" stop-color="#97ff68"/><stop offset="0.04974" stop-color="#48ffb7"/><stop offset="0.1806" stop-color="#2fd"/><stop offset="0.3586" stop-color="#04fffb"/><stop offset="0.4843" stop-color="#00f7ff"/><stop offset="0.4895" stop-color="#13ffec"/><stop offset="0.4948" stop-color="#57ffa8"/><stop offset="0.5" stop-color="#7bff84"/><stop offset="0.5105" stop-color="#09fff6"/><stop offset="0.5262" stop-color="#00f2ff"/><stop offset="0.9241" stop-color="#00fbff"/><stop offset="0.9974" stop-color="#03fffc"/></linearGradient>
<linearGradient id="b113" gradientUnits="userSpaceOnUse" x1="0" y1="293" x2="0" y2="484"><stop offset="0.002618" stop-color="#9eff61"/><stop offset="0.01832" stop-color="#96ff69"/><stop offset="0.04974" stop-color="#4fb"/><stop offset="0.1754" stop-color="#1cffe3"/><stop offset="0.3377" stop-color="#02fffd"/><stop offset="0.4843" stop-color="#00f1ff"/><stop offset="0.4895" stop-color="#0bfff4"/><stop offset="0.4948" stop-color="#52ffad"/><stop offset="0.5" stop-color="#78ff87"/><stop offset="0.5105" stop-color="#02fffd"/><stop offset="0.5209" stop-color="#00ecff"/><stop offset="0.9188" stop-color="#00f5ff"/><stop offset="0.9974" stop-color="#00fbff"/></linearGradient>
<linearGradient id="b114" gradientUnits="userSpaceOnUse" x1="0" y1="293" x2="0" y2="484"><stop offset="0.002618" stop-color="#6bff94"/><stop offset="0.0288" stop-color="#46ffb9"/><stop offset="0.04974" stop-color="#2fd"/><stop offset="0.1702" stop-color="#00fcff"/><stop offset="0.4581" stop-color="#00cfff"/><stop offset="0.4843" stop-color="#00caff"/><stop offset="0.4895" stop-color="#00e3ff"/><stop offset="0.4948" stop-color="#2bffd4"/><stop offset="0.5" stop-color="#57ffa8"/><stop offset="0.5052" stop-color="#17ffe8"/><stop offset="0.5105" stop-color="#00d7ff"/><stop offset="0.5157" stop-color="#00c1ff"/><stop offset="0.9974" stop-color="#00beff"/></linearGradient>
<linearGradient id="b115" gradientUnits="userSpaceOnUse" x1="0" y1="293" x2="0" y2="484"><stop offset="0.002618" stop-color="#3effc1"/><stop offset="0.0445" stop-color="#0afff5"/><stop offset="0.1597" stop-color="#0ef"/><stop offset="0.4529" stop-color="#00baff"/><stop offset="0.4843" stop-color="#00abff"/><stop offset="0.4895" stop-color="#00c5ff"/><stop offset="0.4948" stop-color="#07fff8"/><stop offset="0.5" stop-color="#37ffc8"/><stop offset="0.5052" stop-color="#00f4ff"/><stop offset="0.5105" stop-color="#00b5ff"/><stop offset="0.5157" stop-color="#009dff"/><stop offset="0.9869" stop-color="#009cff"/><stop offset="0.9974" stop-color="#009aff"/></linearGradient>
<linearGradient id="b116" gradientUnits="userSpaceOnUse" x1="0" y1="293" x2="0" y2="484"><stop offset="0.002618" stop-color="#30ffcf"/><stop offset="0.0288" stop-color="#00feff"/><stop offset="0.08115" stop-color="#00e8ff"/><stop offset="0.4162" stop-color="#008eff"/><stop offset="0.4843" stop-color="#008fff"/><stop offset="0.4895" stop-color="#0af"/><stop offset="0.4948" stop-color="#00e7ff"/><stop offset="0.5" stop-color="#0cfff3"/><stop offset="0.5052" stop-color="#00daff"/><stop offset="0.5105" stop-color="#00a2ff"/><stop offset="0.5157" stop-color="#008eff"/><stop offset="0.9869" stop-color="#008eff"/><stop offset="0.9974" stop-color="#008bff"/></linearGradient>
<linearGradient id="b117" gradientUnits="userSpaceOnUse" x1="0" y1="293" x2="0" y2="484"><stop offset="0.002618" stop-color="#2effd1"/><stop offset="0.0288" stop-color="#00fbff"/><stop offset="0.07068" stop-color="#00e7ff"/><stop offset="0.3377" stop-color="#0098ff"/><stop offset="0.4738" stop-color="#0081ff"/><stop offset="0.4843" stop-color="#0085ff"/><stop offset="0.4895" stop-color="#009dff"/><stop offset="0.4948" stop-color="#00d0ff"/><stop offset="0.5" stop-color="#00edff"/><stop offset="0.5105" stop-color="#0098ff"/><stop offset="0.5157" stop-color="#0087ff"/><stop offset="0.9974" stop-color="#0087ff"/></linearGradient>
<linearGradient id="b118" gradientUnits="userSpaceOnUse" x1="0" y1="293" x2="0" y2="484"><stop offset="0.002618" stop-color="#2affd5"/><stop offset="0.02356" stop-color="#00f9ff"/><stop offset="0.0445" stop-color="#00e1ff"/><stop offset="0.3168" stop-color="#008fff"/><stop offset="0.4634" stop-color="#0042ff"/><stop offset="0.4843" stop-color="#0041ff"/><stop offset="0.4895" stop-color="#0056ff"/><stop offset="0.4948" stop-color="#0087ff"/><stop offset="0.5" stop-color="#00a2ff"/><stop offset="0.5105" stop-color="#005bff"/><stop offset="0.5209" stop-color="#004dff"/><stop offset="0.9764" stop-color="#005dff"/><stop offset="0.9974" stop-color="#0065ff"/></linearGradient>
<linearGradient id="b119" gradientUnits="userSpaceOnUse" x1="0" y1="293" x2="0" y2="484"><stop offset="0.002618" stop-color="#2dffd2"/><stop offset="0.02356" stop-color="#00fcff"/><stop offset="0.0445" stop-color="#00e3ff"/><stop offset="0.3168" stop-color="#0091ff"/><stop offset="0.4686" stop-color="#003fff"/><stop offset="0.4843" stop-color="#003eff"/><stop offset="0.4895" stop-color="#004eff"/><stop offset="0.4948" stop-color="#0075ff"/><stop offset="0.5" stop-color="#008bff"/><stop offset="0.5105" stop-color="#0056ff"/><stop offset="0.5366" stop-color="#004dff"/><stop offset="0.9712" stop-color="#005bff"/><stop offset="0.9974" stop-color="#06f"/></linearGradient>
<linearGradient id="b120" gradientUnits="userSpaceOnUse" x1="0" y1="293" x2="0" y2="484"><stop offset="0.002618" stop-color="#2fffd0"/><stop offset="0.02356" stop-color="#00fdff"/><stop offset="0.0445" stop-color="#00e6ff"/><stop offset="0.3168" stop-color="#0093ff"/><stop offset="0.4686" stop-color="#0041ff"/><stop offset="0.4843" stop-color="#003fff"/><stop offset="0.4895" stop-color="#004cff"/><stop offset="0.5" stop-color="#007eff"/><stop offset="0.5105" stop-color="#05f"/><stop offset="0.966" stop-color="#005bff"/><stop offset="0.9974" stop-color="#0069ff"/></linearGradient>
<linearGradient id="b121" gradientUnits="userSpaceOnUse" x1="0" y1="293" x2="0" y2="484"><stop offset="0.002618" stop-color="#34ffcb"/><stop offset="0.0288" stop-color="#00fbff"/><stop offset="0.05497" stop-color="#00e9ff"/><stop offset="0.3168" stop-color="#009cff"/><stop offset="0.4791" stop-color="#0046ff"/><stop offset="0.4895" stop-color="#0054ff"/><stop offset="0.5" stop-color="#0085ff"/><stop offset="0.5105" stop-color="#005cff"/><stop offset="0.966" stop-color="#0062ff"/><stop offset="0.9974" stop-color="#006eff"/></linearGradient>
<linearGradient id="b122" gradientUnits="userSpaceOnUse" x1="0" y1="293" x2="0" y2="484"><stop offset="0.002618" stop-color="#48ffb7"/><stop offset="0.03927" stop-color="#0dfff2"/><stop offset="0.123" stop-color="#00f4ff"/><stop offset="0.3168" stop-color="#00d5ff"/><stop offset="0.4843" stop-color="#0073ff"/><stop offset="0.4895" stop-color="#0080ff"/><stop offset="0.5" stop-color="#00b1ff"/><stop offset="0.5105" stop-color="#0089ff"/><stop offset="0.9921" stop-color="#0085ff"/><stop offset="0.9974" stop-color="#0084ff"/></linearGradient>
<linearGradient id="b123" gradientUnits="userSpaceOnUse" x1="0" y1="293" x2="0" y2="484"><stop offset="0.002618" stop-color="#49ffb6"/><stop offset="0.03927" stop-color="#09fff6"/><stop offset="0.1283" stop-color="#00edff"/><stop offset="0.3168" stop-color="#00ceff"/><stop offset="0.4843" stop-color="#0068ff"/><stop offset="0.4895" stop-color="#0074ff"/><stop offset="0.5" stop-color="#00a5ff"/><stop offset="0.5105" stop-color="#007cff"/><stop offset="0.9974" stop-color="#0078ff"/></linearGradient>
<linearGradient id="b124" gradientUnits="userSpaceOnUse" x1="0" y1="293" x2="0" y2="484"><stop offset="0.002618" stop-color="#a6ff59"/><stop offset="0.0288" stop-color="#62ff9d"/><stop offset="0.07068" stop-color="#35ffca"/><stop offset="0.2696" stop-color="#00f9ff"/><stop offset="0.4529" stop-color="#0097ff"/><stop offset="0.4634" stop-color="#0060ff"/><stop offset="0.4843" stop-color="#0056ff"/><stop offset="0.4895" stop-color="#0060ff"/><stop offset="0.5" stop-color="#0089ff"/><stop offset="0.5105" stop-color="#0058ff"/><stop offset="0.5262" stop-color="#004bff"/><stop offset="0.9764" stop-color="#005bff"/><stop offset="0.9974" stop-color="#0063ff"/></linearGradient>
<linearGradient id="b125" gradientUnits="userSpaceOnUse" x1="0" y1="293" x2="0" y2="484"><stop offset="0.002618" stop-color="#adff52"/><stop offset="0.0288" stop-color="#69ff96"/><stop offset="0.07068" stop-color="#3bffc4"/><stop offset="0.2539" stop-color="#08fff7"/><stop offset="0.4319" stop-color="#00a5ff"/><stop offset="0.4529" stop-color="#009bff"/><stop offset="0.4634" stop-color="#0061ff"/><stop offset="0.4843" stop-color="#0057ff"/><stop offset="0.4895" stop-color="#0061ff"/><stop offset="0.5" stop-color="#0089ff"/><stop offset="0.5105" stop-color="#0057ff"/><stop offset="0.5262" stop-color="#0049ff"/><stop offset="0.9712" stop-color="#0058ff"/><stop offset="0.9974" stop-color="#0063ff"/></linearGradient>
<linearGradient id="b126" gradientUnits="userSpaceOnUse" x1="0" y1="293" x2="0" y2="484"><stop offset="0.002618" stop-color="#adff52"/><stop offset="0.0288" stop-color="#67ff98"/><stop offset="0.07068" stop-color="#39ffc6"/><stop offset="0.2539" stop-color="#04fffb"/><stop offset="0.4529" stop-color="#0097ff"/><stop offset="0.4634" stop-color="#005dff"/><stop offset="0.4843" stop-color="#0053ff"/><stop offset="0.4895" stop-color="#005dff"/><stop offset="0.5" stop-color="#0085ff"/><stop offset="0.5105" stop-color="#0053ff"/><stop offset="0.5262" stop-color="#0046ff"/><stop offset="0.9712" stop-color="#05f"/><stop offset="0.9974" stop-color="#0060ff"/></linearGradient>
<linearGradient id="b127" gradientUnits="userSpaceOnUse" x1="0" y1="293" x2="0" y2="484"><stop offset="0.002618" stop-color="#adff52"/><stop offset="0.0288" stop-color="#69ff96"/><stop offset="0.07068" stop-color="#3cffc3"/><stop offset="0.2539" stop-color="#09fff6"/><stop offset="0.3482" stop-color="#00d4ff"/><stop offset="0.4529" stop-color="#009bff"/><stop offset="0.4634" stop-color="#0061ff"/><stop offset="0.4843" stop-color="#0057ff"/><stop offset="0.4895" stop-color="#0061ff"/><stop offset="0.5" stop-color="#0089ff"/><stop offset="0.5105" stop-color="#0057ff"/><stop offset="0.5262" stop-color="#004aff"/><stop offset="0.9712" stop-color="#0059ff"/><stop offset="0.9974" stop-color="#0064ff"/></linearGradient>
<linearGradient id="b128" gradientUnits="userSpaceOnUse" x1="0" y1="293" x2="0" y2="484"><stop offset="0.002618" stop-color="#adff52"/><stop offset="0.0288" stop-color="#67ff98"/><stop offset="0.07068" stop-color="#38ffc7"/><stop offset="0.2539" stop-color="#04fffb"/><stop offset="0.4529" stop-color="#0096ff"/><stop offset="0.4634" stop-color="#005cff"/><stop offset="0.4843" stop-color="#0052ff"/><stop offset="0.4895" stop-color="#005cff"/><stop offset="0.5" stop-color="#0084ff"/><stop offset="0.5105" stop-color="#0052ff"/><stop offset="0.5262" stop-color="#0045ff"/><stop offset="0.9712" stop-color="#0054ff"/><stop offset="0.9974" stop-color="#005fff"/></linearGradient>
<linearGradient id="b129" gradientUnits="userSpaceOnUse" x1="0" y1="293" x2="0" y2="484"><stop offset="0.002618" stop-color="#adff52"/><stop offset="0.0288" stop-color="#62ff9d"/><stop offset="0.07068" stop-color="#31ffce"/><stop offset="0.2539" stop-color="#00faff"/><stop offset="0.4529" stop-color="#008eff"/><stop offset="0.4634" stop-color="#0054ff"/><stop offset="0.4843" stop-color="#004aff"/><stop offset="0.4895" stop-color="#0054ff"/><stop offset="0.5" stop-color="#007cff"/><stop offset="0.5105" stop-color="#004aff"/><stop offset="0.5262" stop-color="#003dff"/><stop offset="0.9712" stop-color="#004bff"/><stop offset="0.9974" stop-color="#0056ff"/></linearGradient>
<linearGradient id="b130" gradientUnits="userSpaceOnUse" x1="0" y1="293" x2="0" y2="484"><stop offset="0.002618" stop-color="#adff52"/><stop offset="0.0288" stop-color="#6f9"/><stop offset="0.07068" stop-color="#37ffc8"/><stop offset="0.2696" stop-color="#00f9ff"/><stop offset="0.4529" stop-color="#0095ff"/><stop offset="0.4634" stop-color="#005bff"/><stop offset="0.4843" stop-color="#0051ff"/><stop offset="0.4895" stop-color="#005bff"/><stop offset="0.5" stop-color="#0083ff"/><stop offset="0.5105" stop-color="#0051ff"/><stop offset="0.5262" stop-color="#04f"/><stop offset="0.9712" stop-color="#0053ff"/><stop offset="0.9974" stop-color="#005eff"/></linearGradient>
<linearGradient id="b131" gradientUnits="userSpaceOnUse" x1="0" y1="293" x2="0" y2="484"><stop offset="0.002618" stop-color="#adff52"/><stop offset="0.0288" stop-color="#62ff9d"/><stop offset="0.07068" stop-color="#30ffcf"/><stop offset="0.2539" stop-color="#00f9ff"/><stop offset="0.4529" stop-color="#008cff"/><stop offset="0.4634" stop-color="#0052ff"/><stop offset="0.4843" stop-color="#0048ff"/><stop offset="0.4895" stop-color="#0052ff"/><stop offset="0.5" stop-color="#007aff"/><stop offset="0.5105" stop-color="#0048ff"/><stop offset="0.5262" stop-color="#003bff"/><stop offset="0.9712" stop-color="#004aff"/><stop offset="0.9974" stop-color="#05f"/></linearGradient>
<linearGradient id="b132" gradientUnits="userSpaceOnUse" x1="0" y1="293" x2="0" y2="484"><stop offset="0.002618" stop-color="#adff52"/><stop offset="0.0288" stop-color="#67ff98"/><stop offset="0.07068" stop-color="#38ffc7"/><stop offset="0.2539" stop-color="#03fffc"/><stop offset="0.4529" stop-color="#0096ff"/><stop offset="0.4634" stop-color="#005cff"/><stop offset="0.4843" stop-color="#0052ff"/><stop offset="0.4895" stop-color="#005cff"/><stop offset="0.5" stop-color="#0084ff"/><stop offset="0.5105" stop-color="#0052ff"/><stop offset="0.5262" stop-color="#0045ff"/><stop offset="0.9712" stop-color="#0054ff"/><stop offset="0.9974" stop-color="#005fff"/></linearGradient>
<linearGradient id="b133" gradientUnits="userSpaceOnUse" x1="0" y1="293" x2="0" y2="484"><stop offset="0.002618" stop-color="#a7ff58"/><stop offset="0.0288" stop-color="#5effa1"/><stop offset="0.07068" stop-color="#2fffd0"/><stop offset="0.2592" stop-color="#00f8ff"/><stop offset="0.4529" stop-color="#008eff"/><stop offset="0.4634" stop-color="#0058ff"/><stop offset="0.4843" stop-color="#004eff"/><stop offset="0.4895" stop-color="#0058ff"/><stop offset="0.5" stop-color="#0080ff"/><stop offset="0.5105" stop-color="#004fff"/><stop offset="0.5262" stop-color="#0042ff"/><stop offset="0.9712" stop-color="#0051ff"/><stop offset="0.9974" stop-color="#005cff"/></linearGradient>
<linearGradient id="b134" gradientUnits="userSpaceOnUse" x1="0" y1="293" x2="0" y2="484"><stop offset="0.002618" stop-color="#5effa1"/><stop offset="0.03927" stop-color="#10ffef"/><stop offset="0.1126" stop-color="#00f5ff"/><stop offset="0.3115" stop-color="#00d7ff"/><stop offset="0.4843" stop-color="#0063ff"/><stop offset="0.4895" stop-color="#006eff"/><stop offset="0.5" stop-color="#009aff"/><stop offset="0.5105" stop-color="#006dff"/><stop offset="0.5366" stop-color="#0063ff"/><stop offset="0.9712" stop-color="#0071ff"/><stop offset="0.9974" stop-color="#007cff"/></linearGradient>
<linearGradient id="b135" gradientUnits="userSpaceOnUse" x1="0" y1="293" x2="0" y2="484"><stop offset="0.002618" stop-color="#57ffa8"/><stop offset="0.03927" stop-color="#08fff7"/><stop offset="0.233" stop-color="#00deff"/><stop offset="0.3115" stop-color="#00d0ff"/><stop offset="0.4791" stop-color="#005fff"/><stop offset="0.4895" stop-color="#006bff"/><stop offset="0.5" stop-color="#0097ff"/><stop offset="0.5105" stop-color="#0069ff"/><stop offset="0.5366" stop-color="#005fff"/><stop offset="0.9712" stop-color="#006eff"/><stop offset="0.9974" stop-color="#0079ff"/></linearGradient>
<linearGradient id="b136" gradientUnits="userSpaceOnUse" x1="0" y1="293" x2="0" y2="484"><stop offset="0.002618" stop-color="#35ffca"/><stop offset="0.02356" stop-color="#0ff"/><stop offset="0.0445" stop-color="#00e5ff"/><stop offset="0.3115" stop-color="#0096ff"/><stop offset="0.4267" stop-color="#004aff"/><stop offset="0.4843" stop-color="#0040ff"/><stop offset="0.4895" stop-color="#004cff"/><stop offset="0.5" stop-color="#0076ff"/><stop offset="0.5105" stop-color="#0047ff"/><stop offset="0.5314" stop-color="#003cff"/><stop offset="0.9712" stop-color="#004bff"/><stop offset="0.9974" stop-color="#0056ff"/></linearGradient>
<linearGradient id="b137" gradientUnits="userSpaceOnUse" x1="0" y1="293" x2="0" y2="484"><stop offset="0.002618" stop-color="#2cffd3"/><stop offset="0.01832" stop-color="#03fffc"/><stop offset="0.0445" stop-color="#00dbff"/><stop offset="0.3115" stop-color="#008aff"/><stop offset="0.4215" stop-color="#0041ff"/><stop offset="0.4843" stop-color="#0036ff"/><stop offset="0.4895" stop-color="#0042ff"/><stop offset="0.5" stop-color="#006dff"/><stop offset="0.5105" stop-color="#003eff"/><stop offset="0.5314" stop-color="#0032ff"/><stop offset="0.9712" stop-color="#0041ff"/><stop offset="0.9974" stop-color="#004cff"/></linearGradient>
<linearGradient id="b138" gradientUnits="userSpaceOnUse" x1="0" y1="293" x2="0" y2="484"><stop offset="0.002618" stop-color="#32ffcd"/><stop offset="0.02356" stop-color="#00fcff"/><stop offset="0.0445" stop-color="#00e2ff"/><stop offset="0.3115" stop-color="#0091ff"/><stop offset="0.4215" stop-color="#0047ff"/><stop offset="0.4843" stop-color="#003dff"/><stop offset="0.4895" stop-color="#0049ff"/><stop offset="0.5" stop-color="#0073ff"/><stop offset="0.5105" stop-color="#04f"/><stop offset="0.5314" stop-color="#0039ff"/><stop offset="0.9712" stop-color="#0047ff"/><stop offset="0.9974" stop-color="#0053ff"/></linearGradient>
<linearGradient id="b139" gradientUnits="userSpaceOnUse" x1="0" y1="293" x2="0" y2="484"><stop offset="0.002618" stop-color="#2effd1"/><stop offset="0.02356" stop-color="#00f9ff"/><stop offset="0.0445" stop-color="#0df"/><stop offset="0.3115" stop-color="#008cff"/><stop offset="0.4215" stop-color="#0042ff"/><stop offset="0.4843" stop-color="#0038ff"/><stop offset="0.4895" stop-color="#04f"/><stop offset="0.5" stop-color="#006fff"/><stop offset="0.5105" stop-color="#003fff"/><stop offset="0.5314" stop-color="#0034ff"/><stop offset="0.9712" stop-color="#0043ff"/><stop offset="0.9974" stop-color="#004eff"/></linearGradient>
<linearGradient id="b140" gradientUnits="userSpaceOnUse" x1="0" y1="293" x2="0" y2="484"><stop offset="0.002618" stop-color="#34ffcb"/><stop offset="0.02356" stop-color="#00feff"/><stop offset="0.0445" stop-color="#00e4ff"/><stop offset="0.3168" stop-color="#0091ff"/><stop offset="0.4215" stop-color="#004eff"/><stop offset="0.4843" stop-color="#0042ff"/><stop offset="0.4895" stop-color="#004eff"/><stop offset="0.5" stop-color="#0078ff"/><stop offset="0.5105" stop-color="#0048ff"/><stop offset="0.5262" stop-color="#003cff"/><stop offset="0.9712" stop-color="#004bff"/><stop offset="0.9974" stop-color="#0056ff"/></linearGradient>
<linearGradient id="b141" gradientUnits="userSpaceOnUse" x1="0" y1="293" x2="0" y2="484"><stop offset="0.002618" stop-color="#3fffc0"/><stop offset="0.0288" stop-color="#0ff"/><stop offset="0.04974" stop-color="#00efff"/><stop offset="0.3534" stop-color="#00afff"/><stop offset="0.4738" stop-color="#0080ff"/><stop offset="0.4843" stop-color="#007aff"/><stop offset="0.4895" stop-color="#0082ff"/><stop offset="0.5" stop-color="#00a5ff"/><stop offset="0.5105" stop-color="#006eff"/><stop offset="0.5209" stop-color="#005dff"/><stop offset="0.9712" stop-color="#006cff"/><stop offset="0.9974" stop-color="#07f"/></linearGradient>
<linearGradient id="b142" gradientUnits="userSpaceOnUse" x1="0" y1="293" x2="0" y2="484"><stop offset="0.002618" stop-color="#4fb"/><stop offset="0.03403" stop-color="#00f9ff"/><stop offset="0.3848" stop-color="#00aeff"/><stop offset="0.4738" stop-color="#008bff"/><stop offset="0.4843" stop-color="#0086ff"/><stop offset="0.4895" stop-color="#008eff"/><stop offset="0.5" stop-color="#00b1ff"/><stop offset="0.5105" stop-color="#007aff"/><stop offset="0.5209" stop-color="#0068ff"/><stop offset="0.9764" stop-color="#0078ff"/><stop offset="0.9974" stop-color="#0080ff"/></linearGradient>
<linearGradient id="b143" gradientUnits="userSpaceOnUse" x1="0" y1="293" x2="0" y2="484"><stop offset="0.002618" stop-color="#6dff92"/><stop offset="0.03927" stop-color="#0dfff2"/><stop offset="0.123" stop-color="#00f4ff"/><stop offset="0.4843" stop-color="#0ef"/><stop offset="0.4895" stop-color="#00faff"/><stop offset="0.4948" stop-color="#20ffdf"/><stop offset="0.5" stop-color="#2fffd0"/><stop offset="0.5052" stop-color="#08fff7"/><stop offset="0.5157" stop-color="#00d3ff"/><stop offset="0.9974" stop-color="#00d0ff"/></linearGradient>
<linearGradient id="b144" gradientUnits="userSpaceOnUse" x1="0" y1="293" x2="0" y2="484"><stop offset="0.002618" stop-color="#6eff91"/><stop offset="0.03927" stop-color="#0cfff3"/><stop offset="0.1283" stop-color="#00f1ff"/><stop offset="0.4843" stop-color="#00f3ff"/><stop offset="0.4895" stop-color="#01fffe"/><stop offset="0.4948" stop-color="#28ffd7"/><stop offset="0.5" stop-color="#37ffc8"/><stop offset="0.5052" stop-color="#10ffef"/><stop offset="0.5105" stop-color="#00e9ff"/><stop offset="0.5209" stop-color="#00d3ff"/><stop offset="0.9869" stop-color="#00d5ff"/><stop offset="0.9974" stop-color="#00d3ff"/></linearGradient>
<linearGradient id="b145" gradientUnits="userSpaceOnUse" x1="0" y1="293" x2="0" y2="484"><stop offset="0.002618" stop-color="#6cff93"/><stop offset="0.03927" stop-color="#06fff9"/><stop offset="0.1806" stop-color="#00e8ff"/><stop offset="0.4843" stop-color="#0ef"/><stop offset="0.4895" stop-color="#00fbff"/><stop offset="0.4948" stop-color="#20ffdf"/><stop offset="0.5" stop-color="#30ffcf"/><stop offset="0.5052" stop-color="#08fff7"/><stop offset="0.5157" stop-color="#00d2ff"/><stop offset="0.9869" stop-color="#00d0ff"/><stop offset="0.9974" stop-color="#00cdff"/></linearGradient>
<linearGradient id="b146" gradientUnits="userSpaceOnUse" x1="0" y1="293" x2="0" y2="484"><stop offset="0.002618" stop-color="#6fff90"/><stop offset="0.03927" stop-color="#0cfff3"/><stop offset="0.123" stop-color="#00f4ff"/><stop offset="0.4843" stop-color="#00f4ff"/><stop offset="0.4895" stop-color="#02fffd"/><stop offset="0.4948" stop-color="#29ffd6"/><stop offset="0.5" stop-color="#38ffc7"/><stop offset="0.5052" stop-color="#1fe"/><stop offset="0.5105" stop-color="#00eaff"/><stop offset="0.5209" stop-color="#00d4ff"/><stop offset="0.9869" stop-color="#00d7ff"/><stop offset="0.9974" stop-color="#00d5ff"/></linearGradient>
<linearGradient id="b147" gradientUnits="userSpaceOnUse" x1="0" y1="293" x2="0" y2="484"><stop offset="0.002618" stop-color="#8eff71"/><stop offset="0.03927" stop-color="#38ffc7"/><stop offset="0.4843" stop-color="#27ffd8"/><stop offset="0.4895" stop-color="#38ffc7"/><stop offset="0.4948" stop-color="#5effa1"/><stop offset="0.5" stop-color="#70ff8f"/><stop offset="0.5105" stop-color="#25ffda"/><stop offset="0.5209" stop-color="#0efff1"/><stop offset="0.9764" stop-color="#15ffea"/><stop offset="0.9974" stop-color="#0efff1"/></linearGradient>
<linearGradient id="b148" gradientUnits="userSpaceOnUse" x1="0" y1="293" x2="0" y2="484"><stop offset="0.002618" stop-color="#8eff71"/><stop offset="0.03927" stop-color="#34ffcb"/><stop offset="0.4843" stop-color="#23ffdc"/><stop offset="0.4895" stop-color="#3fc"/><stop offset="0.4948" stop-color="#5affa5"/><stop offset="0.5" stop-color="#6bff94"/><stop offset="0.5105" stop-color="#20ffdf"/><stop offset="0.5209" stop-color="#0afff5"/><stop offset="0.9764" stop-color="#1fe"/><stop offset="0.9974" stop-color="#0afff5"/></linearGradient>
<linearGradient id="b149" gradientUnits="userSpaceOnUse" x1="0" y1="293" x2="0" y2="484"><stop offset="0.002618" stop-color="#92ff6d"/><stop offset="0.03927" stop-color="#3effc1"/><stop offset="0.4843" stop-color="#2cffd3"/><stop offset="0.4895" stop-color="#3dffc2"/><stop offset="0.4948" stop-color="#63ff9c"/><stop offset="0.5" stop-color="#75ff8a"/><stop offset="0.5105" stop-color="#29ffd6"/><stop offset="0.5209" stop-color="#12ffed"/><stop offset="0.9764" stop-color="#19ffe6"/><stop offset="0.9974" stop-color="#13ffec"/></linearGradient>
<linearGradient id="b150" gradientUnits="userSpaceOnUse" x1="0" y1="293" x2="0" y2="484"><stop offset="0.002618" stop-color="#bf4"/><stop offset="0.03927" stop-color="#87ff78"/><stop offset="0.212" stop-color="#70ff8f"/><stop offset="0.4843" stop-color="#6cff93"/><stop offset="0.4895" stop-color="#7dff82"/><stop offset="0.4948" stop-color="#a3ff5c"/><stop offset="0.5" stop-color="#b2ff4d"/><stop offset="0.5105" stop-color="#5dffa2"/><stop offset="0.5157" stop-color="#46ffb9"/><stop offset="0.767" stop-color="#43ffbc"/><stop offset="0.9764" stop-color="#46ffb9"/><stop offset="0.9974" stop-color="#40ffbf"/></linearGradient>
<linearGradient id="b151" gradientUnits="userSpaceOnUse" x1="0" y1="293" x2="0" y2="484"><stop offset="0.002618" stop-color="#cfff30"/><stop offset="0.03927" stop-color="#9dff62"/><stop offset="0.2225" stop-color="#8cff73"/><stop offset="0.4843" stop-color="#8fff70"/><stop offset="0.4895" stop-color="#a0ff5f"/><stop offset="0.4948" stop-color="#c6ff39"/><stop offset="0.5" stop-color="#d9ff26"/><stop offset="0.5105" stop-color="#92ff6d"/><stop offset="0.5209" stop-color="#7eff81"/><stop offset="0.9764" stop-color="#85ff7a"/><stop offset="0.9974" stop-color="#7fff80"/></linearGradient>
<linearGradient id="b152" gradientUnits="userSpaceOnUse" x1="0" y1="293" x2="0" y2="484"><stop offset="0.002618" stop-color="#d1ff2e"/><stop offset="0.03927" stop-color="#9fff60"/><stop offset="0.2277" stop-color="#90ff6f"/><stop offset="0.4843" stop-color="#93ff6c"/><stop offset="0.4895" stop-color="#a4ff5b"/><stop offset="0.4948" stop-color="#caff35"/><stop offset="0.5" stop-color="#deff21"/><stop offset="0.5105" stop-color="#98ff67"/><stop offset="0.5209" stop-color="#85ff7a"/><stop offset="0.9764" stop-color="#8cff73"/><stop offset="0.9974" stop-color="#86ff79"/></linearGradient>
<linearGradient id="b153" gradientUnits="userSpaceOnUse" x1="0" y1="293" x2="0" y2="484"><stop offset="0.002618" stop-color="#23ffdc"/><stop offset="0.1492" stop-color="#1fe"/><stop offset="0.4843" stop-color="#14ffeb"/><stop offset="0.5" stop-color="#3effc1"/><stop offset="0.5157" stop-color="#13ffec"/><stop offset="0.9974" stop-color="#20ffdf"/></linearGradient>
<linearGradient id="b154" gradientUnits="userSpaceOnUse" x1="0" y1="293" x2="0" y2="484"><stop offset="0.002618" stop-color="#ffe000"/><stop offset="0.9974" stop-color="#ffe000"/></linearGradient>
<linearGradient id="b155" gradientUnits="userSpaceOnUse" x1="0" y1="293" x2="0" y2="484"><stop offset="0.002618" stop-color="#ffa700"/><stop offset="0.9974" stop-color="#ffa700"/></linearGradient>
<linearGradient id="b156" gradientUnits="userSpaceOnUse" x1="0" y1="293" x2="0" y2="484"><stop offset="0.002618" stop-color="#ff9600"/><stop offset="0.9974" stop-color="#ff9600"/></linearGradient>
<linearGradient id="b157" gradientUnits="userSpaceOnUse" x1="0" y1="293" x2="0" y2="484"><stop offset="0.002618" stop-color="#ffc700"/><stop offset="0.9974" stop-color="#ffc700"/></linearGradient>
<linearGradient id="b158" gradientUnits="userSpaceOnUse" x1="0" y1="293" x2="0" y2="484"><stop offset="0.002618" stop-color="#ff9e00"/><stop offset="0.9974" stop-color="#ff9e00"/></linearGradient>
<linearGradient id="b159" gradientUnits="userSpaceOnUse" x1="0" y1="293" x2="0" y2="484"><stop offset="0.002618" stop-color="#ff8200"/><stop offset="0.9974" stop-color="#ff8200"/></linearGradient>
<linearGradient id="b160" gradientUnits="userSpaceOnUse" x1="0" y1="293" x2="0" y2="484"><stop offset="0.002618" stop-color="#ff6000"/><stop offset="0.9974" stop-color="#ff6000"/></linearGradient>
<linearGradient id="b161" gradientUnits="userSpaceOnUse" x1="0" y1="293" x2="0" y2="484"><stop offset="0.002618" stop-color="#ff6900"/><stop offset="0.9974" stop-color="#ff6900"/></linearGradient>
<linearGradient id="b162" gradientUnits="userSpaceOnUse" x1="0" y1="293" x2="0" y2="484"><stop offset="0.002618" stop-color="#ff9200"/><stop offset="0.9974" stop-color="#ff9200"/></linearGradient>
<linearGradient id="b163" gradientUnits="userSpaceOnUse" x1="0" y1="293" x2="0" y2="484"><stop offset="0.002618" stop-color="#ff6900"/><stop offset="0.9974" stop-color="#ff6900"/></linearGradient>
<linearGradient id="b164" gradientUnits="userSpaceOnUse" x1="0" y1="293" x2="0" y2="484"><stop offset="0.002618" stop-color="#ff6000"/><stop offset="0.9974" stop-color="#ff6000"/></linearGradient>
<linearGradient id="b165" gradientUnits="userSpaceOnUse" x1="0" y1="293" x2="0" y2="484"><stop offset="0.002618" stop-color="#ff8b00"/><stop offset="0.9974" stop-color="#ff8b00"/></linearGradient>
<linearGradient id="b166" gradientUnits="userSpaceOnUse" x1="0" y1="293" x2="0" y2="484"><stop offset="0.002618" stop-color="#ffaf00"/><stop offset="0.9974" stop-color="#ffaf00"/></linearGradient>
<linearGradient id="b167" gradientUnits="userSpaceOnUse" x1="0" y1="293" x2="0" y2="484"><stop offset="0.002618" stop-color="#ffd100"/><stop offset="0.9974" stop-color="#ffd100"/></linearGradient>
<linearGradient id="b168" gradientUnits="userSpaceOnUse" x1="0" y1="293" x2="0" y2="484"><stop offset="0.002618" stop-color="#ffb900"/><stop offset="0.9974" stop-color="#ffb900"/></linearGradient>
<linearGradient id="b169" gradientUnits="userSpaceOnUse" x1="0" y1="293" x2="0" y2="484"><stop offset="0.002618" stop-color="#ffdc00"/><stop offset="0.9974" stop-color="#ffdc00"/></linearGradient>
<linearGradient id="b170" gradientUnits="userSpaceOnUse" x1="0" y1="293" x2="0" y2="484"><stop offset="0.002618" stop-color="#dcff23"/><stop offset="0.9974" stop-color="#dcff23"/></linearGradient>
<linearGradient id="b171" gradientUnits="userSpaceOnUse" x1="0" y1="293" x2="0" y2="484"><stop offset="0.002618" stop-color="#1effe1"/><stop offset="0.144" stop-color="#0bfff4"/><stop offset="0.4843" stop-color="#0dfff2"/><stop offset="0.5" stop-color="#3affc5"/><stop offset="0.5157" stop-color="#0dfff2"/><stop offset="0.9974" stop-color="#1bffe4"/></linearGradient>
<linearGradient id="b172" gradientUnits="userSpaceOnUse" x1="0" y1="293" x2="0" y2="484"><stop offset="0.002618" stop-color="#008cff"/><stop offset="0.1283" stop-color="#0075ff"/><stop offset="0.4843" stop-color="#0078ff"/><stop offset="0.5" stop-color="#00afff"/><stop offset="0.5105" stop-color="#0082ff"/><stop offset="0.5262" stop-color="#0075ff"/><stop offset="0.9974" stop-color="#08f"/></linearGradient>
<linearGradient id="b173" gradientUnits="userSpaceOnUse" x1="0" y1="293" x2="0" y2="484"><stop offset="0.002618" stop-color="#05f"/><stop offset="0.1283" stop-color="#003eff"/><stop offset="0.4843" stop-color="#0041ff"/><stop offset="0.5" stop-color="#0078ff"/><stop offset="0.5105" stop-color="#004bff"/><stop offset="0.5262" stop-color="#003eff"/><stop offset="0.9974" stop-color="#0051ff"/></linearGradient>
<linearGradient id="b174" gradientUnits="userSpaceOnUse" x1="0" y1="293" x2="0" y2="484"><stop offset="0.002618" stop-color="#0046ff"/><stop offset="0.1283" stop-color="#002eff"/><stop offset="0.4843" stop-color="#0032ff"/><stop offset="0.5" stop-color="#0068ff"/><stop offset="0.5105" stop-color="#003bff"/><stop offset="0.5262" stop-color="#002eff"/><stop offset="0.9974" stop-color="#0042ff"/></linearGradient>
<linearGradient id="b175" gradientUnits="userSpaceOnUse" x1="0" y1="293" x2="0" y2="484"><stop offset="0.002618" stop-color="#0051ff"/><stop offset="0.08639" stop-color="#002fff"/><stop offset="0.4843" stop-color="#0031ff"/><stop offset="0.5" stop-color="#0068ff"/><stop offset="0.5105" stop-color="#003bff"/><stop offset="0.5262" stop-color="#002eff"/><stop offset="0.9974" stop-color="#0042ff"/></linearGradient>
<linearGradient id="b176" gradientUnits="userSpaceOnUse" x1="0" y1="293" x2="0" y2="484"><stop offset="0.002618" stop-color="#005dff"/><stop offset="0.03403" stop-color="#003fff"/><stop offset="0.1335" stop-color="#002eff"/><stop offset="0.4843" stop-color="#0031ff"/><stop offset="0.5" stop-color="#0068ff"/><stop offset="0.5105" stop-color="#003bff"/><stop offset="0.5262" stop-color="#002eff"/><stop offset="0.9974" stop-color="#0042ff"/></linearGradient>
<linearGradient id="b177" gradientUnits="userSpaceOnUse" x1="0" y1="293" x2="0" y2="484"><stop offset="0.002618" stop-color="#006dff"/><stop offset="0.03403" stop-color="#0040ff"/><stop offset="0.1283" stop-color="#002eff"/><stop offset="0.4843" stop-color="#0031ff"/><stop offset="0.5" stop-color="#0068ff"/><stop offset="0.5105" stop-color="#003bff"/><stop offset="0.5262" stop-color="#002eff"/><stop offset="0.9974" stop-color="#0042ff"/></linearGradient>
<linearGradient id="b178" gradientUnits="userSpaceOnUse" x1="0" y1="293" x2="0" y2="484"><stop offset="0.002618" stop-color="#007eff"/><stop offset="0.03403" stop-color="#0045ff"/><stop offset="0.1073" stop-color="#002eff"/><stop offset="0.4843" stop-color="#0031ff"/><stop offset="0.5" stop-color="#0068ff"/><stop offset="0.5105" stop-color="#003bff"/><stop offset="0.5262" stop-color="#002eff"/><stop offset="0.9974" stop-color="#0042ff"/></linearGradient>
<linearGradient id="b179" gradientUnits="userSpaceOnUse" x1="0" y1="293" x2="0" y2="484"><stop offset="0.002618" stop-color="#0092ff"/><stop offset="0.03403" stop-color="#004eff"/><stop offset="0.07068" stop-color="#03f"/><stop offset="0.4843" stop-color="#0031ff"/><stop offset="0.5" stop-color="#0068ff"/><stop offset="0.5105" stop-color="#003bff"/><stop offset="0.5262" stop-color="#002eff"/><stop offset="0.9974" stop-color="#0042ff"/></linearGradient>
<linearGradient id="b180" gradientUnits="userSpaceOnUse" x1="0" y1="293" x2="0" y2="484"><stop offset="0.002618" stop-color="#00a7ff"/><stop offset="0.03927" stop-color="#0050ff"/><stop offset="0.07592" stop-color="#0032ff"/><stop offset="0.4843" stop-color="#0031ff"/><stop offset="0.5" stop-color="#0068ff"/><stop offset="0.5105" stop-color="#003bff"/><stop offset="0.5262" stop-color="#002eff"/><stop offset="0.9974" stop-color="#0042ff"/></linearGradient>
<linearGradient id="b181" gradientUnits="userSpaceOnUse" x1="0" y1="293" x2="0" y2="484"><stop offset="0.002618" stop-color="#00bcff"/><stop offset="0.03927" stop-color="#005cff"/><stop offset="0.07068" stop-color="#0034ff"/><stop offset="0.4843" stop-color="#0031ff"/><stop offset="0.5" stop-color="#0068ff"/><stop offset="0.5105" stop-color="#003bff"/><stop offset="0.5262" stop-color="#002eff"/><stop offset="0.9974" stop-color="#0042ff"/></linearGradient>
<linearGradient id="b182" gradientUnits="userSpaceOnUse" x1="0" y1="293" x2="0" y2="484"><stop offset="0.002618" stop-color="#00d1ff"/><stop offset="0.03927" stop-color="#006aff"/><stop offset="0.07592" stop-color="#0034ff"/><stop offset="0.4843" stop-color="#0031ff"/><stop offset="0.5" stop-color="#0068ff"/><stop offset="0.5105" stop-color="#003bff"/><stop offset="0.5262" stop-color="#002eff"/><stop offset="0.9974" stop-color="#0042ff"/></linearGradient>
<linearGradient id="b183" gradientUnits="userSpaceOnUse" x1="0" y1="293" x2="0" y2="484"><stop offset="0.002618" stop-color="#00e6ff"/><stop offset="0.0445" stop-color="#006dff"/><stop offset="0.08115" stop-color="#0034ff"/><stop offset="0.4843" stop-color="#0031ff"/><stop offset="0.5" stop-color="#0068ff"/><stop offset="0.5105" stop-color="#003bff"/><stop offset="0.5262" stop-color="#002eff"/><stop offset="0.9974" stop-color="#0042ff"/></linearGradient>
<linearGradient id="b184" gradientUnits="userSpaceOnUse" x1="0" y1="293" x2="0" y2="484"><stop offset="0.002618" stop-color="#00f8ff"/><stop offset="0.0445" stop-color="#007dff"/><stop offset="0.08115" stop-color="#003bff"/><stop offset="0.123" stop-color="#002eff"/><stop offset="0.4843" stop-color="#0031ff"/><stop offset="0.5" stop-color="#0068ff"/><stop offset="0.5105" stop-color="#003bff"/><stop offset="0.5262" stop-color="#002eff"/><stop offset="0.9974" stop-color="#0042ff"/></linearGradient>
<linearGradient id="b185" gradientUnits="userSpaceOnUse" x1="0" y1="293" x2="0" y2="484"><stop offset="0.002618" stop-color="#0efff1"/><stop offset="0.01309" stop-color="#00e9ff"/><stop offset="0.05497" stop-color="#0075ff"/><stop offset="0.09162" stop-color="#0037ff"/><stop offset="0.1859" stop-color="#002eff"/><stop offset="0.4843" stop-color="#0031ff"/><stop offset="0.5" stop-color="#0068ff"/><stop offset="0.5105" stop-color="#003bff"/><stop offset="0.5262" stop-color="#002eff"/><stop offset="0.9974" stop-color="#0042ff"/></linearGradient>
<linearGradient id="b186" gradientUnits="userSpaceOnUse" x1="0" y1="293" x2="0" y2="484"><stop offset="0.002618" stop-color="#21ffde"/><stop offset="0.01309" stop-color="#00f8ff"/><stop offset="0.06021" stop-color="#0079ff"/><stop offset="0.09686" stop-color="#003aff"/><stop offset="0.1545" stop-color="#002eff"/><stop offset="0.4843" stop-color="#0031ff"/><stop offset="0.5" stop-color="#0068ff"/><stop offset="0.5105" stop-color="#003bff"/><stop offset="0.5262" stop-color="#002eff"/><stop offset="0.9974" stop-color="#0042ff"/></linearGradient>
<linearGradient id="b187" gradientUnits="userSpaceOnUse" x1="0" y1="293" x2="0" y2="484"><stop offset="0.002618" stop-color="#2fffd0"/><stop offset="0.01832" stop-color="#00f7ff"/><stop offset="0.07592" stop-color="#0065ff"/><stop offset="0.1126" stop-color="#0034ff"/><stop offset="0.4843" stop-color="#0031ff"/><stop offset="0.5" stop-color="#0068ff"/><stop offset="0.5105" stop-color="#003bff"/><stop offset="0.5262" stop-color="#002eff"/><stop offset="0.9974" stop-color="#0042ff"/></linearGradient>
<linearGradient id="b188" gradientUnits="userSpaceOnUse" x1="0" y1="293" x2="0" y2="484"><stop offset="0.002618" stop-color="#38ffc7"/><stop offset="0.01832" stop-color="#05fffa"/><stop offset="0.09162" stop-color="#05f"/><stop offset="0.1283" stop-color="#0031ff"/><stop offset="0.4843" stop-color="#0031ff"/><stop offset="0.5" stop-color="#0068ff"/><stop offset="0.5105" stop-color="#003bff"/><stop offset="0.5262" stop-color="#002eff"/><stop offset="0.9974" stop-color="#0042ff"/></linearGradient>
<linearGradient id="b189" gradientUnits="userSpaceOnUse" x1="0" y1="293" x2="0" y2="484"><stop offset="0.002618" stop-color="#3affc5"/><stop offset="0.02356" stop-color="#0ff"/><stop offset="0.09686" stop-color="#0059ff"/><stop offset="0.1387" stop-color="#0030ff"/><stop offset="0.4843" stop-color="#0031ff"/><stop offset="0.5" stop-color="#0068ff"/><stop offset="0.5105" stop-color="#003bff"/><stop offset="0.5262" stop-color="#002eff"/><stop offset="0.9974" stop-color="#0042ff"/></linearGradient>
<linearGradient id="b190" gradientUnits="userSpaceOnUse" x1="0" y1="293" x2="0" y2="484"><stop offset="0.002618" stop-color="#3affc5"/><stop offset="0.0288" stop-color="#00fbff"/><stop offset="0.1073" stop-color="#0054ff"/><stop offset="0.1492" stop-color="#0030ff"/><stop offset="0.4843" stop-color="#0031ff"/><stop offset="0.5" stop-color="#0068ff"/><stop offset="0.5105" stop-color="#003bff"/><stop offset="0.5262" stop-color="#002eff"/><stop offset="0.9974" stop-color="#0042ff"/></linearGradient>
<linearGradient id="b191" gradientUnits="userSpaceOnUse" x1="0" y1="293" x2="0" y2="484"><stop offset="0.002618" stop-color="#3affc5"/><stop offset="0.0288" stop-color="#01fffe"/><stop offset="0.1126" stop-color="#0058ff"/><stop offset="0.1545" stop-color="#0031ff"/><stop offset="0.4843" stop-color="#0031ff"/><stop offset="0.5" stop-color="#0068ff"/><stop offset="0.5105" stop-color="#003bff"/><stop offset="0.5262" stop-color="#002eff"/><stop offset="0.9974" stop-color="#0042ff"/></linearGradient>
<linearGradient id="b192" gradientUnits="userSpaceOnUse" x1="0" y1="293" x2="0" y2="484"><stop offset="0.002618" stop-color="#3affc5"/><stop offset="0.0288" stop-color="#02fffd"/><stop offset="0.07592" stop-color="#00adff"/><stop offset="0.123" stop-color="#05f"/><stop offset="0.1649" stop-color="#0030ff"/><stop offset="0.4843" stop-color="#0031ff"/><stop offset="0.5" stop-color="#0068ff"/><stop offset="0.5105" stop-color="#003bff"/><stop offset="0.5262" stop-color="#002eff"/><stop offset="0.9974" stop-color="#0042ff"/></linearGradient>
<linearGradient id="b193" gradientUnits="userSpaceOnUse" x1="0" y1="293" x2="0" y2="484"><stop offset="0.002618" stop-color="#3affc5"/><stop offset="0.0288" stop-color="#02fffd"/><stop offset="0.07068" stop-color="#00c5ff"/><stop offset="0.123" stop-color="#0060ff"/><stop offset="0.1702" stop-color="#0031ff"/><stop offset="0.4843" stop-color="#0031ff"/><stop offset="0.5" stop-color="#0068ff"/><stop offset="0.5105" stop-color="#003bff"/><stop offset="0.5262" stop-color="#002eff"/><stop offset="0.9974" stop-color="#0042ff"/></linearGradient>
<linearGradient id="b194" gradientUnits="userSpaceOnUse" x1="0" y1="293" x2="0" y2="484"><stop offset="0.002618" stop-color="#3affc5"/><stop offset="0.0288" stop-color="#02fffd"/><stop offset="0.07592" stop-color="#00c3ff"/><stop offset="0.1335" stop-color="#005cff"/><stop offset="0.1806" stop-color="#0031ff"/><stop offset="0.4843" stop-color="#0031ff"/><stop offset="0.5" stop-color="#0068ff"/><stop offset="0.5105" stop-color="#003bff"/><stop offset="0.5262" stop-color="#002eff"/><stop offset="0.9974" stop-color="#0042ff"/></linearGradient>
<linearGradient id="b195" gradientUnits="userSpaceOnUse" x1="0" y1="293" x2="0" y2="484"><stop offset="0.002618" stop-color="#3affc5"/><stop offset="0.0288" stop-color="#02fffd"/><stop offset="0.08115" stop-color="#00c2ff"/><stop offset="0.1492" stop-color="#0052ff"/><stop offset="0.1963" stop-color="#002fff"/><stop offset="0.4843" stop-color="#0031ff"/><stop offset="0.5" stop-color="#0068ff"/><stop offset="0.5105" stop-color="#003bff"/><stop offset="0.5262" stop-color="#002eff"/><stop offset="0.9974" stop-color="#0042ff"/></linearGradient>
<linearGradient id="b196" gradientUnits="userSpaceOnUse" x1="0" y1="293" x2="0" y2="484"><stop offset="0.002618" stop-color="#3affc5"/><stop offset="0.0288" stop-color="#02fffd"/><stop offset="0.08639" stop-color="#00bfff"/><stop offset="0.1649" stop-color="#0049ff"/><stop offset="0.212" stop-color="#002eff"/><stop offset="0.4843" stop-color="#0031ff"/><stop offset="0.5" stop-color="#0068ff"/><stop offset="0.5105" stop-color="#003bff"/><stop offset="0.5262" stop-color="#002eff"/><stop offset="0.9974" stop-color="#0042ff"/></linearGradient>
<linearGradient id="b197" gradientUnits="userSpaceOnUse" x1="0" y1="293" x2="0" y2="484"><stop offset="0.002618" stop-color="#3affc5"/><stop offset="0.0288" stop-color="#02fffd"/><stop offset="0.1021" stop-color="#00adff"/><stop offset="0.1806" stop-color="#0041ff"/><stop offset="0.2277" stop-color="#002eff"/><stop offset="0.4843" stop-color="#0031ff"/><stop offset="0.5" stop-color="#0068ff"/><stop offset="0.5105" stop-color="#003bff"/><stop offset="0.5262" stop-color="#002eff"/><stop offset="0.9974" stop-color="#0042ff"/></linearGradient>
<linearGradient id="b198" gradientUnits="userSpaceOnUse" x1="0" y1="293" x2="0" y2="484"><stop offset="0.002618" stop-color="#3affc5"/><stop offset="0.0288" stop-color="#02fffd"/><stop offset="0.1178" stop-color="#009eff"/><stop offset="0.1963" stop-color="#003bff"/><stop offset="0.2592" stop-color="#002eff"/><stop offset="0.4843" stop-color="#0031ff"/><stop offset="0.5" stop-color="#0068ff"/><stop offset="0.5105" stop-color="#003bff"/><stop offset="0.5262" stop-color="#002eff"/><stop offset="0.9974" stop-color="#0042ff"/></linearGradient>
<linearGradient id="b199" gradientUnits="userSpaceOnUse" x1="0" y1="293" x2="0" y2="484"><stop offset="0.002618" stop-color="#3affc5"/><stop offset="0.0288" stop-color="#02fffd"/><stop offset="0.1387" stop-color="#008aff"/><stop offset="0.2068" stop-color="#003aff"/><stop offset="0.2801" stop-color="#002eff"/><stop offset="0.4843" stop-color="#0031ff"/><stop offset="0.5" stop-color="#0068ff"/><stop offset="0.5105" stop-color="#003bff"/><stop offset="0.5262" stop-color="#002eff"/><stop offset="0.9974" stop-color="#0042ff"/></linearGradient>
<linearGradient id="b200" gradientUnits="userSpaceOnUse" x1="0" y1="293" x2="0" y2="484"><stop offset="0.002618" stop-color="#3affc5"/><stop offset="0.0288" stop-color="#02fffd"/><stop offset="0.1492" stop-color="#0085ff"/><stop offset="0.2173" stop-color="#0038ff"/><stop offset="0.3063" stop-color="#002eff"/><stop offset="0.4843" stop-color="#0031ff"/><stop offset="0.5" stop-color="#0068ff"/><stop offset="0.5105" stop-color="#003bff"/><stop offset="0.5262" stop-color="#002eff"/><stop offset="0.9974" stop-color="#0042ff"/></linearGradient>
<linearGradient id="b201" gradientUnits="userSpaceOnUse" x1="0" y1="293" x2="0" y2="484"><stop offset="0.002618" stop-color="#3bffc4"/><stop offset="0.0288" stop-color="#02fffd"/><stop offset="0.1597" stop-color="#0080ff"/><stop offset="0.2225" stop-color="#003bff"/><stop offset="0.2906" stop-color="#002eff"/><stop offset="0.4843" stop-color="#0031ff"/><stop offset="0.5" stop-color="#0068ff"/><stop offset="0.5105" stop-color="#003bff"/><stop offset="0.5262" stop-color="#002eff"/><stop offset="0.9974" stop-color="#0042ff"/></linearGradient>
<linearGradient id="b202" gradientUnits="userSpaceOnUse" x1="0" y1="293" x2="0" y2="484"><stop offset="0.002618" stop-color="#3bffc4"/><stop offset="0.0288" stop-color="#03fffc"/><stop offset="0.123" stop-color="#00acff"/><stop offset="0.233" stop-color="#0039ff"/><stop offset="0.3168" stop-color="#002eff"/><stop offset="0.4843" stop-color="#0031ff"/><stop offset="0.5" stop-color="#0068ff"/><stop offset="0.5105" stop-color="#003bff"/><stop offset="0.5262" stop-color="#002eff"/><stop offset="0.9974" stop-color="#0042ff"/></linearGradient>
<linearGradient id="b203" gradientUnits="userSpaceOnUse" x1="0" y1="293" x2="0" y2="484"><stop offset="0.002618" stop-color="#3bffc4"/><stop offset="0.03403" stop-color="#00f9ff"/><stop offset="0.1283" stop-color="#0af"/><stop offset="0.1911" stop-color="#006aff"/><stop offset="0.2539" stop-color="#03f"/><stop offset="0.4843" stop-color="#0031ff"/><stop offset="0.5" stop-color="#0068ff"/><stop offset="0.5105" stop-color="#003bff"/><stop offset="0.5262" stop-color="#002eff"/><stop offset="0.9974" stop-color="#0042ff"/></linearGradient>
<linearGradient id="b204" gradientUnits="userSpaceOnUse" x1="0" y1="293" x2="0" y2="484"><stop offset="0.002618" stop-color="#3cffc3"/><stop offset="0.03403" stop-color="#00f9ff"/><stop offset="0.1283" stop-color="#0af"/><stop offset="0.1806" stop-color="#007fff"/><stop offset="0.2539" stop-color="#0037ff"/><stop offset="0.411" stop-color="#002eff"/><stop offset="0.4843" stop-color="#0031ff"/><stop offset="0.5" stop-color="#0068ff"/><stop offset="0.5105" stop-color="#003bff"/><stop offset="0.5262" stop-color="#002eff"/><stop offset="0.9974" stop-color="#0042ff"/></linearGradient>
<linearGradient id="b205" gradientUnits="userSpaceOnUse" x1="0" y1="293" x2="0" y2="484"><stop offset="0.002618" stop-color="#3dffc2"/><stop offset="0.03403" stop-color="#00faff"/><stop offset="0.1283" stop-color="#00abff"/><stop offset="0.1859" stop-color="#0081ff"/><stop offset="0.2644" stop-color="#0036ff"/><stop offset="0.4843" stop-color="#0031ff"/><stop offset="0.5" stop-color="#0068ff"/><stop offset="0.5105" stop-color="#003bff"/><stop offset="0.5262" stop-color="#002eff"/><stop offset="0.9974" stop-color="#0042ff"/></linearGradient>
<linearGradient id="b206" gradientUnits="userSpaceOnUse" x1="0" y1="293" x2="0" y2="484"><stop offset="0.002618" stop-color="#3effc1"/><stop offset="0.03403" stop-color="#00faff"/><stop offset="0.123" stop-color="#00aeff"/><stop offset="0.1859" stop-color="#08f"/><stop offset="0.2696" stop-color="#0038ff"/><stop offset="0.3901" stop-color="#002eff"/><stop offset="0.4843" stop-color="#0031ff"/><stop offset="0.5" stop-color="#0068ff"/><stop offset="0.5105" stop-color="#003bff"/><stop offset="0.5262" stop-color="#002eff"/><stop offset="0.9974" stop-color="#0042ff"/></linearGradient>
<linearGradient id="b207" gradientUnits="userSpaceOnUse" x1="0" y1="293" x2="0" y2="484"><stop offset="0.002618" stop-color="#40ffbf"/><stop offset="0.03403" stop-color="#00fbff"/><stop offset="0.123" stop-color="#00aeff"/><stop offset="0.1963" stop-color="#0083ff"/><stop offset="0.2853" stop-color="#0034ff"/><stop offset="0.4843" stop-color="#0031ff"/><stop offset="0.5" stop-color="#0068ff"/><stop offset="0.5105" stop-color="#003bff"/><stop offset="0.5262" stop-color="#002eff"/><stop offset="0.9974" stop-color="#0042ff"/></linearGradient>
<linearGradient id="b208" gradientUnits="userSpaceOnUse" x1="0" y1="293" x2="0" y2="484"><stop offset="0.002618" stop-color="#42ffbd"/><stop offset="0.03403" stop-color="#00fcff"/><stop offset="0.123" stop-color="#00afff"/><stop offset="0.2068" stop-color="#007fff"/><stop offset="0.2958" stop-color="#03f"/><stop offset="0.4843" stop-color="#0031ff"/><stop offset="0.5" stop-color="#0068ff"/><stop offset="0.5105" stop-color="#003bff"/><stop offset="0.5262" stop-color="#002eff"/><stop offset="0.9974" stop-color="#0042ff"/></linearGradient>
<linearGradient id="b209" gradientUnits="userSpaceOnUse" x1="0" y1="293" x2="0" y2="484"><stop offset="0.002618" stop-color="#4fb"/><stop offset="0.03403" stop-color="#00fcff"/><stop offset="0.123" stop-color="#00afff"/><stop offset="0.2173" stop-color="#007cff"/><stop offset="0.301" stop-color="#0035ff"/><stop offset="0.4843" stop-color="#0031ff"/><stop offset="0.5" stop-color="#0068ff"/><stop offset="0.5105" stop-color="#003bff"/><stop offset="0.5262" stop-color="#002eff"/><stop offset="0.9974" stop-color="#0042ff"/></linearGradient>
<linearGradient id="b210" gradientUnits="userSpaceOnUse" x1="0" y1="293" x2="0" y2="484"><stop offset="0.002618" stop-color="#47ffb8"/><stop offset="0.03403" stop-color="#00fdff"/><stop offset="0.123" stop-color="#00b0ff"/><stop offset="0.233" stop-color="#0074ff"/><stop offset="0.3115" stop-color="#0034ff"/><stop offset="0.4843" stop-color="#0031ff"/><stop offset="0.5" stop-color="#0068ff"/><stop offset="0.5105" stop-color="#003bff"/><stop offset="0.5262" stop-color="#002eff"/><stop offset="0.9974" stop-color="#0042ff"/></linearGradient>
<linearGradient id="b211" gradientUnits="userSpaceOnUse" x1="0" y1="293" x2="0" y2="484"><stop offset="0.002618" stop-color="#4affb5"/><stop offset="0.03403" stop-color="#00feff"/><stop offset="0.123" stop-color="#00b0ff"/><stop offset="0.2382" stop-color="#0075ff"/><stop offset="0.322" stop-color="#03f"/><stop offset="0.4843" stop-color="#0031ff"/><stop offset="0.5" stop-color="#0068ff"/><stop offset="0.5105" stop-color="#003bff"/><stop offset="0.5262" stop-color="#002eff"/><stop offset="0.9974" stop-color="#0042ff"/></linearGradient>
<linearGradient id="b212" gradientUnits="userSpaceOnUse" x1="0" y1="293" x2="0" y2="484"><stop offset="0.002618" stop-color="#4dffb2"/><stop offset="0.03403" stop-color="#01fffe"/><stop offset="0.123" stop-color="#00b1ff"/><stop offset="0.2487" stop-color="#0073ff"/><stop offset="0.3325" stop-color="#03f"/><stop offset="0.4843" stop-color="#0031ff"/><stop offset="0.5" stop-color="#0068ff"/><stop offset="0.5105" stop-color="#003bff"/><stop offset="0.5262" stop-color="#002eff"/><stop offset="0.9974" stop-color="#0042ff"/></linearGradient>
<linearGradient id="b213" gradientUnits="userSpaceOnUse" x1="0" y1="293" x2="0" y2="484"><stop offset="0.002618" stop-color="#52ffad"/><stop offset="0.03403" stop-color="#03fffc"/><stop offset="0.123" stop-color="#00b2ff"/><stop offset="0.2592" stop-color="#0073ff"/><stop offset="0.3429" stop-color="#0034ff"/><stop offset="0.4843" stop-color="#0031ff"/><stop offset="0.5" stop-color="#0068ff"/><stop offset="0.5105" stop-color="#003bff"/><stop offset="0.5262" stop-color="#002eff"/><stop offset="0.9974" stop-color="#0042ff"/></linearGradient>
<linearGradient id="b214" gradientUnits="userSpaceOnUse" x1="0" y1="293" x2="0" y2="484"><stop offset="0.002618" stop-color="#5affa5"/><stop offset="0.0288" stop-color="#17ffe8"/><stop offset="0.03927" stop-color="#00faff"/><stop offset="0.1283" stop-color="#00b1ff"/><stop offset="0.2801" stop-color="#006dff"/><stop offset="0.3639" stop-color="#0032ff"/><stop offset="0.4843" stop-color="#0031ff"/><stop offset="0.5" stop-color="#0068ff"/><stop offset="0.5105" stop-color="#003bff"/><stop offset="0.5262" stop-color="#002eff"/><stop offset="0.9974" stop-color="#0042ff"/></linearGradient>
<linearGradient id="b215" gradientUnits="userSpaceOnUse" x1="0" y1="293" x2="0" y2="484"><stop offset="0.002618" stop-color="#62ff9d"/><stop offset="0.0288" stop-color="#1dffe2"/><stop offset="0.03927" stop-color="#00fcff"/><stop offset="0.1283" stop-color="#00b3ff"/><stop offset="0.2958" stop-color="#006cff"/><stop offset="0.3848" stop-color="#0031ff"/><stop offset="0.4843" stop-color="#0031ff"/><stop offset="0.5" stop-color="#0068ff"/><stop offset="0.5105" stop-color="#003bff"/><stop offset="0.5262" stop-color="#002eff"/><stop offset="0.9974" stop-color="#0042ff"/></linearGradient>
<linearGradient id="b216" gradientUnits="userSpaceOnUse" x1="0" y1="293" x2="0" y2="484"><stop offset="0.002618" stop-color="#6aff95"/><stop offset="0.02356" stop-color="#36ffc9"/><stop offset="0.03927" stop-color="#00feff"/><stop offset="0.1283" stop-color="#00b5ff"/><stop offset="0.3168" stop-color="#06f"/><stop offset="0.4005" stop-color="#0031ff"/><stop offset="0.4843" stop-color="#0031ff"/><stop offset="0.5" stop-color="#0068ff"/><stop offset="0.5105" stop-color="#003bff"/><stop offset="0.5262" stop-color="#002eff"/><stop offset="0.9974" stop-color="#0042ff"/></linearGradient>
<linearGradient id="b217" gradientUnits="userSpaceOnUse" x1="0" y1="293" x2="0" y2="484"><stop offset="0.002618" stop-color="#73ff8c"/><stop offset="0.02356" stop-color="#3effc1"/><stop offset="0.03927" stop-color="#01fffe"/><stop offset="0.1283" stop-color="#00b6ff"/><stop offset="0.3325" stop-color="#0065ff"/><stop offset="0.4162" stop-color="#0031ff"/><stop offset="0.4843" stop-color="#0031ff"/><stop offset="0.5" stop-color="#0068ff"/><stop offset="0.5105" stop-color="#003bff"/><stop offset="0.5262" stop-color="#002eff"/><stop offset="0.9974" stop-color="#0042ff"/></linearGradient>
<linearGradient id="b218" gradientUnits="userSpaceOnUse" x1="0" y1="293" x2="0" y2="484"><stop offset="0.002618" stop-color="#7cff83"/><stop offset="0.02356" stop-color="#45ffba"/><stop offset="0.03927" stop-color="#04fffb"/><stop offset="0.1283" stop-color="#00b8ff"/><stop offset="0.3534" stop-color="#0060ff"/><stop offset="0.4267" stop-color="#0032ff"/><stop offset="0.4843" stop-color="#0031ff"/><stop offset="0.5" stop-color="#0068ff"/><stop offset="0.5105" stop-color="#003bff"/><stop offset="0.5262" stop-color="#002eff"/><stop offset="0.9974" stop-color="#0042ff"/></linearGradient>
<linearGradient id="b219" gradientUnits="userSpaceOnUse" x1="0" y1="293" x2="0" y2="484"><stop offset="0.002618" stop-color="#84ff7b"/><stop offset="0.02356" stop-color="#4cffb3"/><stop offset="0.03927" stop-color="#06fff9"/><stop offset="0.1335" stop-color="#00b7ff"/><stop offset="0.3691" stop-color="#005dff"/><stop offset="0.4372" stop-color="#03f"/><stop offset="0.4843" stop-color="#0031ff"/><stop offset="0.5" stop-color="#0068ff"/><stop offset="0.5105" stop-color="#003bff"/><stop offset="0.5262" stop-color="#002eff"/><stop offset="0.9974" stop-color="#0042ff"/></linearGradient>
<linearGradient id="b220" gradientUnits="userSpaceOnUse" x1="0" y1="293" x2="0" y2="484"><stop offset="0.002618" stop-color="#8cff73"/><stop offset="0.01832" stop-color="#69ff96"/><stop offset="0.03927" stop-color="#09fff6"/><stop offset="0.09686" stop-color="#00cfff"/><stop offset="0.2539" stop-color="#008bff"/><stop offset="0.3796" stop-color="#005dff"/><stop offset="0.4529" stop-color="#0032ff"/><stop offset="0.4843" stop-color="#0032ff"/><stop offset="0.5" stop-color="#0068ff"/><stop offset="0.5105" stop-color="#003bff"/><stop offset="0.5262" stop-color="#002eff"/><stop offset="0.9974" stop-color="#0042ff"/></linearGradient>
<linearGradient id="b221" gradientUnits="userSpaceOnUse" x1="0" y1="293" x2="0" y2="484"><stop offset="0.002618" stop-color="#95ff6a"/><stop offset="0.01832" stop-color="#72ff8d"/><stop offset="0.03927" stop-color="#0bfff4"/><stop offset="0.06545" stop-color="#00f0ff"/><stop offset="0.1283" stop-color="#00bdff"/><stop offset="0.322" stop-color="#0079ff"/><stop offset="0.4005" stop-color="#0054ff"/><stop offset="0.4738" stop-color="#0030ff"/><stop offset="0.4843" stop-color="#0032ff"/><stop offset="0.5" stop-color="#0068ff"/><stop offset="0.5105" stop-color="#003bff"/><stop offset="0.5262" stop-color="#002eff"/><stop offset="0.9974" stop-color="#0042ff"/></linearGradient>
<linearGradient id="b222" gradientUnits="userSpaceOnUse" x1="0" y1="293" x2="0" y2="484"><stop offset="0.002618" stop-color="#9eff61"/><stop offset="0.01832" stop-color="#7aff85"/><stop offset="0.03927" stop-color="#0ffff0"/><stop offset="0.06021" stop-color="#00f7ff"/><stop offset="0.1283" stop-color="#00c0ff"/><stop offset="0.322" stop-color="#007bff"/><stop offset="0.4267" stop-color="#0048ff"/><stop offset="0.4843" stop-color="#0034ff"/><stop offset="0.5" stop-color="#0069ff"/><stop offset="0.5105" stop-color="#003bff"/><stop offset="0.5262" stop-color="#002eff"/><stop offset="0.9974" stop-color="#0042ff"/></linearGradient>
<linearGradient id="b223" gradientUnits="userSpaceOnUse" x1="0" y1="293" x2="0" y2="484"><stop offset="0.002618" stop-color="#a8ff57"/><stop offset="0.01832" stop-color="#84ff7b"/><stop offset="0.03927" stop-color="#13ffec"/><stop offset="0.06021" stop-color="#00faff"/><stop offset="0.1283" stop-color="#00c3ff"/><stop offset="0.322" stop-color="#007eff"/><stop offset="0.4843" stop-color="#0037ff"/><stop offset="0.5" stop-color="#006aff"/><stop offset="0.5105" stop-color="#003bff"/><stop offset="0.5262" stop-color="#002eff"/><stop offset="0.9974" stop-color="#0042ff"/></linearGradient></defs>
<rect x="78" y="293" width="11" height="191" fill="url(#b0)"/>
<rect x="89" y="293" width="1" height="191" fill="url(#b1)"/>
<rect x="90" y="293" width="1" height="191" fill="url(#b2)"/>
<rect x="91" y="293" width="1" height="191" fill="url(#b3)"/>
<rect x="92" y="293" width="11" height="191" fill="url(#b4)"/>
<rect x="103" y="293" width="1" height="191" fill="url(#b5)"/>
<rect x="104" y="293" width="1" height="191" fill="url(#b6)"/>
<rect x="105" y="293" width="1" height="191" fill="url(#b7)"/>
<rect x="106" y="293" width="6" height="191" fill="url(#b8)"/>
<rect x="112" y="293" width="2" height="191" fill="url(#b9)"/>
<rect x="114" y="293" width="2" height="191" fill="url(#b10)"/>
<rect x="116" y="293" width="1" height="191" fill="url(#b11)"/>
<rect x="117" y="293" width="1" height="191" fill="url(#b12)"/>
<rect x="118" y="293" width="1" height="191" fill="url(#b13)"/>
<rect x="119" y="293" width="1" height="191" fill="url(#b14)"/>
<rect x="120" y="293" width="1" height="191" fill="url(#b15)"/>
<rect x="121" y="293" width="1" height="191" fill="url(#b16)"/>
<rect x="122" y="293" width="1" height="191" fill="url(#b17)"/>
<rect x="123" y="293" width="1" height="191" fill="url(#b18)"/>
<rect x="124" y="293" width="1" height="191" fill="url(#b19)"/>
<rect x="125" y="293" width="1" height="191" fill="url(#b20)"/>
<rect x="126" y="293" width="1" height="191" fill="url(#b21)"/>
<rect x="127" y="293" width="1" height="191" fill="url(#b22)"/>
<rect x="128" y="293" width="1" height="191" fill="url(#b23)"/>
<rect x="129" y="293" width="1" height="191" fill="url(#b24)"/>
<rect x="130" y="293" width="1" height="191" fill="url(#b25)"/>
<rect x="131" y="293" width="1" height="191" fill="url(#b26)"/>
<rect x="132" y="293" width="1" height="191" fill="url(#b27)"/>
<rect x="133" y="293" width="1" height="191" fill="url(#b28)"/>
<rect x="134" y="293" width="1" height="191" fill="url(#b29)"/>
<rect x="135" y="293" width="1" height="191" fill="url(#b30)"/>
<rect x="136" y="293" width="1" height="191" fill="url(#b31)"/>
<rect x="137" y="293" width="1" height="191" fill="url(#b32)"/>
<rect x="138" y="293" width="1" height="191" fill="url(#b33)"/>
<rect x="139" y="293" width="2" height="191" fill="url(#b34)"/>
<rect x="141" y="293" width="3" height="191" fill="url(#b35)"/>
<rect x="144" y="293" width="5" height="191" fill="url(#b36)"/>
<rect x="149" y="293" width="2" height="191" fill="url(#b37)"/>
<rect x="151" y="293" width="1" height="191" fill="url(#b38)"/>
<rect x="152" y="293" width="1" height="191" fill="url(#b39)"/>
<rect x="153" y="293" width="2" height="191" fill="url(#b40)"/>
<rect x="155" y="293" width="1" height="191" fill="url(#b41)"/>
<rect x="156" y="293" width="1" height="191" fill="url(#b42)"/>
<rect x="157" y="293" width="1" height="191" fill="url(#b43)"/>
<rect x="158" y="293" width="2" height="191" fill="url(#b44)"/>
<rect x="270" y="293" width="2" height="191" fill="url(#b45)"/>
<rect x="272" y="293" width="1" height="191" fill="url(#b46)"/>
<rect x="273" y="293" width="1" height="191" fill="url(#b47)"/>
<rect x="274" y="293" width="1" height="191" fill="url(#b48)"/>
<rect x="275" y="293" width="3" height="191" fill="url(#b49)"/>
<rect x="278" y="293" width="1" height="191" fill="url(#b50)"/>
<rect x="279" y="293" width="1" height="191" fill="url(#b51)"/>
<rect x="280" y="293" width="1" height="191" fill="url(#b52)"/>
<rect x="281" y="293" width="2" height="191" fill="url(#b53)"/>
<rect x="283" y="293" width="1" height="191" fill="url(#b54)"/>
<rect x="284" y="293" width="1" height="191" fill="url(#b55)"/>
<rect x="285" y="293" width="2" height="191" fill="url(#b56)"/>
<rect x="287" y="293" width="1" height="191" fill="url(#b57)"/>
<rect x="288" y="293" width="1" height="191" fill="url(#b58)"/>
<rect x="289" y="293" width="1" height="191" fill="url(#b59)"/>
<rect x="290" y="293" width="1" height="191" fill="url(#b60)"/>
<rect x="291" y="293" width="1" height="191" fill="url(#b61)"/>
<rect x="292" y="293" width="1" height="191" fill="url(#b62)"/>
<rect x="293" y="293" width="1" height="191" fill="url(#b63)"/>
<rect x="294" y="293" width="1" height="191" fill="url(#b64)"/>
<rect x="295" y="293" width="1" height="191" fill="url(#b65)"/>
<rect x="296" y="293" width="1" height="191" fill="url(#b66)"/>
<rect x="297" y="293" width="1" height="191" fill="url(#b67)"/>
<rect x="298" y="293" width="1" height="191" fill="url(#b68)"/>
<rect x="299" y="293" width="1" height="191" fill="url(#b69)"/>
<rect x="300" y="293" width="1" height="191" fill="url(#b70)"/>
<rect x="301" y="293" width="1" height="191" fill="url(#b71)"/>
<rect x="302" y="293" width="1" height="191" fill="url(#b72)"/>
<rect x="303" y="293" width="1" height="191" fill="url(#b73)"/>
<rect x="304" y="293" width="1" height="191" fill="url(#b74)"/>
<rect x="305" y="293" width="1" height="191" fill="url(#b75)"/>
<rect x="306" y="293" width="1" height="191" fill="url(#b76)"/>
<rect x="307" y="293" width="1" height="191" fill="url(#b77)"/>
<rect x="308" y="293" width="1" height="191" fill="url(#b78)"/>
<rect x="309" y="293" width="1" height="191" fill="url(#b79)"/>
<rect x="310" y="293" width="1" height="191" fill="url(#b80)"/>
<rect x="311" y="293" width="1" height="191" fill="url(#b81)"/>
<rect x="312" y="293" width="1" height="191" fill="url(#b82)"/>
<rect x="313" y="293" width="1" height="191" fill="url(#b83)"/>
<rect x="314" y="293" width="1" height="191" fill="url(#b84)"/>
<rect x="315" y="293" width="2" height="191" fill="url(#b85)"/>
<rect x="317" y="293" width="2" height="191" fill="url(#b86)"/>
<rect x="319" y="293" width="1" height="191" fill="url(#b87)"/>
<rect x="320" y="293" width="1" height="191" fill="url(#b88)"/>
<rect x="321" y="293" width="1" height="191" fill="url(#b89)"/>
<rect x="322" y="293" width="2" height="191" fill="url(#b90)"/>
<rect x="324" y="293" width="2" height="191" fill="url(#b91)"/>
<rect x="326" y="293" width="3" height="191" fill="url(#b92)"/>
<rect x="329" y="293" width="1" height="191" fill="url(#b93)"/>
<rect x="330" y="293" width="3" height="191" fill="url(#b94)"/>
<rect x="333" y="293" width="1" height="191" fill="url(#b95)"/>
<rect x="334" y="293" width="1" height="191" fill="url(#b96)"/>
<rect x="335" y="293" width="2" height="191" fill="url(#b97)"/>
<rect x="337" y="293" width="1" height="191" fill="url(#b98)"/>
<rect x="338" y="293" width="2" height="191" fill="url(#b99)"/>
<rect x="340" y="293" width="1" height="191" fill="url(#b100)"/>
<rect x="341" y="293" width="1" height="191" fill="url(#b101)"/>
<rect x="342" y="293" width="1" height="191" fill="url(#b102)"/>
<rect x="343" y="293" width="1" height="191" fill="url(#b103)"/>
<rect x="344" y="293" width="2" height="191" fill="url(#b104)"/>
<rect x="346" y="293" width="1" height="191" fill="url(#b105)"/>
<rect x="347" y="293" width="3" height="191" fill="url(#b106)"/>
<rect x="350" y="293" width="1" height="191" fill="url(#b107)"/>
<rect x="351" y="293" width="1" height="191" fill="url(#b108)"/>
<rect x="352" y="293" width="1" height="191" fill="url(#b109)"/>
<rect x="353" y="293" width="1" height="191" fill="url(#b110)"/>
<rect x="354" y="293" width="1" height="191" fill="url(#b111)"/>
<rect x="355" y="293" width="1" height="191" fill="url(#b112)"/>
<rect x="356" y="293" width="1" height="191" fill="url(#b113)"/>
<rect x="357" y="293" width="1" height="191" fill="url(#b114)"/>
<rect x="358" y="293" width="1" height="191" fill="url(#b115)"/>
<rect x="359" y="293" width="1" height="191" fill="url(#b116)"/>
<rect x="360" y="293" width="1" height="191" fill="url(#b117)"/>
<rect x="361" y="293" width="1" height="191" fill="url(#b118)"/>
<rect x="362" y="293" width="1" height="191" fill="url(#b119)"/>
<rect x="363" y="293" width="8" height="191" fill="url(#b120)"/>
<rect x="371" y="293" width="1" height="191" fill="url(#b121)"/>
<rect x="372" y="293" width="2" height="191" fill="url(#b122)"/>
<rect x="374" y="293" width="1" height="191" fill="url(#b123)"/>
<rect x="375" y="293" width="1" height="191" fill="url(#b124)"/>
<rect x="376" y="293" width="2" height="191" fill="url(#b125)"/>
<rect x="378" y="293" width="5" height="191" fill="url(#b126)"/>
<rect x="383" y="293" width="2" height="191" fill="url(#b127)"/>
<rect x="385" y="293" width="5" height="191" fill="url(#b128)"/>
<rect x="390" y="293" width="1" height="191" fill="url(#b129)"/>
<rect x="391" y="293" width="2" height="191" fill="url(#b130)"/>
<rect x="393" y="293" width="2" height="191" fill="url(#b131)"/>
<rect x="395" y="293" width="5" height="191" fill="url(#b132)"/>
<rect x="400" y="293" width="1" height="191" fill="url(#b133)"/>
<rect x="401" y="293" width="2" height="191" fill="url(#b134)"/>
<rect x="403" y="293" width="1" height="191" fill="url(#b135)"/>
<rect x="404" y="293" width="1" height="191" fill="url(#b136)"/>
<rect x="405" y="293" width="2" height="191" fill="url(#b137)"/>
<rect x="407" y="293" width="6" height="191" fill="url(#b138)"/>
<rect x="413" y="293" width="6" height="191" fill="url(#b139)"/>
<rect x="419" y="293" width="1" height="191" fill="url(#b140)"/>
<rect x="420" y="293" width="3" height="191" fill="url(#b141)"/>
<rect x="423" y="293" width="1" height="191" fill="url(#b142)"/>
<rect x="424" y="293" width="1" height="191" fill="url(#b143)"/>
<rect x="425" y="293" width="1" height="191" fill="url(#b144)"/>
<rect x="426" y="293" width="1" height="191" fill="url(#b145)"/>
<rect x="427" y="293" width="1" height="191" fill="url(#b146)"/>
<rect x="428" y="293" width="2" height="191" fill="url(#b147)"/>
<rect x="430" y="293" width="2" height="191" fill="url(#b148)"/>
<rect x="432" y="293" width="1" height="191" fill="url(#b149)"/>
<rect x="433" y="293" width="2" height="191" fill="url(#b150)"/>
<rect x="435" y="293" width="1" height="191" fill="url(#b151)"/>
<rect x="436" y="293" width="2" height="191" fill="url(#b152)"/>
<rect x="543" y="293" width="1" height="191" fill="url(#b153)"/>
<rect x="544" y="293" width="1" height="191" fill="url(#b154)"/>
<rect x="545" y="293" width="1" height="191" fill="url(#b155)"/>
<rect x="546" y="293" width="1" height="191" fill="url(#b156)"/>
<rect x="547" y="293" width="1" height="191" fill="url(#b157)"/>
<rect x="548" y="293" width="1" height="191" fill="url(#b158)"/>
<rect x="549" y="293" width="1" height="191" fill="url(#b159)"/>
<rect x="550" y="293" width="1" height="191" fill="url(#b160)"/>
<rect x="551" y="293" width="1" height="191" fill="url(#b161)"/>
<rect x="552" y="293" width="1" height="191" fill="url(#b162)"/>
<rect x="553" y="293" width="1" height="191" fill="url(#b163)"/>
<rect x="554" y="293" width="1" height="191" fill="url(#b164)"/>
<rect x="555" y="293" width="1" height="191" fill="url(#b165)"/>
<rect x="556" y="293" width="1" height="191" fill="url(#b166)"/>
<rect x="557" y="293" width="1" height="191" fill="url(#b167)"/>
<rect x="558" y="293" width="1" height="191" fill="url(#b168)"/>
<rect x="559" y="293" width="1" height="191" fill="url(#b169)"/>
<rect x="560" y="293" width="1" height="191" fill="url(#b170)"/>
<rect x="561" y="293" width="1" height="191" fill="url(#b171)"/>
<rect x="562" y="293" width="2" height="191" fill="url(#b172)"/>
<rect x="564" y="293" width="6" height="191" fill="url(#b173)"/>
<rect x="570" y="293" width="6" height="191" fill="url(#b174)"/>
<rect x="576" y="293" width="1" height="191" fill="url(#b175)"/>
<rect x="577" y="293" width="1" height="191" fill="url(#b176)"/>
<rect x="578" y="293" width="1" height="191" fill="url(#b177)"/>
<rect x="579" y="293" width="1" height="191" fill="url(#b178)"/>
<rect x="580" y="293" width="1" height="191" fill="url(#b179)"/>
<rect x="581" y="293" width="1" height="191" fill="url(#b180)"/>
<rect x="582" y="293" width="1" height="191" fill="url(#b181)"/>
<rect x="583" y="293" width="1" height="191" fill="url(#b182)"/>
<rect x="584" y="293" width="1" height="191" fill="url(#b183)"/>
<rect x="585" y="293" width="1" height="191" fill="url(#b184)"/>
<rect x="586" y="293" width="1" height="191" fill="url(#b185)"/>
<rect x="587" y="293" width="1" height="191" fill="url(#b186)"/>
<rect x="588" y="293" width="1" height="191" fill="url(#b187)"/>
<rect x="589" y="293" width="1" height="191" fill="url(#b188)"/>
<rect x="590" y="293" width="1" height="191" fill="url(#b189)"/>
<rect x="591" y="293" width="1" height="191" fill="url(#b190)"/>
<rect x="592" y="293" width="1" height="191" fill="url(#b191)"/>
<rect x="593" y="293" width="1" height="191" fill="url(#b192)"/>
<rect x="594" y="293" width="1" height="191" fill="url(#b193)"/>
<rect x="595" y="293" width="1" height="191" fill="url(#b194)"/>
<rect x="596" y="293" width="1" height="191" fill="url(#b195)"/>
<rect x="597" y="293" width="1" height="191" fill="url(#b196)"/>
<rect x="598" y="293" width="1" height="191" fill="url(#b197)"/>
<rect x="599" y="293" width="1" height="191" fill="url(#b198)"/>
<rect x="600" y="293" width="1" height="191" fill="url(#b199)"/>
<rect x="601" y="293" width="1" height="191" fill="url(#b200)"/>
<rect x="602" y="293" width="1" height="191" fill="url(#b201)"/>
<rect x="603" y="293" width="1" height="191" fill="url(#b202)"/>
<rect x="604" y="293" width="1" height="191" fill="url(#b203)"/>
<rect x="605" y="293" width="1" height="191" fill="url(#b204)"/>
<rect x="606" y="293" width="1" height="191" fill="url(#b205)"/>
<rect x="607" y="293" width="1" height="191" fill="url(#b206)"/>
<rect x="608" y="293" width="1" height="191" fill="url(#b207)"/>
<rect x="609" y="293" width="1" height="191" fill="url(#b208)"/>
<rect x="610" y="293" width="1" height="191" fill="url(#b209)"/>
<rect x="611" y="293" width="1" height="191" fill="url(#b210)"/>
<rect x="612" y="293" width="1" height="191" fill="url(#b211)"/>
<rect x="613" y="293" width="1" height="191" fill="url(#b212)"/>
<rect x="614" y="293" width="2" height="191" fill="url(#b213)"/>
<rect x="616" y="293" width="2" height="191" fill="url(#b214)"/>
<rect x="618" y="293" width="2" height="191" fill="url(#b215)"/>
<rect x="620" y="293" width="2" height="191" fill="url(#b216)"/>
<rect x="622" y="293" width="2" height="191" fill="url(#b217)"/>
<rect x="624" y="293" width="2" height="191" fill="url(#b218)"/>
<rect x="626" y="293" width="2" height="191" fill="url(#b219)"/>
<rect x="628" y="293" width="2" height="191" fill="url(#b220)"/>
<rect x="630" y="293" width="3" height="191" fill="url(#b221)"/>
<rect x="633" y="293" width="3" height="191" fill="url(#b222)"/>
<rect x="636" y="293" width="11" height="191" fill="url(#b223)"/>
<path fill="#ff8b00" d="M554 143h1v8h-1zM557 189h1v3h-1zM545 82h1v3h-1zM557 108h1v3h-1zM552 212h1v2h-1zM557 133h1v5h-1zM556 103h1v8h-1zM545 157h1v4h-1zM557 212h1v2h-1zM551 139h1v4h-1zM545 151h1v5h-1zM552 171h1v8h-1zM545 232h1v4h-1zM550 183h1v8h-1zM552 96h1v3h-1zM546 400h1v4h-1zM545 390h1v6h-1zM551 406h1v3h-1zM556 368h1v3h-1zM551 340h1v8h-1zM547 307h1v8h-1zM546 454h1v3h-1zM556 314h1v4h-1zM550 342h1v5h-1zM548 411h1v5h-1zM547 455h1v8h-1zM556 422h1v3h-1zM558 403h1v6h-1zM546 309h1v2h-1zM547 358h1v2h-1zM547 342h1v2h-1zM545 381h1v3h-1zM555 333h1v6h-1zM550 338h1v3h-1zM544 363h1v4h-1zM551 462h1v2h-1zM546 303h1v8h-1zM546 475h1v5h-1zM557 297h1v2h-1zM545 365h1v3h-1zM555 354h1v4h-1z"/>
<path fill="#ffc100" d="M553 94h1v8h-1zM552 169h1v2h-1zM546 77h1v3h-1zM552 61h1v3h-1zM545 217h1v4h-1zM546 139h1v2h-1zM556 215h1v4h-1zM555 213h1v6h-1zM549 133h1v3h-1zM545 58h1v3h-1zM545 52h1v8h-1zM555 232h1v6h-1zM547 79h1v3h-1zM544 147h1v8h-1zM544 60h1v3h-1zM543 168h1v5h-1zM545 185h1v8h-1zM549 142h1v4h-1zM555 142h1v4h-1zM151 390h1v8h-1zM158 400h1v6h-1zM157 453h1v6h-1zM150 442h1v4h-1zM157 336h1v5h-1zM155 383h1v5h-1zM157 318h1v3h-1zM157 430h1v3h-1zM150 478h1v5h-1zM151 369h1v4h-1zM156 451h1v4h-1zM549 335h1v6h-1zM551 452h1v2h-1zM547 371h1v4h-1zM552 308h1v3h-1zM543 364h1v6h-1zM547 449h1v2h-1zM554 408h1v6h-1zM554 424h1v6h-1zM547 389h1v8h-1zM548 379h1v5h-1zM557 382h1v4h-1zM547 465h1v3h-1z"/>
<path fill="#ffd300" d="M555 157h1v3h-1zM548 204h1v3h-1zM546 155h1v6h-1zM548 191h1v8h-1zM554 132h1v8h-1zM553 145h1v5h-1zM546 95h1v3h-1zM544 181h1v3h-1zM556 56h1v8h-1zM549 83h1v6h-1zM551 176h1v3h-1zM544 156h1v8h-1zM552 113h1v5h-1zM544 123h1v3h-1zM552 94h1v2h-1zM555 171h1v5h-1zM553 130h1v3h-1zM543 134h1v5h-1zM547 171h1v3h-1zM544 228h1v3h-1zM553 87h1v3h-1zM547 142h1v4h-1zM543 363h1v6h-1zM555 410h1v3h-1zM543 472h1v4h-1zM544 416h1v4h-1zM544 382h1v8h-1zM555 349h1v8h-1zM549 367h1v8h-1zM553 425h1v4h-1zM547 303h1v2h-1zM545 372h1v2h-1zM546 350h1v6h-1zM547 320h1v6h-1z"/>
<path fill="#ffe400" d="M557 229h1v6h-1zM550 150h1v3h-1zM552 234h1v2h-1zM552 235h1v3h-1zM544 159h1v8h-1zM548 187h1v8h-1zM547 193h1v3h-1zM545 148h1v3h-1zM553 209h1v2h-1zM545 116h1v8h-1zM556 198h1v8h-1zM545 52h1v3h-1zM546 168h1v8h-1zM548 112h1v5h-1zM552 162h1v2h-1zM547 150h1v8h-1zM547 139h1v3h-1zM553 211h1v5h-1zM552 170h1v4h-1zM159 293h1v9h-1zM154 443h1v5h-1zM157 370h1v3h-1zM153 364h1v3h-1zM155 472h1v5h-1zM152 458h1v8h-1zM151 347h1v3h-1zM154 342h1v8h-1zM151 399h1v6h-1zM154 333h1v6h-1zM545 468h1v3h-1zM553 464h1v2h-1zM544 456h1v3h-1zM557 326h1v2h-1zM543 455h1v2h-1zM558 353h1v2h-1zM552 390h1v2h-1zM553 480h1v3h-1zM547 405h1v6h-1zM547 412h1v8h-1zM548 372h1v3h-1zM548 395h1v6h-1zM557 454h1v5h-1zM545 338h1v8h-1zM554 376h1v8h-1zM546 471h1v2h-1zM549 429h1v6h-1zM546 461h1v3h-1zM545 349h1v3h-1z"/>
<path fill="#fff600" d="M552 207h1v8h-1zM552 48h1v5h-1zM546 68h1v2h-1zM553 200h1v2h-1zM547 53h1v2h-1zM546 75h1v6h-1zM551 123h1v5h-1zM543 147h1v2h-1zM552 159h1v4h-1zM552 202h1v5h-1zM555 212h1v5h-1zM546 100h1v2h-1zM544 189h1v3h-1zM553 210h1v3h-1zM555 215h1v4h-1zM545 142h1v4h-1zM155 293h1v6h-1zM157 396h1v4h-1zM150 411h1v2h-1zM156 470h1v8h-1zM155 334h1v3h-1zM156 389h1v5h-1zM156 402h1v5h-1zM155 313h1v5h-1zM151 358h1v8h-1zM156 470h1v8h-1zM547 337h1v5h-1zM545 362h1v3h-1zM546 453h1v3h-1zM557 362h1v4h-1zM556 348h1v5h-1zM553 303h1v5h-1zM548 479h1v4h-1zM546 305h1v8h-1zM553 300h1v6h-1zM545 416h1v8h-1zM555 400h1v3h-1zM546 389h1v5h-1zM546 472h1v2h-1zM550 349h1v8h-1zM544 440h1v8h-1zM545 466h1v4h-1zM558 425h1v4h-1z"/>
<path fill="#60ff9f" d="M547 198h1v4h-1zM544 123h1v8h-1zM554 166h1v8h-1zM552 74h1v5h-1zM544 232h1v6h-1zM544 92h1v2h-1zM552 233h1v3h-1zM552 216h1v6h-1zM550 171h1v6h-1zM549 57h1v3h-1zM547 165h1v6h-1zM548 117h1v3h-1zM545 207h1v5h-1zM547 145h1v8h-1zM552 171h1v5h-1zM551 172h1v2h-1zM555 206h1v3h-1zM547 61h1v6h-1zM157 395h1v6h-1zM155 468h1v8h-1zM153 376h1v5h-1zM150 343h1v8h-1zM155 358h1v2h-1zM154 447h1v6h-1zM150 427h1v4h-1zM157 412h1v8h-1zM547 307h1v4h-1zM556 375h1v6h-1zM545 406h1v2h-1zM543 322h1v4h-1zM550 448h1v5h-1zM545 335h1v3h-1zM556 305h1v3h-1zM548 318h1v3h-1zM545 315h1v4h-1zM554 412h1v6h-1zM556 424h1v4h-1zM553 368h1v8h-1zM555 448h1v8h-1zM555 473h1v6h-1zM552 330h1v3h-1zM552 441h1v2h-1zM543 372h1v6h-1zM545 412h1v4h-1z"/>
<path fill="#b5ff4a" d="M553 90h1v3h-1zM552 202h1v4h-1zM556 207h1v3h-1zM555 229h1v3h-1zM547 211h1v2h-1zM552 71h1v4h-1zM557 183h1v3h-1zM544 60h1v6h-1zM547 189h1v2h-1zM552 112h1v5h-1zM555 114h1v3h-1zM554 86h1v8h-1zM546 203h1v3h-1zM545 222h1v8h-1zM543 209h1v6h-1zM545 128h1v6h-1zM545 227h1v3h-1zM544 474h1v8h-1zM557 465h1v5h-1zM552 403h1v2h-1zM543 327h1v4h-1zM555 460h1v8h-1zM545 302h1v6h-1zM545 337h1v5h-1zM547 411h1v5h-1zM557 461h1v3h-1zM550 378h1v4h-1zM555 353h1v6h-1zM550 380h1v4h-1zM550 334h1v2h-1z"/>
<path fill="#f4ff0b" d="M546 65h1v4h-1zM550 166h1v4h-1zM545 194h1v3h-1zM550 195h1v4h-1zM547 80h1v3h-1zM552 142h1v4h-1zM546 198h1v3h-1zM543 167h1v5h-1zM557 180h1v5h-1zM546 158h1v3h-1zM549 80h1v6h-1zM547 211h1v4h-1zM548 64h1v8h-1zM545 67h1v3h-1zM555 103h1v6h-1zM546 87h1v5h-1zM553 142h1v4h-1zM158 293h1v10h-1zM543 362h1v6h-1zM547 443h1v3h-1zM555 394h1v5h-1zM543 445h1v4h-1zM556 443h1v3h-1zM546 358h1v5h-1zM547 331h1v8h-1zM550 354h1v2h-1zM555 314h1v3h-1zM556 385h1v5h-1zM557 375h1v8h-1zM548 346h1v3h-1zM550 331h1v5h-1zM555 425h1v8h-1zM545 423h1v5h-1zM549 445h1v2h-1z"/>
<path fill="#00f7ff" d="M550 161h1v6h-1zM555 166h1v3h-1zM550 215h1v6h-1zM547 207h1v4h-1zM556 222h1v4h-1zM552 167h1v6h-1zM552 226h1v8h-1zM552 228h1v8h-1zM546 178h1v3h-1zM554 234h1v4h-1zM550 124h1v2h-1zM555 218h1v8h-1zM543 147h1v3h-1zM549 178h1v6h-1zM552 217h1v8h-1zM547 129h1v3h-1zM546 119h1v2h-1zM158 450h1v16h-1zM159 452h1v32h-1zM149 442h1v20h-1zM275 293h1v3h-1zM270 404h1v36h-1zM558 359h1v6h-1zM556 341h1v6h-1zM546 372h1v4h-1zM558 375h1v3h-1zM549 421h1v2h-1zM546 343h1v5h-1zM553 319h1v8h-1zM551 339h1v3h-1zM554 332h1v4h-1zM557 303h1v8h-1zM545 446h1v4h-1zM547 450h1v5h-1zM544 390h1v2h-1zM544 342h1v2h-1zM556 411h1v2h-1zM547 333h1v2h-1zM544 459h1v3h-1z"/>
<path fill="#f40" d="M547 123h1v8h-1zM551 132h1v2h-1zM551 172h1v4h-1zM551 159h1v5h-1zM550 234h1v2h-1zM157 375h1v5h-1zM156 464h1v6h-1zM156 464h1v3h-1zM150 441h1v6h-1zM157 399h1v4h-1zM150 455h1v2h-1zM153 400h1v6h-1zM151 372h1v4h-1zM150 441h1v6h-1zM158 332h1v5h-1zM151 375h1v3h-1zM158 320h1v8h-1zM554 448h1v2h-1zM546 367h1v3h-1zM543 369h1v4h-1zM556 315h1v3h-1zM549 304h1v2h-1zM554 299h1v4h-1zM545 460h1v8h-1zM545 444h1v3h-1zM549 453h1v2h-1zM546 306h1v2h-1zM547 336h1v4h-1zM547 427h1v6h-1zM557 449h1v5h-1zM547 385h1v2h-1zM556 336h1v8h-1zM556 413h1v2h-1zM546 354h1v3h-1zM556 395h1v3h-1zM557 355h1v3h-1zM555 316h1v8h-1zM550 421h1v4h-1z"/>
<path fill="#ff5600" d="M550 59h1v4h-1zM545 106h1v2h-1zM552 136h1v4h-1zM556 88h1v3h-1zM554 84h1v8h-1zM548 109h1v8h-1zM553 192h1v8h-1zM547 234h1v4h-1zM552 51h1v3h-1zM552 220h1v4h-1zM157 388h1v3h-1zM150 455h1v3h-1zM154 384h1v5h-1zM157 328h1v8h-1zM150 315h1v3h-1zM546 312h1v3h-1zM545 461h1v3h-1zM549 307h1v3h-1zM557 354h1v2h-1zM550 362h1v5h-1zM544 438h1v3h-1zM556 365h1v3h-1zM557 458h1v3h-1zM549 478h1v5h-1zM548 351h1v2h-1zM555 347h1v8h-1zM554 365h1v3h-1zM545 424h1v4h-1zM553 419h1v8h-1zM547 437h1v5h-1zM549 305h1v3h-1zM553 454h1v3h-1zM545 304h1v6h-1zM547 301h1v4h-1z"/>
<path fill="#0000e0" d="M544 94h1v4h-1z"/>
<path fill="#0000d0" d="M546 100h1v3h-1zM545 127h1v5h-1zM551 136h1v4h-1zM270 470h1v8h-1z"/>
<path fill="#000" d="M547 166h1v3h-1zM157 326h1v7h-1zM157 351h1v5h-1zM270 400h1v4h-1zM271 398h1v6h-1zM334 411h1v4h-1zM547 398h1v6h-1z"/>
<path fill="#006cff" d="M547 182h1v4h-1zM548 232h1v4h-1zM157 343h1v7h-1zM155 376h1v4h-1zM157 455h1v5h-1zM150 456h1v6h-1zM284 300h2v6h-2zM270 440h1v30h-1z"/>
<path fill="#003eff" d="M546 224h1v5h-1z"/>
<path fill="#ff6800" d="M546 142h1v4h-1zM551 142h1v4h-1z"/>
<path fill="#8aff75" d="M552 142h1v4h-1zM156 420h1v6h-1zM273 386h1v4h-1z"/>
<path fill="#ff9d00" d="M557 142h1v4h-1zM152 396h1v4h-1zM155 422h1v3h-1zM156 404h1v3h-1zM158 416h1v3h-1zM153 432h1v2h-1zM157 328h1v5h-1z"/>
<path fill="#009bff" d="M157 318h1v8h-1zM158 318h1v11h-1z"/>
<path fill="#001fff" d="M156 322h1v6h-1zM152 386h1v4h-1zM159 440h1v6h-1z"/>
<path fill="#00d8ff" d="M150 386h1v4h-1zM149 466h1v18h-1zM150 470h1v8h-1z"/>
<path fill="#dfff20" d="M154 440h1v6h-1zM156 293h1v10h-1zM279 400h1v84h-1zM270 386h1v5h-1z"/>
<path fill="#007cff" d="M159 318h1v9h-1z"/>
<path fill="#caff35" d="M157 293h1v11h-1zM150 358h1v5h-1zM158 464h1v8h-1zM150 424h1v5h-1zM155 444h1v3h-1zM154 425h1v4h-1zM155 318h1v6h-1zM157 391h1v8h-1zM158 395h1v2h-1zM154 377h1v4h-1zM157 403h1v8h-1z"/>
<path fill="#00c9ff" d="M158 424h1v12h-1z"/>
<path fill="#00b9ff" d="M159 424h1v12h-1z"/>
<path fill="#002eff" d="M158 436h1v10h-1zM287 300h1v6h-1z"/>
<path fill="#0bfff4" d="M158 470h1v14h-1zM544 430h1v6h-1z"/>
<path fill="#75ff8a" d="M277 293h1v3h-1z"/>
<path fill="#4affb5" d="M271 470h1v14h-1zM546 360h1v4h-1zM549 372h1v5h-1z"/>
<path fill="#0000ef" d="M279 364h1v22h-1zM279 391h1v7h-1z"/>
<path fill="#00f" d="M548 470h1v6h-1z"/>
<rect x="76" y="27" width="573" height="1" fill="#fff"/>
<rect x="76" y="262" width="573" height="1" fill="#fff"/>
<rect x="76" y="27" width="2" height="236" fill="#fff"/>
<rect x="647" y="27" width="2" height="236" fill="#fff"/>
<rect x="78" y="251" width="11" height="1" fill="#fff"/>
<rect x="637" y="251" width="10" height="1" fill="#fff"/>
<rect x="78" y="240" width="6" height="1" fill="#fff"/>
<rect x="642" y="240" width="5" height="1" fill="#fff"/>
<rect x="78" y="230" width="6" height="1" fill="#fff"/>
<rect x="642" y="230" width="5" height="1" fill="#fff"/>
<rect x="78" y="219" width="6" height="1" fill="#fff"/>
<rect x="642" y="219" width="5" height="1" fill="#fff"/>
<rect x="78" y="208" width="6" height="1" fill="#fff"/>
<rect x="642" y="208" width="5" height="1" fill="#fff"/>
<rect x="78" y="198" width="11" height="1" fill="#fff"/>
<rect x="637" y="198" width="10" height="1" fill="#fff"/>
<rect x="78" y="187" width="6" height="1" fill="#fff"/>
<rect x="642" y="187" width="5" height="1" fill="#fff"/>
<rect x="78" y="176" width="6" height="1" fill="#fff"/>
<rect x="642" y="176" width="5" height="1" fill="#fff"/>
<rect x="78" y="166" width="6" height="1" fill="#fff"/>
<rect x="642" y="166" width="5" height="1" fill="#fff"/>
<rect x="78" y="155" width="6" height="1" fill="#fff"/>
<rect x="642" y="155" width="5" height="1" fill="#fff"/>
<rect x="78" y="144" width="11" height="1" fill="#fff"/>
<rect x="637" y="144" width="10" height="1" fill="#fff"/>
<rect x="78" y="134" width="6" height="1" fill="#fff"/>
<rect x="642" y="134" width="5" height="1" fill="#fff"/>
<rect x="78" y="123" width="6" height="1" fill="#fff"/>
<rect x="642" y="123" width="5" height="1" fill="#fff"/>
<rect x="78" y="112" width="6" height="1" fill="#fff"/>
<rect x="642" y="112" width="5" height="1" fill="#fff"/>
<rect x="78" y="102" width="6" height="1" fill="#fff"/>
<rect x="642" y="102" width="5" height="1" fill="#fff"/>
<rect x="78" y="91" width="11" height="1" fill="#fff"/>
<rect x="637" y="91" width="10" height="1" fill="#fff"/>
<rect x="78" y="80" width="6" height="1" fill="#fff"/>
<rect x="642" y="80" width="5" height="1" fill="#fff"/>
<rect x="78" y="70" width="6" height="1" fill="#fff"/>
<rect x="642" y="70" width="5" height="1" fill="#fff"/>
<rect x="78" y="59" width="6" height="1" fill="#fff"/>
<rect x="642" y="59" width="5" height="1" fill="#fff"/>
<rect x="78" y="48" width="6" height="1" fill="#fff"/>
<rect x="642" y="48" width="5" height="1" fill="#fff"/>
<rect x="78" y="38" width="11" height="1" fill="#fff"/>
<rect x="637" y="38" width="10" height="1" fill="#fff"/>
<rect x="100" y="259" width="2" height="4" fill="#fff"/>
<rect x="100" y="27" width="2" height="3" fill="#fff"/>
<rect x="124" y="259" width="2" height="4" fill="#fff"/>
<rect x="124" y="27" width="2" height="3" fill="#fff"/>
<rect x="147" y="259" width="2" height="4" fill="#fff"/>
<rect x="147" y="27" width="2" height="3" fill="#fff"/>
<rect x="171" y="259" width="2" height="4" fill="#fff"/>
<rect x="171" y="27" width="2" height="3" fill="#fff"/>
<rect x="195" y="259" width="2" height="4" fill="#fff"/>
<rect x="195" y="27" width="2" height="3" fill="#fff"/>
<rect x="219" y="257" width="2" height="6" fill="#fff"/>
<rect x="219" y="27" width="2" height="5" fill="#fff"/>
<rect x="243" y="259" width="2" height="4" fill="#fff"/>
<rect x="243" y="27" width="2" height="3" fill="#fff"/>
<rect x="266" y="259" width="2" height="4" fill="#fff"/>
<rect x="266" y="27" width="2" height="3" fill="#fff"/>
<rect x="290" y="259" width="2" height="4" fill="#fff"/>
<rect x="290" y="27" width="2" height="3" fill="#fff"/>
<rect x="314" y="259" width="2" height="4" fill="#fff"/>
<rect x="314" y="27" width="2" height="3" fill="#fff"/>
<rect x="338" y="259" width="2" height="4" fill="#fff"/>
<rect x="338" y="27" width="2" height="3" fill="#fff"/>
<rect x="361" y="257" width="2" height="6" fill="#fff"/>
<rect x="361" y="27" width="2" height="5" fill="#fff"/>
<rect x="385" y="259" width="2" height="4" fill="#fff"/>
<rect x="385" y="27" width="2" height="3" fill="#fff"/>
<rect x="409" y="259" width="2" height="4" fill="#fff"/>
<rect x="409" y="27" width="2" height="3" fill="#fff"/>
<rect x="433" y="259" width="2" height="4" fill="#fff"/>
<rect x="433" y="27" width="2" height="3" fill="#fff"/>
<rect x="457" y="259" width="2" height="4" fill="#fff"/>
<rect x="457" y="27" width="2" height="3" fill="#fff"/>
<rect x="480" y="259" width="2" height="4" fill="#fff"/>
<rect x="480" y="27" width="2" height="3" fill="#fff"/>
<rect x="504" y="257" width="2" height="6" fill="#fff"/>
<rect x="504" y="27" width="2" height="5" fill="#fff"/>
<rect x="528" y="259" width="2" height="4" fill="#fff"/>
<rect x="528" y="27" width="2" height="3" fill="#fff"/>
<rect x="552" y="259" width="2" height="4" fill="#fff"/>
<rect x="552" y="27" width="2" height="3" fill="#fff"/>
<rect x="576" y="259" width="2" height="4" fill="#fff"/>
<rect x="576" y="27" width="2" height="3" fill="#fff"/>
<rect x="599" y="259" width="2" height="4" fill="#fff"/>
<rect x="599" y="27" width="2" height="3" fill="#fff"/>
<rect x="623" y="259" width="2" height="4" fill="#fff"/>
<rect x="623" y="27" width="2" height="3" fill="#fff"/>
<rect x="76" y="271" width="573" height="1" fill="#fff"/>
<rect x="76" y="506" width="573" height="1" fill="#fff"/>
<rect x="76" y="271" width="2" height="236" fill="#fff"/>
<rect x="647" y="271" width="2" height="236" fill="#fff"/>
<rect x="78" y="495" width="11" height="1" fill="#fff"/>
<rect x="637" y="495" width="10" height="1" fill="#fff"/>
<rect x="78" y="485" width="6" height="1" fill="#fff"/>
<rect x="642" y="485" width="5" height="1" fill="#fff"/>
<rect x="78" y="474" width="6" height="1" fill="#fff"/>
<rect x="642" y="474" width="5" height="1" fill="#fff"/>
<rect x="78" y="463" width="6" height="1" fill="#fff"/>
<rect x="642" y="463" width="5" height="1" fill="#fff"/>
<rect x="78" y="453" width="6" height="1" fill="#fff"/>
<rect x="642" y="453" width="5" height="1" fill="#fff"/>
<rect x="78" y="442" width="11" height="1" fill="#fff"/>
<rect x="637" y="442" width="10" height="1" fill="#fff"/>
<rect x="78" y="431" width="6" height="1" fill="#fff"/>
<rect x="642" y="431" width="5" height="1" fill="#fff"/>
<rect x="78" y="421" width="6" height="1" fill="#fff"/>
<rect x="642" y="421" width="5" height="1" fill="#fff"/>
<rect x="78" y="410" width="6" height="1" fill="#fff"/>
<rect x="642" y="410" width="5" height="1" fill="#fff"/>
<rect x="78" y="399" width="6" height="1" fill="#fff"/>
<rect x="642" y="399" width="5" height="1" fill="#fff"/>
<rect x="78" y="389" width="11" height="1" fill="#fff"/>
<rect x="637" y="389" width="10" height="1" fill="#fff"/>
<rect x="78" y="378" width="6" height="1" fill="#fff"/>
<rect x="642" y="378" width="5" height="1" fill="#fff"/>
<rect x="78" y="367" width="6" height="1" fill="#fff"/>
<rect x="642" y="367" width="5" height="1" fill="#fff"/>
<rect x="78" y="357" width="6" height="1" fill="#fff"/>
<rect x="642" y="357" width="5" height="1" fill="#fff"/>
<rect x="78" y="346" width="6" height="1" fill="#fff"/>
<rect x="642" y="346" width="5" height="1" fill="#fff"/>
<rect x="78" y="335" width="11" height="1" fill="#fff"/>
<rect x="637" y="335" width="10" height="1" fill="#fff"/>
<rect x="78" y="325" width="6" height="1" fill="#fff"/>
<rect x="642" y="325" width="5" height="1" fill="#fff"/>
<rect x="78" y="314" width="6" height="1" fill="#fff"/>
<rect x="642" y="314" width="5" height="1" fill="#fff"/>
<rect x="78" y="304" width="6" height="1" fill="#fff"/>
<rect x="642" y="304" width="5" height="1" fill="#fff"/>
<rect x="78" y="293" width="6" height="1" fill="#fff"/>
<rect x="642" y="293" width="5" height="1" fill="#fff"/>
<rect x="78" y="282" width="11" height="1" fill="#fff"/>
<rect x="637" y="282" width="10" height="1" fill="#fff"/>
<rect x="100" y="503" width="2" height="4" fill="#fff"/>
<rect x="100" y="271" width="2" height="3" fill="#fff"/>
<rect x="124" y="503" width="2" height="4" fill="#fff"/>
<rect x="124" y="271" width="2" height="3" fill="#fff"/>
<rect x="147" y="503" width="2" height="4" fill="#fff"/>
<rect x="147" y="271" width="2" height="3" fill="#fff"/>
<rect x="171" y="503" width="2" height="4" fill="#fff"/>
<rect x="171" y="271" width="2" height="3" fill="#fff"/>
<rect x="195" y="503" width="2" height="4" fill="#fff"/>
<rect x="195" y="271" width="2" height="3" fill="#fff"/>
<rect x="219" y="501" width="2" height="6" fill="#fff"/>
<rect x="219" y="271" width="2" height="5" fill="#fff"/>
<rect x="243" y="503" width="2" height="4" fill="#fff"/>
<rect x="243" y="271" width="2" height="3" fill="#fff"/>
<rect x="266" y="503" width="2" height="4" fill="#fff"/>
<rect x="266" y="271" width="2" height="3" fill="#fff"/>
<rect x="290" y="503" width="2" height="4" fill="#fff"/>
<rect x="290" y="271" width="2" height="3" fill="#fff"/>
<rect x="314" y="503" width="2" height="4" fill="#fff"/>
<rect x="314" y="271" width="2" height="3" fill="#fff"/>
<rect x="338" y="503" width="2" height="4" fill="#fff"/>
<rect x="338" y="271" width="2" height="3" fill="#fff"/>
<rect x="361" y="501" width="2" height="6" fill="#fff"/>
<rect x="361" y="271" width="2" height="5" fill="#fff"/>
<rect x="385" y="503" width="2" height="4" fill="#fff"/>
<rect x="385" y="271" width="2" height="3" fill="#fff"/>
<rect x="409" y="503" width="2" height="4" fill="#fff"/>
<rect x="409" y="271" width="2" height="3" fill="#fff"/>
<rect x="433" y="503" width="2" height="4" fill="#fff"/>
<rect x="433" y="271" width="2" height="3" fill="#fff"/>
<rect x="457" y="503" width="2" height="4" fill="#fff"/>
<rect x="457" y="271" width="2" height="3" fill="#fff"/>
<rect x="480" y="503" width="2" height="4" fill="#fff"/>
<rect x="480" y="271" width="2" height="3" fill="#fff"/>
<rect x="504" y="501" width="2" height="6" fill="#fff"/>
<rect x="504" y="271" width="2" height="5" fill="#fff"/>
<rect x="528" y="503" width="2" height="4" fill="#fff"/>
<rect x="528" y="271" width="2" height="3" fill="#fff"/>
<rect x="552" y="503" width="2" height="4" fill="#fff"/>
<rect x="552" y="271" width="2" height="3" fill="#fff"/>
<rect x="576" y="503" width="2" height="4" fill="#fff"/>
<rect x="576" y="271" width="2" height="3" fill="#fff"/>
<rect x="599" y="503" width="2" height="4" fill="#fff"/>
<rect x="599" y="271" width="2" height="3" fill="#fff"/>
<rect x="623" y="503" width="2" height="4" fill="#fff"/>
<rect x="623" y="271" width="2" height="3" fill="#fff"/>
<rect x="76" y="517" width="572" height="1" fill="#fff"/>
<rect x="76" y="563" width="572" height="1" fill="#fff"/>
<rect x="76" y="517" width="2" height="47" fill="#fff"/>
<rect x="100" y="559" width="2" height="5" fill="#fff"/>
<rect x="100" y="517" width="2" height="4" fill="#fff"/>
<rect x="124" y="559" width="2" height="5" fill="#fff"/>
<rect x="124" y="517" width="2" height="4" fill="#fff"/>
<rect x="147" y="559" width="2" height="5" fill="#fff"/>
<rect x="147" y="517" width="2" height="4" fill="#fff"/>
<rect x="171" y="559" width="2" height="5" fill="#fff"/>
<rect x="171" y="517" width="2" height="4" fill="#fff"/>
<rect x="195" y="559" width="2" height="5" fill="#fff"/>
<rect x="195" y="517" width="2" height="4" fill="#fff"/>
<rect x="219" y="559" width="2" height="5" fill="#fff"/>
<rect x="219" y="517" width="2" height="4" fill="#fff"/>
<rect x="243" y="559" width="2" height="5" fill="#fff"/>
<rect x="243" y="517" width="2" height="4" fill="#fff"/>
<rect x="266" y="559" width="2" height="5" fill="#fff"/>
<rect x="266" y="517" width="2" height="4" fill="#fff"/>
<rect x="290" y="559" width="2" height="5" fill="#fff"/>
<rect x="290" y="517" width="2" height="4" fill="#fff"/>
<rect x="314" y="559" width="2" height="5" fill="#fff"/>
<rect x="314" y="517" width="2" height="4" fill="#fff"/>
<rect x="338" y="559" width="2" height="5" fill="#fff"/>
<rect x="338" y="517" width="2" height="4" fill="#fff"/>
<rect x="361" y="559" width="2" height="5" fill="#fff"/>
<rect x="361" y="517" width="2" height="4" fill="#fff"/>
<rect x="385" y="559" width="2" height="5" fill="#fff"/>
<rect x="385" y="517" width="2" height="4" fill="#fff"/>
<rect x="409" y="559" width="2" height="5" fill="#fff"/>
<rect x="409" y="517" width="2" height="4" fill="#fff"/>
<rect x="433" y="559" width="2" height="5" fill="#fff"/>
<rect x="433" y="517" width="2" height="4" fill="#fff"/>
<rect x="457" y="559" width="2" height="5" fill="#fff"/>
<rect x="457" y="517" width="2" height="4" fill="#fff"/>
<rect x="480" y="559" width="2" height="5" fill="#fff"/>
<rect x="480" y="517" width="2" height="4" fill="#fff"/>
<rect x="504" y="559" width="2" height="5" fill="#fff"/>
<rect x="504" y="517" width="2" height="4" fill="#fff"/>
<rect x="528" y="559" width="2" height="5" fill="#fff"/>
<rect x="528" y="517" width="2" height="4" fill="#fff"/>
<rect x="552" y="559" width="2" height="5" fill="#fff"/>
<rect x="552" y="517" width="2" height="4" fill="#fff"/>
<rect x="576" y="559" width="2" height="5" fill="#fff"/>
<rect x="576" y="517" width="2" height="4" fill="#fff"/>
<rect x="599" y="559" width="2" height="5" fill="#fff"/>
<rect x="599" y="517" width="2" height="4" fill="#fff"/>
<rect x="623" y="559" width="2" height="5" fill="#fff"/>
<rect x="623" y="517" width="2" height="4" fill="#fff"/>
<rect x="78" y="517" width="12" height="1" fill="#fff"/>
<rect x="78" y="524" width="6" height="1" fill="#fff"/>
<rect x="78" y="532" width="12" height="1" fill="#fff"/>
<rect x="78" y="540" width="6" height="1" fill="#fff"/>
<rect x="78" y="548" width="12" height="1" fill="#fff"/>
<rect x="78" y="555" width="6" height="1" fill="#fff"/>
<rect x="78" y="562" width="12" height="1" fill="#fff"/>
<clipPath id="c3"><rect x="76" y="517" width="565" height="47"/></clipPath>
<path d="M77 525.6L90 526.2L105 528.5L120 531.6L135 535.2L150 538.8L159 541L200 541.2L270 541.4L280 537.8L295 533L310 529.4L325 527L340 525.6L355 524.6L368 524.4L380 525.2L395 527.2L410 530.6L425 534.6L435 537.6L470 540.6L510 543.2L543.5 545.2L552 541.6L565 537.6L580 533.6L595 530.4L610 527.8L626 525.8L640 525.2" stroke="#fff" stroke-width="1.15" fill="none" clip-path="url(#c3)" stroke-linejoin="round" shape-rendering="crispEdges"/>
<path d="M77 525.6L85 526L100 530.6L157.5 550.2L200 547L270.5 541.8L305.5 516L393.5 516L435 541.8L470 545.6L543.5 553.2L560 547.2L600 533.6L626 526L640 525" stroke="#f00" stroke-width="1.15" fill="none" clip-path="url(#c3)" stroke-linejoin="round" shape-rendering="crispEdges"/>
<rect x="647" y="516" width="2" height="49" fill="#f00"/>
<rect x="637" y="516" width="12" height="1" fill="#f00"/>
<rect x="637" y="517" width="12" height="1" fill="#f00"/>
<rect x="637" y="563" width="12" height="1" fill="#f00"/>
<rect x="637" y="564" width="12" height="1" fill="#f00"/>
<rect x="642" y="524" width="5" height="1" fill="#f00"/>
<rect x="637" y="532" width="10" height="1" fill="#f00"/>
<rect x="642" y="540" width="5" height="1" fill="#f00"/>
<rect x="637" y="548" width="10" height="1" fill="#f00"/>
<rect x="642" y="556" width="5" height="1" fill="#f00"/>
<linearGradient id="cb" gradientUnits="userSpaceOnUse" x1="0" y1="500" x2="0" y2="28">
<stop offset="0" stop-color="#000082"/>
<stop offset="0.025" stop-color="#000096"/>
<stop offset="0.05" stop-color="#0000a9"/>
<stop offset="0.075" stop-color="#0000bd"/>
<stop offset="0.1" stop-color="#0000d0"/>
<stop offset="0.125" stop-color="#0000e4"/>
<stop offset="0.15" stop-color="#0000f7"/>
<stop offset="0.175" stop-color="#000cff"/>
<stop offset="0.2" stop-color="#001fff"/>
<stop offset="0.225" stop-color="#0032ff"/>
<stop offset="0.25" stop-color="#0046ff"/>
<stop offset="0.275" stop-color="#0059ff"/>
<stop offset="0.3" stop-color="#006cff"/>
<stop offset="0.325" stop-color="#0080ff"/>
<stop offset="0.35" stop-color="#0093ff"/>
<stop offset="0.375" stop-color="#00a6ff"/>
<stop offset="0.4" stop-color="#00b9ff"/>
<stop offset="0.425" stop-color="#00cdff"/>
<stop offset="0.45" stop-color="#00e0ff"/>
<stop offset="0.475" stop-color="#00f3ff"/>
<stop offset="0.5" stop-color="#0bfff4"/>
<stop offset="0.525" stop-color="#25ffda"/>
<stop offset="0.55" stop-color="#40ffbf"/>
<stop offset="0.575" stop-color="#5affa5"/>
<stop offset="0.6" stop-color="#75ff8a"/>
<stop offset="0.625" stop-color="#8fff70"/>
<stop offset="0.65" stop-color="#af5"/>
<stop offset="0.675" stop-color="#c5ff3a"/>
<stop offset="0.7" stop-color="#dfff20"/>
<stop offset="0.725" stop-color="#faff05"/>
<stop offset="0.75" stop-color="#ffed00"/>
<stop offset="0.775" stop-color="#ffd700"/>
<stop offset="0.8" stop-color="#ffc100"/>
<stop offset="0.825" stop-color="#ffab00"/>
<stop offset="0.85" stop-color="#ff9400"/>
<stop offset="0.875" stop-color="#ff7e00"/>
<stop offset="0.9" stop-color="#ff6800"/>
<stop offset="0.925" stop-color="#ff5200"/>
<stop offset="0.95" stop-color="#ff3b00"/>
<stop offset="0.975" stop-color="#ff2500"/>
<stop offset="1" stop-color="#ff0f00"/>
</linearGradient>
<rect x="704" y="26" width="13" height="480" fill="#fff"/>
<rect x="705" y="28" width="11" height="477" fill="#000"/>
<rect x="705" y="28" width="11" height="472" fill="url(#cb)"/>
<rect x="705" y="186" width="4" height="1" fill="#fff"/>
<rect x="712" y="186" width="4" height="1" fill="#fff"/>
<rect x="705" y="345" width="4" height="1" fill="#fff"/>
<rect x="712" y="345" width="4" height="1" fill="#fff"/>
<g opacity="0.999">
<text x="74.63" y="21.30" font-size="13.4" fill="#fff" stroke="#fff" textLength="55.24" lengthAdjust="spacingAndGlyphs">TWINS1:</text>
<text x="137.13" y="21.30" font-size="13.4" fill="#fff" stroke="#fff" textLength="32.49" lengthAdjust="spacingAndGlyphs">Stop</text>
<text x="176.13" y="21.30" font-size="13.4" fill="#fff" stroke="#fff" textLength="55.49" lengthAdjust="spacingAndGlyphs">Counts:</text>
<text x="245.33" y="21.30" font-size="13.4" fill="#fff" stroke="#fff" textLength="9.14" lengthAdjust="spacingAndGlyphs">9</text>
<text x="261.63" y="21.30" font-size="13.4" fill="#fff" stroke="#fff" textLength="26.74" lengthAdjust="spacingAndGlyphs">Aug</text>
<text x="296.63" y="21.30" font-size="13.4" fill="#fff" stroke="#fff" textLength="31.74" lengthAdjust="spacingAndGlyphs">(day</text>
<text x="334.13" y="21.30" font-size="13.4" fill="#fff" stroke="#fff" textLength="39.24" lengthAdjust="spacingAndGlyphs">221),</text>
<text x="381.63" y="21.30" font-size="13.4" fill="#fff" stroke="#fff" textLength="36.74" lengthAdjust="spacingAndGlyphs">2010</text>
<text x="432.88" y="21.30" font-size="13.4" fill="#f00" stroke="#f00" textLength="41.74" lengthAdjust="spacingAndGlyphs">NOTE.</text>
<text x="481.63" y="21.30" font-size="13.4" fill="#f00" stroke="#f00" textLength="32.99" lengthAdjust="spacingAndGlyphs">Data</text>
<text x="522.88" y="21.30" font-size="13.4" fill="#f00" stroke="#f00" textLength="77.99" lengthAdjust="spacingAndGlyphs">Preliminary</text>
<text x="610.88" y="21.30" font-size="13.4" fill="#f00" stroke="#f00" textLength="11.24" lengthAdjust="spacingAndGlyphs">&#8211;</text>
<text x="629.13" y="21.30" font-size="13.4" fill="#f00" stroke="#f00" textLength="25.49" lengthAdjust="spacingAndGlyphs">Not</text>
<text x="660.38" y="21.30" font-size="13.4" fill="#f00" stroke="#f00" textLength="64.99" lengthAdjust="spacingAndGlyphs">validated</text>
<text x="47.88" y="43.00" font-size="13.4" fill="#fff" stroke="#fff" textLength="25.19" lengthAdjust="spacingAndGlyphs">100</text>
<text x="55.13" y="96.00" font-size="13.4" fill="#fff" stroke="#fff" textLength="17.94" lengthAdjust="spacingAndGlyphs">50</text>
<text x="63.63" y="149.00" font-size="13.4" fill="#fff" stroke="#fff" textLength="9.44" lengthAdjust="spacingAndGlyphs">0</text>
<text x="45.83" y="203.00" font-size="13.4" fill="#fff" stroke="#fff" textLength="27.24" lengthAdjust="spacingAndGlyphs">&#8722;50</text>
<text x="37.13" y="256.00" font-size="13.4" fill="#fff" stroke="#fff" textLength="35.94" lengthAdjust="spacingAndGlyphs">&#8722;100</text>
<text x="47.88" y="287.00" font-size="13.4" fill="#fff" stroke="#fff" textLength="25.19" lengthAdjust="spacingAndGlyphs">100</text>
<text x="55.13" y="340.00" font-size="13.4" fill="#fff" stroke="#fff" textLength="17.94" lengthAdjust="spacingAndGlyphs">50</text>
<text x="63.63" y="394.00" font-size="13.4" fill="#fff" stroke="#fff" textLength="9.44" lengthAdjust="spacingAndGlyphs">0</text>
<text x="45.83" y="447.00" font-size="13.4" fill="#fff" stroke="#fff" textLength="27.24" lengthAdjust="spacingAndGlyphs">&#8722;50</text>
<text x="37.13" y="500.00" font-size="13.4" fill="#fff" stroke="#fff" textLength="35.94" lengthAdjust="spacingAndGlyphs">&#8722;100</text>
<text x="26.30" y="218.87" font-size="13.4" fill="#fff" stroke="#fff" textLength="147.74" lengthAdjust="spacingAndGlyphs" transform="rotate(-90 26.30 218.87)">Toward Actuator Angle</text>
<text x="26.30" y="456.57" font-size="13.4" fill="#fff" stroke="#fff" textLength="134.14" lengthAdjust="spacingAndGlyphs" transform="rotate(-90 26.30 456.57)">Away Actuator Angle</text>
<text x="63.79" y="524.60" font-size="12.5" fill="#fff" stroke="#fff" textLength="9.43" lengthAdjust="spacingAndGlyphs">8</text>
<text x="63.79" y="537.60" font-size="12.5" fill="#fff" stroke="#fff" textLength="9.43" lengthAdjust="spacingAndGlyphs">6</text>
<text x="63.79" y="552.00" font-size="12.5" fill="#fff" stroke="#fff" textLength="9.43" lengthAdjust="spacingAndGlyphs">4</text>
<text x="63.79" y="564.80" font-size="12.5" fill="#fff" stroke="#fff" textLength="9.43" lengthAdjust="spacingAndGlyphs">2</text>
<text x="651.59" y="524.80" font-size="12.5" fill="#f00" stroke="#f00" textLength="16.73" lengthAdjust="spacingAndGlyphs">30</text>
<text x="651.59" y="537.80" font-size="12.5" fill="#f00" stroke="#f00" textLength="16.73" lengthAdjust="spacingAndGlyphs">20</text>
<text x="652.99" y="553.50" font-size="12.5" fill="#f00" stroke="#f00" textLength="15.33" lengthAdjust="spacingAndGlyphs">10</text>
<text x="651.59" y="564.80" font-size="12.5" fill="#f00" stroke="#f00" textLength="9.23" lengthAdjust="spacingAndGlyphs">0</text>
<text x="53.30" y="560.62" font-size="13.4" fill="#fff" stroke="#fff" textLength="40.74" lengthAdjust="spacingAndGlyphs" transform="rotate(-90 53.30 560.62)">R [R<tspan font-size="9" dy="2.5">E</tspan><tspan dy="-2.5">]</tspan></text>
<text x="683.20" y="562.87" font-size="13.4" fill="#f00" stroke="#f00" textLength="43.99" lengthAdjust="spacingAndGlyphs" transform="rotate(-90 683.20 562.87)">L Shell</text>
<text x="74.63" y="583.00" font-size="13.4" fill="#fff" stroke="#fff" textLength="30.49" lengthAdjust="spacingAndGlyphs">0:00</text>
<text x="204.13" y="583.00" font-size="13.4" fill="#fff" stroke="#fff" textLength="30.74" lengthAdjust="spacingAndGlyphs">6:00</text>
<text x="344.53" y="583.00" font-size="13.4" fill="#fff" stroke="#fff" textLength="37.74" lengthAdjust="spacingAndGlyphs">12:00</text>
<text x="486.83" y="583.00" font-size="13.4" fill="#fff" stroke="#fff" textLength="37.14" lengthAdjust="spacingAndGlyphs">18:00</text>
<text x="608.38" y="583.00" font-size="13.4" fill="#fff" stroke="#fff" textLength="38.49" lengthAdjust="spacingAndGlyphs">23:59</text>
<text x="329.73" y="598.40" font-size="13.4" fill="#fff" stroke="#fff" textLength="65.64" lengthAdjust="spacingAndGlyphs">Time (UT)</text>
<text x="720.90" y="39.75" font-size="9.2" fill="#fff" stroke="#fff" style="stroke-width:0.55px" textLength="9.50" lengthAdjust="spacingAndGlyphs">10</text>
<text x="730.38" y="36.10" font-size="12.6" fill="#fff" stroke="#fff" style="stroke-width:0.12px" textLength="8.64" lengthAdjust="spacingAndGlyphs">5</text>
<text x="720.90" y="195.60" font-size="9.2" fill="#fff" stroke="#fff" style="stroke-width:0.55px" textLength="9.50" lengthAdjust="spacingAndGlyphs">10</text>
<text x="730.38" y="191.40" font-size="12.6" fill="#fff" stroke="#fff" style="stroke-width:0.12px" textLength="8.64" lengthAdjust="spacingAndGlyphs">4</text>
<text x="720.90" y="354.50" font-size="9.2" fill="#fff" stroke="#fff" style="stroke-width:0.55px" textLength="9.50" lengthAdjust="spacingAndGlyphs">10</text>
<text x="730.38" y="351.80" font-size="12.6" fill="#fff" stroke="#fff" style="stroke-width:0.12px" textLength="8.64" lengthAdjust="spacingAndGlyphs">3</text>
<text x="719.93" y="506.40" font-size="13.4" fill="#fff" stroke="#fff" textLength="25.74" lengthAdjust="spacingAndGlyphs">100</text>
<text x="760.60" y="361.87" font-size="13.4" fill="#fff" stroke="#fff" textLength="188.74" lengthAdjust="spacingAndGlyphs" transform="rotate(-90 760.60 361.87)">LOG<tspan font-size="9" dy="3">10</tspan><tspan dy="-3">(Total Stops per Scan)</tspan></text>
<text x="785.30" y="587.75" font-size="11.5" fill="#d8d8d8" stroke="none" textLength="54.49" lengthAdjust="spacingAndGlyphs" transform="rotate(-90 785.30 587.75)">30 May 12</text>
</g>
</svg>
</body></html>
